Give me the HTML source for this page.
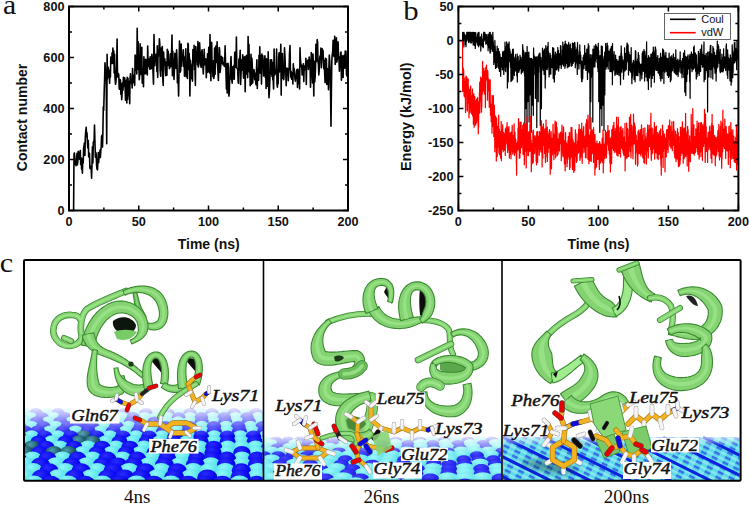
<!DOCTYPE html>
<html><head><meta charset="utf-8"><style>
html,body{margin:0;padding:0;background:#fff;width:749px;height:505px;overflow:hidden}
svg{display:block}
.ax{font-family:"Liberation Sans",sans-serif;font-weight:bold;font-size:12.7px;fill:#111}
.tt{font-family:"Liberation Sans",sans-serif;font-weight:bold;font-size:14px;fill:#111}
.pl{font-family:"Liberation Serif",serif;font-size:27px;fill:#111}
.lg{font-family:"Liberation Sans",sans-serif;font-size:11px;fill:#111}
.sub{font-family:"Liberation Serif",serif;font-size:19px;fill:#111}
.res{font-family:"Liberation Serif",serif;font-style:italic;font-size:17px;fill:#111;stroke:#111;stroke-width:0.45px}
</style></head><body>
<svg width="749" height="505" viewBox="0 0 749 505">
<rect width="749" height="505" fill="#fff"/>
<text class="pl" transform="translate(3.0,14.3) scale(1.06,1)" style="font-size:28px">a</text>
<text class="pl" transform="translate(403.3,19.9) scale(1.12,1)" style="font-size:27.5px">b</text>
<text class="pl" transform="translate(-0.2,271.8) scale(1.08,1)" style="font-size:28px">c</text>
<!-- chart a -->
<polyline points="73.6,210.5 74.0,154.4 74.4,152.9 74.9,159.3 75.3,164.3 75.7,162.7 76.1,165.8 76.5,160.5 77.0,153.2 77.4,164.8 77.8,161.9 78.2,151.3 78.6,152.5 79.0,154.2 79.5,159.2 79.9,153.6 80.3,150.5 80.7,164.5 81.1,157.9 81.6,169.2 82.0,167.6 82.4,173.3 82.8,158.4 83.2,162.9 83.6,148.6 84.1,145.2 84.5,142.7 84.9,155.5 85.3,137.4 85.7,131.7 86.2,127.3 86.6,136.3 87.0,132.9 87.4,142.2 87.8,148.0 88.3,140.5 88.7,157.0 89.1,153.8 89.5,153.4 89.9,168.3 90.3,168.6 90.8,166.2 91.2,168.4 91.6,178.3 92.0,163.6 92.4,146.9 92.9,163.0 93.3,142.6 93.7,141.3 94.1,141.5 94.5,125.0 94.9,140.6 95.4,157.2 95.8,152.2 96.2,154.5 96.6,165.3 97.0,169.1 97.5,169.9 97.9,161.9 98.3,152.5 98.7,162.6 99.1,153.8 99.6,157.7 100.0,150.0 100.4,157.5 100.8,150.9 101.2,146.4 101.6,136.4 102.1,135.2 102.5,147.0 102.9,130.7 103.3,106.9 103.7,110.4 104.2,91.5 104.6,79.3 105.0,62.8 105.4,69.1 105.8,79.4 106.2,77.4 106.7,143.7 107.1,54.4 107.5,78.8 107.9,75.8 108.3,67.3 108.8,72.4 109.2,72.5 109.6,83.3 110.0,70.4 110.4,77.1 110.8,57.1 111.3,59.2 111.7,63.4 112.1,52.8 112.5,63.4 112.9,48.0 113.4,57.9 113.8,51.1 114.2,73.1 114.6,54.3 115.0,77.8 115.5,84.3 115.9,82.3 116.3,76.1 116.7,65.6 117.1,39.1 117.5,77.0 118.0,76.2 118.4,73.5 118.8,75.4 119.2,88.7 119.6,89.2 120.1,79.5 120.5,80.7 120.9,94.4 121.3,83.5 121.7,99.7 122.1,93.5 122.6,82.6 123.0,90.3 123.4,77.2 123.8,85.0 124.2,86.5 124.7,77.9 125.1,85.8 125.5,100.3 125.9,95.1 126.3,80.4 126.8,103.0 127.2,77.4 127.6,99.4 128.0,78.4 128.4,95.6 128.8,81.1 129.3,88.6 129.7,103.7 130.1,77.4 130.5,73.9 130.9,82.5 131.4,82.6 131.8,81.9 132.2,88.0 132.6,68.6 133.0,82.7 133.4,75.1 133.9,82.4 134.3,81.0 134.7,85.4 135.1,55.0 135.5,70.3 136.0,56.4 136.4,66.1 136.8,73.9 137.2,28.2 137.6,69.2 138.1,41.5 138.5,65.7 138.9,67.1 139.3,79.8 139.7,73.3 140.1,43.8 140.6,73.0 141.0,74.5 141.4,57.9 141.8,47.2 142.2,83.1 142.7,68.4 143.1,72.9 143.5,86.8 143.9,56.7 144.3,66.1 144.7,63.5 145.2,73.9 145.6,59.3 146.0,68.9 146.4,59.9 146.8,72.9 147.3,74.9 147.7,46.1 148.1,66.2 148.5,58.5 148.9,62.7 149.4,67.2 149.8,69.2 150.2,56.8 150.6,67.9 151.0,68.8 151.4,68.1 151.9,54.2 152.3,58.7 152.7,61.6 153.1,74.8 153.5,84.3 154.0,34.6 154.4,53.2 154.8,65.8 155.2,58.8 155.6,54.5 156.0,54.4 156.5,54.8 156.9,71.6 157.3,45.7 157.7,77.4 158.1,50.7 158.6,55.7 159.0,49.7 159.4,38.9 159.8,43.8 160.2,70.7 160.7,76.3 161.1,48.1 161.5,70.1 161.9,58.1 162.3,46.5 162.7,76.9 163.2,85.5 163.6,52.1 164.0,60.7 164.4,64.0 164.8,58.7 165.3,69.0 165.7,75.7 166.1,62.0 166.5,70.3 166.9,75.2 167.3,49.4 167.8,56.4 168.2,51.3 168.6,65.5 169.0,63.9 169.4,68.7 169.9,67.3 170.3,54.0 170.7,66.8 171.1,53.5 171.5,54.6 172.0,35.1 172.4,75.8 172.8,51.2 173.2,62.9 173.6,60.8 174.0,79.4 174.5,68.3 174.9,53.2 175.3,64.7 175.7,62.5 176.1,68.5 176.6,49.7 177.0,59.9 177.4,82.8 177.8,83.0 178.2,80.6 178.6,96.1 179.1,64.7 179.5,41.0 179.9,58.9 180.3,72.1 180.7,70.0 181.2,44.1 181.6,66.3 182.0,58.8 182.4,60.1 182.8,58.3 183.3,49.8 183.7,66.4 184.1,57.8 184.5,76.3 184.9,56.7 185.3,69.7 185.8,48.9 186.2,76.8 186.6,62.1 187.0,61.7 187.4,78.5 187.9,43.2 188.3,44.5 188.7,69.5 189.1,53.2 189.5,59.1 189.9,96.0 190.4,60.3 190.8,64.3 191.2,64.7 191.6,78.7 192.0,67.7 192.5,81.1 192.9,49.6 193.3,59.1 193.7,62.1 194.1,45.4 194.5,69.4 195.0,67.7 195.4,85.4 195.8,46.5 196.2,53.5 196.6,54.0 197.1,57.8 197.5,64.9 197.9,41.6 198.3,67.0 198.7,65.2 199.2,60.5 199.6,42.9 200.0,51.0 200.4,60.2 200.8,65.6 201.2,67.4 201.7,51.9 202.1,49.7 202.5,58.8 202.9,65.7 203.3,74.0 203.8,61.0 204.2,49.3 204.6,64.8 205.0,62.6 205.4,62.1 205.8,58.9 206.3,77.8 206.7,66.0 207.1,72.5 207.5,53.9 207.9,72.0 208.4,56.8 208.8,47.2 209.2,68.2 209.6,73.0 210.0,34.6 210.5,69.5 210.9,80.8 211.3,62.5 211.7,42.4 212.1,69.2 212.5,66.8 213.0,76.7 213.4,60.9 213.8,78.4 214.2,75.2 214.6,48.0 215.1,74.2 215.5,51.3 215.9,46.1 216.3,62.4 216.7,57.3 217.1,41.7 217.6,66.2 218.0,72.2 218.4,80.5 218.8,63.6 219.2,47.5 219.7,50.4 220.1,72.5 220.5,69.0 220.9,64.0 221.3,56.4 221.8,63.3 222.2,58.1 222.6,57.5 223.0,64.8 223.4,62.5 223.8,62.7 224.3,66.4 224.7,62.9 225.1,45.9 225.5,61.7 225.9,68.7 226.4,89.1 226.8,63.8 227.2,93.1 227.6,71.1 228.0,63.3 228.4,67.3 228.9,96.1 229.3,92.5 229.7,77.7 230.1,79.4 230.5,65.4 231.0,56.5 231.4,68.9 231.8,80.0 232.2,83.1 232.6,66.8 233.1,67.7 233.5,78.9 233.9,65.4 234.3,79.2 234.7,52.9 235.1,52.1 235.6,51.9 236.0,67.4 236.4,37.1 236.8,67.2 237.2,68.8 237.7,68.8 238.1,81.3 238.5,83.3 238.9,59.0 239.3,70.1 239.7,61.2 240.2,50.3 240.6,84.4 241.0,74.7 241.4,64.1 241.8,59.9 242.3,70.2 242.7,54.7 243.1,62.8 243.5,78.1 243.9,75.5 244.4,56.9 244.8,63.2 245.2,91.7 245.6,56.7 246.0,63.6 246.4,55.3 246.9,74.2 247.3,69.8 247.7,77.6 248.1,36.5 248.5,66.9 249.0,44.5 249.4,72.1 249.8,64.1 250.2,85.8 250.6,73.1 251.0,54.4 251.5,84.3 251.9,58.4 252.3,66.9 252.7,82.9 253.1,75.8 253.6,74.4 254.0,69.6 254.4,73.2 254.8,79.8 255.2,73.2 255.7,82.4 256.1,84.8 256.5,69.5 256.9,59.7 257.3,88.5 257.7,68.8 258.2,75.6 258.6,80.3 259.0,55.3 259.4,67.9 259.8,46.9 260.3,73.3 260.7,55.9 261.1,62.4 261.5,84.1 261.9,54.0 262.3,64.1 262.8,55.9 263.2,64.7 263.6,75.9 264.0,65.2 264.4,64.3 264.9,55.7 265.3,77.5 265.7,68.7 266.1,88.5 266.5,58.8 267.0,78.5 267.4,86.3 267.8,81.9 268.2,51.7 268.6,82.9 269.0,97.7 269.5,89.3 269.9,79.6 270.3,59.8 270.7,73.9 271.1,74.2 271.6,59.7 272.0,76.5 272.4,62.2 272.8,79.7 273.2,80.5 273.6,89.0 274.1,49.1 274.5,75.4 274.9,71.4 275.3,73.9 275.7,69.3 276.2,69.1 276.6,49.1 277.0,84.3 277.4,87.1 277.8,80.0 278.2,83.6 278.7,57.4 279.1,52.7 279.5,71.9 279.9,59.5 280.3,65.1 280.8,44.2 281.2,95.1 281.6,57.9 282.0,76.8 282.4,53.6 282.9,78.5 283.3,69.1 283.7,79.8 284.1,75.3 284.5,47.9 284.9,55.0 285.4,68.7 285.8,72.8 286.2,85.8 286.6,69.7 287.0,68.1 287.5,69.9 287.9,68.8 288.3,80.6 288.7,69.6 289.1,69.5 289.5,53.5 290.0,45.6 290.4,69.9 290.8,77.3 291.2,71.6 291.6,79.2 292.1,77.6 292.5,72.6 292.9,84.0 293.3,63.7 293.7,72.0 294.2,68.5 294.6,73.1 295.0,78.9 295.4,81.1 295.8,75.2 296.2,78.3 296.7,69.7 297.1,72.6 297.5,87.4 297.9,69.0 298.3,83.7 298.8,75.6 299.2,70.0 299.6,88.9 300.0,47.9 300.4,59.1 300.8,63.3 301.3,67.0 301.7,65.4 302.1,74.9 302.5,66.4 302.9,70.7 303.4,63.7 303.8,81.6 304.2,65.8 304.6,66.5 305.0,68.1 305.5,69.8 305.9,58.3 306.3,84.5 306.7,60.8 307.1,62.5 307.5,62.3 308.0,60.1 308.4,69.5 308.8,65.1 309.2,57.1 309.6,60.8 310.1,65.5 310.5,87.2 310.9,74.7 311.3,52.5 311.7,56.5 312.1,64.1 312.6,82.9 313.0,54.0 313.4,67.7 313.8,96.0 314.2,61.2 314.7,81.9 315.1,77.7 315.5,68.2 315.9,44.2 316.3,61.8 316.8,53.9 317.2,39.6 317.6,41.9 318.0,61.7 318.4,64.2 318.8,74.9 319.3,69.2 319.7,57.7 320.1,55.9 320.5,58.5 320.9,48.1 321.4,67.7 321.8,58.1 322.2,48.9 322.6,55.0 323.0,50.5 323.4,59.1 323.9,68.9 324.3,60.5 324.7,74.5 325.1,82.7 325.5,58.4 326.0,62.5 326.4,59.0 326.8,84.5 327.2,68.3 327.6,70.4 328.1,74.6 328.5,89.7 328.9,68.0 329.3,55.0 329.7,60.6 330.1,70.8 330.6,95.8 331.0,126.3 331.4,90.7 331.8,61.5 332.2,55.2 332.7,51.7 333.1,40.4 333.5,47.6 333.9,56.5 334.3,55.7 334.7,36.2 335.2,64.4 335.6,60.2 336.0,50.5 336.4,37.7 336.8,62.1 337.3,59.1 337.7,56.3 338.1,41.9 338.5,56.4 338.9,56.6 339.4,71.3 339.8,64.6 340.2,67.3 340.6,53.3 341.0,52.0 341.4,80.2 341.9,72.7 342.3,55.7 342.7,66.5 343.1,77.5 343.5,61.6 344.0,55.3 344.4,55.6 344.8,68.3 345.2,51.1 345.6,63.8 346.0,51.3 346.5,74.8 346.9,75.8 347.3,63.2 347.7,72.6" fill="none" stroke="#000" stroke-width="1.6" stroke-linejoin="round"/>
<rect x="69" y="6.5" width="279" height="204" fill="none" stroke="#000" stroke-width="2"/>
<path d="M69.00 210.5v-5M69.00 6.5v5M103.88 210.5v-3M103.88 6.5v3M138.75 210.5v-5M138.75 6.5v5M173.62 210.5v-3M173.62 6.5v3M208.50 210.5v-5M208.50 6.5v5M243.38 210.5v-3M243.38 6.5v3M278.25 210.5v-5M278.25 6.5v5M313.12 210.5v-3M313.12 6.5v3M348.00 210.5v-5M348.00 6.5v5M69 210.50h5M348 210.50h-5M69 185.00h3M348 185.00h-3M69 159.50h5M348 159.50h-5M69 134.00h3M348 134.00h-3M69 108.50h5M348 108.50h-5M69 83.00h3M348 83.00h-3M69 57.50h5M348 57.50h-5M69 32.00h3M348 32.00h-3M69 6.50h5M348 6.50h-5" stroke="#000" stroke-width="1.5" fill="none"/>
<g class="ax"><text x="64.5" y="215.0" text-anchor="end">0</text><text x="64.5" y="164.0" text-anchor="end">200</text><text x="64.5" y="113.0" text-anchor="end">400</text><text x="64.5" y="62.0" text-anchor="end">600</text><text x="64.5" y="11.0" text-anchor="end">800</text><text x="69.0" y="225.6" text-anchor="middle">0</text><text x="138.8" y="225.6" text-anchor="middle">50</text><text x="208.5" y="225.6" text-anchor="middle">100</text><text x="278.2" y="225.6" text-anchor="middle">150</text><text x="348.0" y="225.6" text-anchor="middle">200</text></g>
<text class="tt" x="208.7" y="249" text-anchor="middle">Time (ns)</text>
<text class="tt" transform="translate(26.5,117.5) rotate(-90)" text-anchor="middle">Contact number</text>
<!-- chart b -->
<polyline points="458.4,40.5 462.6,40.5 462.6,38.3 462.7,32.3 462.9,32.3 463.0,40.0 463.2,38.1 463.3,39.1 463.4,34.0 463.6,36.1 463.7,33.2 463.9,47.0 464.0,32.3 464.1,38.9 464.3,34.6 464.4,38.7 464.6,39.9 464.7,35.7 464.8,34.3 465.0,38.9 465.1,38.4 465.3,35.4 465.4,40.9 465.5,44.4 465.7,35.8 465.8,40.7 466.0,46.7 466.1,41.2 466.2,38.8 466.4,40.7 466.5,41.5 466.7,35.1 466.8,32.3 466.9,36.7 467.1,38.8 467.2,33.4 467.4,32.3 467.5,36.8 467.6,34.2 467.8,32.3 467.9,36.5 468.1,40.5 468.2,36.3 468.3,36.6 468.5,32.3 468.6,42.3 468.8,38.5 468.9,39.0 469.0,42.6 469.2,33.5 469.3,32.3 469.5,37.4 469.6,32.3 469.7,32.3 469.9,32.3 470.0,33.2 470.2,32.3 470.3,41.4 470.4,32.9 470.6,33.3 470.7,42.9 470.9,33.4 471.0,36.0 471.1,32.3 471.3,37.9 471.4,36.9 471.6,37.5 471.7,42.8 471.8,35.8 472.0,38.3 472.1,35.4 472.3,40.6 472.4,32.3 472.5,33.9 472.7,37.5 472.8,34.8 473.0,32.3 473.1,32.3 473.2,45.0 473.4,33.9 473.5,35.6 473.7,38.7 473.8,41.7 473.9,32.5 474.1,44.5 474.2,36.1 474.4,32.7 474.5,45.5 474.6,40.1 474.8,44.5 474.9,38.0 475.1,33.7 475.2,32.3 475.3,48.4 475.5,43.2 475.6,36.9 475.8,32.9 475.9,35.8 476.0,42.1 476.2,38.1 476.3,39.3 476.5,39.0 476.6,41.6 476.7,37.8 476.9,37.2 477.0,39.7 477.2,40.4 477.3,44.3 477.4,41.3 477.6,34.2 477.7,39.9 477.9,45.6 478.0,33.1 478.1,37.4 478.3,32.3 478.4,40.4 478.6,43.9 478.7,46.8 478.8,34.1 479.0,32.3 479.1,43.6 479.3,42.8 479.4,37.4 479.5,44.9 479.7,41.9 479.8,42.8 480.0,40.5 480.1,37.7 480.2,41.5 480.4,36.9 480.5,42.4 480.7,39.8 480.8,51.1 480.9,47.0 481.1,37.3 481.2,43.1 481.4,37.8 481.5,38.9 481.6,34.1 481.8,38.0 481.9,36.8 482.1,41.8 482.2,45.7 482.3,45.5 482.5,43.9 482.6,46.6 482.8,44.7 482.9,42.2 483.0,39.7 483.2,42.1 483.3,47.7 483.5,38.8 483.6,36.9 483.7,32.3 483.9,35.0 484.0,40.9 484.2,41.0 484.3,32.3 484.4,33.1 484.6,32.3 484.7,32.3 484.9,39.3 485.0,34.4 485.1,34.5 485.3,34.6 485.4,34.1 485.6,36.2 485.7,36.8 485.8,44.2 486.0,38.9 486.1,41.8 486.3,39.8 486.4,43.5 486.5,36.1 486.7,34.6 486.8,38.1 487.0,39.6 487.1,39.3 487.2,43.2 487.4,41.1 487.5,45.0 487.7,38.3 487.8,40.7 487.9,37.1 488.1,50.8 488.2,34.1 488.4,46.4 488.5,47.1 488.6,42.4 488.8,45.0 488.9,39.3 489.1,43.8 489.2,47.5 489.3,46.2 489.5,32.3 489.6,40.5 489.8,49.2 489.9,41.0 490.0,52.9 490.2,32.3 490.3,53.1 490.5,38.8 490.6,38.1 490.7,51.9 490.9,39.5 491.0,34.4 491.2,38.8 491.3,40.8 491.4,35.3 491.6,42.9 491.7,41.6 491.9,42.6 492.0,39.0 492.1,49.4 492.3,38.8 492.4,48.1 492.6,51.3 492.7,40.1 492.8,32.3 493.0,38.5 493.1,50.6 493.3,41.7 493.4,50.6 493.5,48.6 493.7,47.2 493.8,64.5 494.0,46.5 494.1,55.5 494.2,54.8 494.4,59.6 494.5,62.5 494.7,57.7 494.8,46.0 494.9,40.5 495.1,53.3 495.2,46.0 495.4,56.0 495.5,68.4 495.6,54.9 495.8,52.4 495.9,59.4 496.1,53.4 496.2,52.0 496.3,63.1 496.5,67.5 496.6,58.1 496.8,59.1 496.9,60.7 497.0,50.3 497.2,46.2 497.3,62.5 497.5,54.7 497.6,54.3 497.7,58.0 497.9,57.0 498.0,66.9 498.2,58.3 498.3,48.6 498.4,57.0 498.6,68.2 498.7,58.9 498.9,53.3 499.0,60.3 499.1,66.2 499.3,51.5 499.4,71.3 499.6,58.5 499.7,63.5 499.8,70.7 500.0,54.2 500.1,60.5 500.3,71.8 500.4,58.8 500.5,65.8 500.7,76.3 500.8,66.6 501.0,59.6 501.1,57.3 501.2,63.1 501.4,64.2 501.5,61.4 501.7,66.9 501.8,57.7 501.9,64.5 502.1,62.6 502.2,59.3 502.4,69.8 502.5,68.0 502.6,51.8 502.8,61.5 502.9,65.3 503.1,60.6 503.2,67.1 503.3,61.7 503.5,68.6 503.6,62.4 503.8,74.5 503.9,51.2 504.0,63.7 504.2,70.5 504.3,60.8 504.5,62.2 504.6,56.7 504.7,66.4 504.9,55.1 505.0,42.2 505.2,66.9 505.3,55.4 505.4,59.7 505.6,57.2 505.7,71.7 505.9,65.9 506.0,55.3 506.1,59.5 506.3,46.5 506.4,63.0 506.6,55.9 506.7,41.9 506.8,64.5 507.0,66.6 507.1,61.5 507.3,61.3 507.4,88.1 507.5,60.4 507.7,67.6 507.8,61.2 508.0,44.0 508.1,54.8 508.2,81.9 508.4,62.5 508.5,68.1 508.7,57.8 508.8,61.6 508.9,44.8 509.1,42.0 509.2,52.5 509.4,56.6 509.5,59.2 509.6,57.1 509.8,49.2 509.9,55.3 510.1,62.0 510.2,51.6 510.3,60.0 510.5,61.4 510.6,67.2 510.8,66.7 510.9,67.7 511.0,81.6 511.2,54.3 511.3,58.0 511.5,63.5 511.6,54.1 511.7,58.4 511.9,60.4 512.0,80.5 512.2,64.6 512.3,58.5 512.4,51.9 512.6,49.4 512.7,52.8 512.9,72.7 513.0,79.0 513.1,59.6 513.3,49.2 513.4,56.6 513.6,63.5 513.7,60.2 513.8,71.6 514.0,57.1 514.1,64.9 514.3,75.5 514.4,59.7 514.5,64.6 514.7,61.1 514.8,63.3 515.0,59.0 515.1,61.7 515.2,70.0 515.4,71.0 515.5,54.5 515.7,67.0 515.8,58.1 515.9,63.1 516.1,70.4 516.2,70.4 516.4,63.4 516.5,62.2 516.6,61.6 516.8,75.8 516.9,70.8 517.1,67.7 517.2,53.9 517.3,82.0 517.5,61.8 517.6,69.6 517.8,63.5 517.9,70.6 518.0,64.9 518.2,56.5 518.3,64.7 518.5,63.9 518.6,63.4 518.7,72.5 518.9,63.0 519.0,68.2 519.2,71.1 519.3,65.7 519.4,66.8 519.6,60.4 519.7,65.7 519.9,68.8 520.0,55.1 520.1,58.8 520.3,56.8 520.4,61.0 520.6,67.0 520.7,68.4 520.8,67.7 521.0,57.3 521.1,62.1 521.3,73.8 521.4,64.0 521.5,71.8 521.7,60.0 521.8,69.4 522.0,70.2 522.1,60.5 522.2,61.3 522.4,72.2 522.5,55.7 522.7,44.6 522.8,70.5 522.9,47.7 523.1,64.9 523.2,63.7 523.4,60.9 523.5,70.5 523.6,50.6 523.8,57.8 523.9,66.4 524.1,64.3 524.2,73.1 524.3,66.8 524.5,57.7 524.6,76.0 524.8,66.5 524.9,128.9 525.0,55.8 525.2,52.4 525.3,64.0 525.5,67.0 525.6,59.2 525.7,65.5 525.9,108.5 526.0,55.1 526.2,52.8 526.3,62.4 526.4,65.9 526.6,61.2 526.7,78.0 526.9,64.9 527.0,132.3 527.1,46.3 527.3,58.5 527.4,61.6 527.6,63.4 527.7,80.4 527.8,101.7 528.0,52.6 528.1,68.9 528.3,59.0 528.4,57.3 528.5,73.3 528.7,55.4 528.8,52.1 529.0,60.9 529.1,122.1 529.2,57.6 529.4,76.2 529.5,65.9 529.7,58.4 529.8,75.1 529.9,59.2 530.1,94.9 530.2,82.7 530.4,67.8 530.5,73.9 530.6,65.0 530.8,74.3 530.9,58.4 531.1,71.5 531.2,132.3 531.3,70.8 531.5,68.4 531.6,58.4 531.8,65.9 531.9,70.8 532.0,76.7 532.2,59.3 532.3,105.1 532.5,69.3 532.6,64.0 532.7,71.7 532.9,71.0 533.0,69.0 533.2,60.9 533.3,115.3 533.4,69.1 533.6,48.0 533.7,57.5 533.9,63.3 534.0,54.9 534.1,65.4 534.3,64.2 534.4,59.2 534.6,63.9 534.7,58.5 534.8,74.7 535.0,56.7 535.1,74.0 535.3,69.4 535.4,98.3 535.5,63.7 535.7,57.8 535.8,58.0 536.0,59.7 536.1,76.9 536.2,71.5 536.4,69.5 536.5,71.8 536.7,56.8 536.8,127.5 536.9,65.4 537.1,61.3 537.2,71.8 537.4,71.2 537.5,71.0 537.6,60.0 537.8,60.2 537.9,59.7 538.1,56.2 538.2,101.7 538.3,67.7 538.5,61.9 538.6,72.3 538.8,66.0 538.9,55.0 539.0,54.2 539.2,53.9 539.3,62.5 539.5,65.1 539.6,56.7 539.7,65.7 539.9,60.3 540.0,53.0 540.2,64.9 540.3,125.5 540.4,63.4 540.6,58.4 540.7,59.5 540.9,60.5 541.0,57.5 541.1,72.9 541.3,67.8 541.4,108.5 541.6,68.3 541.7,70.1 541.8,67.2 542.0,66.2 542.1,60.8 542.3,66.3 542.4,58.1 542.5,48.2 542.7,61.8 542.8,53.7 543.0,60.2 543.1,70.3 543.2,64.2 543.4,69.3 543.5,56.6 543.7,68.5 543.8,50.7 543.9,55.4 544.1,74.4 544.2,54.1 544.4,49.0 544.5,65.9 544.6,54.0 544.8,74.5 544.9,59.5 545.1,72.6 545.2,88.1 545.3,73.8 545.5,79.6 545.6,60.0 545.8,45.7 545.9,66.4 546.0,56.0 546.2,60.2 546.3,63.6 546.5,56.2 546.6,49.2 546.7,69.3 546.9,56.9 547.0,58.2 547.2,69.7 547.3,48.6 547.4,46.7 547.6,67.7 547.7,48.3 547.9,58.1 548.0,60.2 548.1,42.4 548.3,59.7 548.4,60.3 548.6,52.2 548.7,53.8 548.8,57.4 549.0,74.2 549.1,76.9 549.3,57.4 549.4,72.6 549.5,64.0 549.7,71.8 549.8,66.1 550.0,74.1 550.1,53.3 550.2,71.5 550.4,66.4 550.5,66.8 550.7,55.3 550.8,74.1 550.9,63.9 551.1,65.1 551.2,60.8 551.4,60.3 551.5,66.8 551.6,61.6 551.8,65.3 551.9,58.6 552.1,64.2 552.2,67.7 552.3,63.7 552.5,60.7 552.6,47.7 552.8,68.0 552.9,61.4 553.0,53.1 553.2,78.6 553.3,76.4 553.5,72.3 553.6,64.6 553.7,48.2 553.9,63.4 554.0,57.7 554.2,67.2 554.3,82.0 554.4,81.6 554.6,56.1 554.7,61.9 554.9,72.1 555.0,55.2 555.1,74.6 555.3,54.3 555.4,52.1 555.6,68.0 555.7,69.4 555.8,54.0 556.0,69.1 556.1,55.3 556.3,69.9 556.4,54.1 556.5,57.2 556.7,61.0 556.8,64.0 557.0,55.3 557.1,69.6 557.2,58.4 557.4,58.6 557.5,51.5 557.7,67.6 557.8,47.5 557.9,61.8 558.1,67.0 558.2,50.8 558.4,50.3 558.5,63.4 558.6,71.1 558.8,64.1 558.9,68.2 559.1,67.8 559.2,53.7 559.3,62.0 559.5,62.5 559.6,60.7 559.8,63.7 559.9,57.0 560.0,55.9 560.2,64.6 560.3,61.0 560.5,45.6 560.6,59.4 560.7,63.6 560.9,46.0 561.0,60.5 561.2,68.4 561.3,56.2 561.4,66.8 561.6,64.0 561.7,58.6 561.9,60.5 562.0,63.5 562.1,62.3 562.3,63.4 562.4,49.9 562.6,64.0 562.7,60.6 562.8,42.1 563.0,59.8 563.1,46.3 563.3,47.6 563.4,57.2 563.5,65.9 563.7,52.9 563.8,49.4 564.0,58.0 564.1,53.4 564.2,45.8 564.4,44.7 564.5,61.1 564.7,44.1 564.8,53.1 564.9,68.3 565.1,56.3 565.2,41.2 565.4,46.5 565.5,65.9 565.6,53.1 565.8,54.2 565.9,53.7 566.1,57.1 566.2,63.3 566.3,44.0 566.5,57.2 566.6,52.7 566.8,55.6 566.9,56.2 567.0,46.3 567.2,48.3 567.3,67.7 567.5,59.0 567.6,54.8 567.7,44.8 567.9,51.7 568.0,51.0 568.2,55.9 568.3,55.1 568.4,51.8 568.6,66.9 568.7,42.4 568.9,60.0 569.0,57.6 569.1,45.7 569.3,52.4 569.4,53.6 569.6,58.3 569.7,65.9 569.8,53.0 570.0,46.0 570.1,61.1 570.3,44.1 570.4,62.3 570.5,59.8 570.7,50.6 570.8,53.4 571.0,48.6 571.1,58.8 571.2,60.8 571.4,66.2 571.5,60.4 571.7,60.3 571.8,63.0 571.9,50.7 572.1,57.2 572.2,65.5 572.4,43.1 572.5,57.3 572.6,59.5 572.8,43.1 572.9,44.1 573.1,61.0 573.2,63.4 573.3,59.9 573.5,45.2 573.6,54.1 573.8,58.3 573.9,53.0 574.0,43.4 574.2,61.3 574.3,54.3 574.5,61.2 574.6,42.6 574.7,42.4 574.9,43.6 575.0,52.3 575.2,46.7 575.3,67.8 575.4,51.6 575.6,64.2 575.7,63.1 575.9,59.1 576.0,56.4 576.1,50.6 576.3,49.9 576.4,53.3 576.6,62.7 576.7,50.4 576.8,57.5 577.0,47.7 577.1,60.5 577.3,74.4 577.4,58.1 577.5,42.5 577.7,52.7 577.8,58.9 578.0,50.7 578.1,53.9 578.2,55.7 578.4,63.7 578.5,60.8 578.7,60.0 578.8,65.3 578.9,69.0 579.1,60.9 579.2,55.6 579.4,57.8 579.5,60.8 579.6,60.1 579.8,44.9 579.9,63.4 580.1,56.7 580.2,51.5 580.3,54.0 580.5,62.5 580.6,58.2 580.8,55.1 580.9,65.7 581.0,66.1 581.2,68.0 581.3,77.5 581.5,61.1 581.6,71.2 581.7,81.6 581.9,70.9 582.0,81.7 582.2,76.4 582.3,69.8 582.4,74.8 582.6,61.5 582.7,78.8 582.9,66.9 583.0,64.3 583.1,57.3 583.3,60.3 583.4,63.9 583.6,65.6 583.7,64.1 583.8,55.1 584.0,68.5 584.1,61.2 584.3,63.5 584.4,59.7 584.5,63.3 584.7,45.5 584.8,64.3 585.0,57.7 585.1,57.9 585.2,55.5 585.4,56.0 585.5,56.1 585.7,53.2 585.8,70.3 585.9,60.9 586.1,70.3 586.2,58.8 586.4,68.7 586.5,66.9 586.6,60.3 586.8,49.1 586.9,55.0 587.1,58.6 587.2,50.4 587.3,69.7 587.5,79.5 587.6,66.2 587.8,64.2 587.9,53.7 588.0,47.3 588.2,71.9 588.3,43.8 588.5,50.9 588.6,56.8 588.7,60.6 588.9,45.7 589.0,62.2 589.2,66.4 589.3,61.3 589.4,72.9 589.6,59.7 589.7,64.4 589.9,62.0 590.0,128.9 590.1,71.0 590.3,54.7 590.4,71.3 590.6,58.4 590.7,75.5 590.8,101.7 591.0,68.3 591.1,62.9 591.3,67.9 591.4,77.2 591.5,69.7 591.7,60.2 591.8,54.9 592.0,71.0 592.1,74.7 592.2,65.1 592.4,59.6 592.5,61.3 592.7,62.2 592.8,122.1 592.9,49.1 593.1,51.0 593.2,62.6 593.4,57.1 593.5,57.6 593.6,67.0 593.8,50.1 593.9,55.5 594.1,59.6 594.2,46.0 594.3,50.6 594.5,51.4 594.6,49.4 594.8,51.9 594.9,67.0 595.0,61.6 595.2,49.9 595.3,61.6 595.5,54.6 595.6,52.1 595.7,44.5 595.9,45.0 596.0,47.5 596.2,55.4 596.3,48.9 596.4,52.3 596.6,58.6 596.7,46.5 596.9,53.0 597.0,62.2 597.1,47.6 597.3,58.5 597.4,52.0 597.6,67.7 597.7,58.3 597.8,63.5 598.0,64.4 598.1,71.5 598.3,43.3 598.4,60.1 598.5,57.4 598.7,50.6 598.8,101.7 599.0,55.5 599.1,69.5 599.2,57.4 599.4,62.8 599.5,56.2 599.7,57.9 599.8,132.3 599.9,73.5 600.1,67.4 600.2,55.6 600.4,58.0 600.5,57.3 600.6,74.4 600.8,79.6 600.9,108.5 601.1,62.6 601.2,63.5 601.3,45.9 601.5,59.3 601.6,65.3 601.8,64.5 601.9,125.5 602.0,60.8 602.2,61.2 602.3,46.4 602.5,64.4 602.6,61.1 602.7,70.2 602.9,105.1 603.0,60.0 603.2,59.1 603.3,65.5 603.4,61.2 603.6,63.0 603.7,76.7 603.9,86.5 604.0,130.3 604.1,56.0 604.3,62.3 604.4,74.6 604.6,70.8 604.7,52.2 604.8,94.9 605.0,63.6 605.1,54.2 605.3,60.1 605.4,55.7 605.5,61.7 605.7,43.4 605.8,66.9 606.0,69.0 606.1,56.7 606.2,46.9 606.4,65.5 606.5,50.0 606.7,62.5 606.8,66.7 606.9,48.7 607.1,47.3 607.2,43.2 607.4,60.8 607.5,65.1 607.6,66.2 607.8,45.6 607.9,53.9 608.1,55.6 608.2,69.0 608.3,57.5 608.5,58.5 608.6,56.0 608.8,55.9 608.9,56.4 609.0,51.2 609.2,55.6 609.3,54.0 609.5,60.9 609.6,53.2 609.7,57.4 609.9,71.6 610.0,51.2 610.2,57.0 610.3,48.9 610.4,56.6 610.6,56.0 610.7,55.0 610.9,58.1 611.0,61.8 611.1,71.6 611.3,46.4 611.4,71.7 611.6,63.7 611.7,56.9 611.8,59.0 612.0,59.0 612.1,58.0 612.3,54.2 612.4,84.7 612.5,43.7 612.7,71.9 612.8,63.1 613.0,66.6 613.1,69.2 613.2,62.7 613.4,54.7 613.5,70.0 613.7,69.4 613.8,59.8 613.9,61.7 614.1,51.7 614.2,57.7 614.4,63.8 614.5,68.9 614.6,65.5 614.8,68.0 614.9,75.5 615.1,66.0 615.2,67.5 615.3,68.1 615.5,69.5 615.6,55.1 615.8,62.5 615.9,60.5 616.0,71.4 616.2,74.3 616.3,69.8 616.5,66.4 616.6,71.1 616.7,69.0 616.9,59.6 617.0,64.0 617.2,71.8 617.3,68.1 617.4,69.9 617.6,65.0 617.7,74.4 617.9,67.6 618.0,61.3 618.1,65.6 618.3,72.5 618.4,71.2 618.6,65.9 618.7,63.4 618.8,60.7 619.0,67.2 619.1,75.7 619.3,56.2 619.4,62.8 619.5,61.2 619.7,62.0 619.8,72.3 620.0,67.5 620.1,63.0 620.2,56.8 620.4,61.8 620.5,84.7 620.7,64.1 620.8,60.1 620.9,53.3 621.1,57.8 621.2,46.0 621.4,52.8 621.5,53.2 621.6,55.1 621.8,72.1 621.9,56.0 622.1,57.2 622.2,66.8 622.3,59.9 622.5,60.5 622.6,66.7 622.8,65.7 622.9,67.2 623.0,64.5 623.2,69.5 623.3,61.2 623.5,79.2 623.6,65.8 623.7,76.0 623.9,68.0 624.0,59.5 624.2,62.3 624.3,62.1 624.4,59.3 624.6,47.8 624.7,65.9 624.9,53.2 625.0,71.0 625.1,63.2 625.3,58.6 625.4,65.3 625.6,58.1 625.7,53.5 625.8,65.7 626.0,57.3 626.1,58.9 626.3,69.7 626.4,56.6 626.5,60.9 626.7,46.1 626.8,61.9 627.0,43.5 627.1,60.8 627.2,43.0 627.4,53.0 627.5,53.5 627.7,51.5 627.8,50.5 627.9,46.5 628.1,44.8 628.2,59.5 628.4,65.4 628.5,75.0 628.6,59.5 628.8,52.2 628.9,55.0 629.1,57.8 629.2,59.2 629.3,62.0 629.5,60.1 629.6,54.9 629.8,70.7 629.9,54.9 630.0,70.6 630.2,62.2 630.3,66.0 630.5,65.5 630.6,71.0 630.7,71.9 630.9,65.4 631.0,72.4 631.2,47.6 631.3,68.8 631.4,70.4 631.6,69.7 631.7,74.4 631.9,83.7 632.0,68.6 632.1,64.2 632.3,77.8 632.4,66.7 632.6,75.5 632.7,67.0 632.8,63.7 633.0,62.5 633.1,62.7 633.3,70.6 633.4,60.3 633.5,69.8 633.7,65.9 633.8,65.1 634.0,72.4 634.1,79.5 634.2,64.6 634.4,76.4 634.5,73.8 634.7,75.5 634.8,61.2 634.9,67.4 635.1,81.8 635.2,60.2 635.4,50.6 635.5,53.2 635.6,70.8 635.8,51.2 635.9,63.8 636.1,61.2 636.2,67.8 636.3,75.5 636.5,62.7 636.6,62.8 636.8,75.1 636.9,67.8 637.0,63.8 637.2,66.9 637.3,61.4 637.5,59.1 637.6,61.8 637.7,65.6 637.9,75.8 638.0,62.0 638.2,56.6 638.3,52.7 638.4,67.9 638.6,65.9 638.7,55.6 638.9,55.3 639.0,63.1 639.1,61.6 639.3,72.5 639.4,62.7 639.6,71.9 639.7,67.3 639.8,66.8 640.0,69.5 640.1,80.7 640.3,73.5 640.4,64.6 640.5,67.8 640.7,70.6 640.8,66.9 641.0,65.8 641.1,64.0 641.2,73.8 641.4,68.4 641.5,71.4 641.7,74.7 641.8,78.8 641.9,69.2 642.1,74.8 642.2,53.4 642.4,68.8 642.5,69.0 642.6,68.7 642.8,51.7 642.9,71.2 643.1,65.5 643.2,69.0 643.3,65.2 643.5,62.8 643.6,54.5 643.8,71.3 643.9,62.0 644.0,49.5 644.2,64.4 644.3,62.2 644.5,67.9 644.6,81.0 644.7,61.6 644.9,51.5 645.0,63.2 645.2,72.9 645.3,58.5 645.4,61.4 645.6,56.2 645.7,57.4 645.9,65.9 646.0,62.0 646.1,77.0 646.3,55.8 646.4,62.3 646.6,41.9 646.7,57.5 646.8,67.2 647.0,67.1 647.1,74.0 647.3,80.9 647.4,66.5 647.5,64.7 647.7,72.2 647.8,58.4 648.0,62.4 648.1,59.7 648.2,67.8 648.4,89.4 648.5,55.5 648.7,57.0 648.8,61.7 648.9,66.2 649.1,65.1 649.2,64.4 649.4,67.1 649.5,77.9 649.6,57.7 649.8,73.9 649.9,65.5 650.1,65.4 650.2,61.0 650.3,74.8 650.5,65.2 650.6,59.1 650.8,58.1 650.9,54.2 651.0,69.9 651.2,86.9 651.3,61.1 651.5,54.1 651.6,55.9 651.7,57.6 651.9,66.9 652.0,64.0 652.2,78.4 652.3,68.5 652.4,68.3 652.6,52.3 652.7,68.8 652.9,52.9 653.0,64.1 653.1,75.5 653.3,47.2 653.4,70.6 653.6,59.6 653.7,50.7 653.8,67.4 654.0,71.8 654.1,54.2 654.3,60.7 654.4,82.2 654.5,67.6 654.7,62.4 654.8,52.8 655.0,62.0 655.1,54.4 655.2,46.8 655.4,48.3 655.5,47.5 655.7,49.3 655.8,70.0 655.9,49.7 656.1,56.7 656.2,59.3 656.4,65.9 656.5,70.4 656.6,69.5 656.8,63.2 656.9,70.3 657.1,67.8 657.2,66.2 657.3,57.4 657.5,64.0 657.6,64.5 657.8,55.6 657.9,68.6 658.0,61.9 658.2,73.1 658.3,62.8 658.5,64.3 658.6,64.9 658.7,68.8 658.9,73.0 659.0,67.7 659.2,68.9 659.3,58.5 659.4,60.0 659.6,75.4 659.7,63.3 659.9,70.9 660.0,64.3 660.1,70.1 660.3,78.5 660.4,59.7 660.6,53.2 660.7,75.8 660.8,81.1 661.0,72.0 661.1,77.7 661.3,71.0 661.4,64.0 661.5,57.3 661.7,69.5 661.8,57.5 662.0,59.1 662.1,70.7 662.2,78.6 662.4,60.4 662.5,61.9 662.7,48.8 662.8,55.4 662.9,58.3 663.1,52.6 663.2,71.0 663.4,61.0 663.5,65.3 663.6,50.2 663.8,58.3 663.9,83.5 664.1,52.9 664.2,68.9 664.3,57.7 664.5,66.9 664.6,60.6 664.8,57.9 664.9,62.9 665.0,72.2 665.2,56.2 665.3,62.5 665.5,65.9 665.6,62.0 665.7,69.8 665.9,52.3 666.0,63.8 666.2,63.4 666.3,62.3 666.4,71.3 666.6,64.6 666.7,65.6 666.9,65.3 667.0,58.2 667.1,63.8 667.3,75.3 667.4,64.2 667.6,60.1 667.7,58.8 667.8,63.9 668.0,74.9 668.1,58.8 668.3,71.8 668.4,61.6 668.5,77.4 668.7,59.8 668.8,71.0 669.0,57.4 669.1,53.1 669.2,57.9 669.4,75.8 669.5,73.9 669.7,73.5 669.8,62.7 669.9,65.7 670.1,67.9 670.2,67.2 670.4,81.7 670.5,63.9 670.6,56.9 670.8,69.0 670.9,65.6 671.1,80.1 671.2,74.6 671.3,69.7 671.5,72.1 671.6,62.5 671.8,55.7 671.9,67.2 672.0,67.3 672.2,67.7 672.3,64.7 672.5,70.6 672.6,62.7 672.7,63.1 672.9,61.7 673.0,58.5 673.2,66.1 673.3,65.0 673.4,53.9 673.6,67.1 673.7,61.4 673.9,67.2 674.0,71.6 674.1,70.5 674.3,72.6 674.4,67.1 674.6,71.8 674.7,69.6 674.8,57.5 675.0,66.9 675.1,58.8 675.3,65.3 675.4,61.9 675.5,73.8 675.7,67.6 675.8,49.9 676.0,63.1 676.1,62.5 676.2,67.2 676.4,61.0 676.5,74.8 676.7,71.8 676.8,63.6 676.9,60.6 677.1,69.1 677.2,66.3 677.4,67.5 677.5,67.0 677.6,74.2 677.8,59.2 677.9,65.3 678.1,76.6 678.2,70.9 678.3,68.4 678.5,70.5 678.6,61.7 678.8,67.4 678.9,66.3 679.0,71.9 679.2,69.6 679.3,60.1 679.5,61.1 679.6,65.7 679.7,60.6 679.9,60.9 680.0,61.8 680.2,51.9 680.3,67.2 680.4,61.2 680.6,61.4 680.7,65.8 680.9,72.9 681.0,60.7 681.1,63.3 681.3,63.8 681.4,63.3 681.6,63.4 681.7,69.6 681.8,62.6 682.0,77.8 682.1,64.1 682.3,74.3 682.4,66.8 682.5,58.5 682.7,65.6 682.8,66.6 683.0,60.7 683.1,66.7 683.2,67.4 683.4,67.0 683.5,53.0 683.7,59.1 683.8,77.3 683.9,72.1 684.1,58.5 684.2,73.4 684.4,61.0 684.5,72.6 684.6,50.5 684.8,92.1 684.9,56.0 685.1,58.6 685.2,67.7 685.3,68.0 685.5,56.3 685.6,58.7 685.8,95.6 685.9,71.3 686.0,76.2 686.2,75.3 686.3,74.0 686.5,57.3 686.6,69.7 686.7,81.6 686.9,71.5 687.0,62.0 687.2,61.7 687.3,73.8 687.4,56.5 687.6,74.1 687.7,68.2 687.9,63.8 688.0,54.8 688.1,69.5 688.3,66.1 688.4,59.7 688.6,63.5 688.7,61.6 688.8,62.0 689.0,67.7 689.1,63.8 689.3,61.2 689.4,68.5 689.5,55.8 689.7,81.8 689.8,72.5 690.0,54.3 690.1,98.3 690.2,68.6 690.4,61.1 690.5,56.8 690.7,67.7 690.8,57.9 690.9,63.5 691.1,62.6 691.2,61.2 691.4,52.0 691.5,68.1 691.6,62.7 691.8,55.1 691.9,68.7 692.1,71.6 692.2,54.8 692.3,58.5 692.5,58.1 692.6,56.8 692.8,64.9 692.9,54.1 693.0,65.9 693.2,62.3 693.3,69.5 693.5,62.8 693.6,47.5 693.7,57.8 693.9,54.4 694.0,62.7 694.2,45.8 694.3,57.2 694.4,67.9 694.6,52.8 694.7,62.2 694.9,55.7 695.0,57.7 695.1,59.0 695.3,60.1 695.4,53.0 695.6,71.2 695.7,54.2 695.8,62.9 696.0,61.6 696.1,68.0 696.3,79.1 696.4,74.2 696.5,55.1 696.7,70.7 696.8,67.6 697.0,76.6 697.1,70.1 697.2,69.2 697.4,68.3 697.5,67.9 697.7,73.6 697.8,72.6 697.9,67.8 698.1,63.4 698.2,66.1 698.4,51.3 698.5,61.8 698.6,62.4 698.8,67.8 698.9,56.8 699.1,71.2 699.2,75.5 699.3,71.8 699.5,59.4 699.6,71.1 699.8,53.3 699.9,62.0 700.0,71.4 700.2,62.4 700.3,49.2 700.5,68.8 700.6,71.5 700.7,58.3 700.9,53.9 701.0,54.9 701.2,64.3 701.3,59.4 701.4,57.5 701.6,51.9 701.7,44.9 701.9,61.7 702.0,52.3 702.1,64.3 702.3,57.3 702.4,67.1 702.6,66.6 702.7,57.7 702.8,67.1 703.0,54.6 703.1,64.0 703.3,59.8 703.4,59.9 703.5,62.0 703.7,59.5 703.8,52.1 704.0,42.0 704.1,81.7 704.2,60.1 704.4,63.5 704.5,69.0 704.7,62.0 704.8,71.3 704.9,65.2 705.1,55.3 705.2,79.3 705.4,62.8 705.5,61.2 705.6,70.4 705.8,60.4 705.9,60.4 706.1,65.6 706.2,53.3 706.3,70.5 706.5,57.4 706.6,63.9 706.8,69.6 706.9,62.5 707.0,64.8 707.2,56.9 707.3,72.9 707.5,63.2 707.6,111.9 707.7,52.2 707.9,71.0 708.0,56.3 708.2,76.1 708.3,60.4 708.4,63.8 708.6,62.3 708.7,69.0 708.9,76.9 709.0,72.9 709.1,51.8 709.3,61.0 709.4,67.6 709.6,54.7 709.7,65.7 709.8,65.8 710.0,69.4 710.1,52.6 710.3,45.7 710.4,66.5 710.5,57.7 710.7,53.9 710.8,45.4 711.0,77.7 711.1,59.5 711.2,55.1 711.4,69.7 711.5,56.3 711.7,57.7 711.8,53.9 711.9,62.7 712.1,55.1 712.2,62.4 712.4,54.5 712.5,57.1 712.6,60.3 712.8,79.0 712.9,46.5 713.1,50.8 713.2,54.2 713.3,65.3 713.5,62.4 713.6,48.6 713.8,55.8 713.9,66.4 714.0,60.9 714.2,61.0 714.3,63.7 714.5,68.5 714.6,52.3 714.7,57.5 714.9,63.4 715.0,73.2 715.2,66.4 715.3,63.0 715.4,57.6 715.6,65.8 715.7,55.5 715.9,60.0 716.0,65.9 716.1,81.1 716.3,69.6 716.4,71.6 716.6,61.7 716.7,58.0 716.8,50.1 717.0,60.2 717.1,67.9 717.3,41.2 717.4,56.2 717.5,60.7 717.7,60.2 717.8,67.0 718.0,52.2 718.1,53.2 718.2,44.7 718.4,48.5 718.5,49.8 718.7,46.6 718.8,56.4 718.9,56.4 719.1,55.2 719.2,63.3 719.4,56.1 719.5,59.3 719.6,52.0 719.8,57.1 719.9,71.0 720.1,58.3 720.2,49.3 720.3,72.7 720.5,66.3 720.6,60.9 720.8,70.4 720.9,65.0 721.0,60.5 721.2,70.4 721.3,59.9 721.5,59.9 721.6,71.7 721.7,61.7 721.9,54.1 722.0,63.5 722.2,59.0 722.3,59.0 722.4,66.0 722.6,57.6 722.7,61.9 722.9,71.9 723.0,61.3 723.1,59.8 723.3,60.6 723.4,70.7 723.6,48.8 723.7,58.6 723.8,66.9 724.0,58.8 724.1,57.3 724.3,65.5 724.4,59.4 724.5,66.5 724.7,56.9 724.8,66.0 725.0,68.3 725.1,64.0 725.2,63.8 725.4,60.0 725.5,59.0 725.7,70.5 725.8,66.6 725.9,58.5 726.1,45.9 726.2,62.0 726.4,43.8 726.5,53.6 726.6,62.0 726.8,56.4 726.9,51.4 727.1,70.9 727.2,74.9 727.3,62.6 727.5,64.6 727.6,49.9 727.8,78.5 727.9,53.9 728.0,64.3 728.2,57.0 728.3,65.7 728.5,62.7 728.6,58.1 728.7,66.1 728.9,59.7 729.0,67.5 729.2,70.4 729.3,70.0 729.4,61.1 729.6,68.6 729.7,58.7 729.9,77.2 730.0,80.8 730.1,68.3 730.3,54.9 730.4,60.4 730.6,57.4 730.7,57.8 730.8,71.5 731.0,64.6 731.1,85.2 731.3,69.7 731.4,62.1 731.5,77.8 731.7,82.0 731.8,75.1 732.0,62.9 732.1,55.4 732.2,44.8 732.4,53.5 732.5,73.1 732.7,77.7 732.8,59.3 732.9,52.9 733.1,72.4 733.2,64.6 733.4,63.0 733.5,60.4 733.6,61.8 733.8,55.5 733.9,51.0 734.1,56.7 734.2,61.3 734.3,43.0 734.5,62.9 734.6,62.7 734.8,51.4 734.9,42.3 735.0,55.7 735.2,47.9 735.3,58.4 735.5,50.3 735.6,60.7 735.7,52.2 735.9,55.4 736.0,55.9 736.2,48.9 736.3,50.9 736.4,62.4 736.6,51.1 736.7,69.7 736.9,50.2 737.0,41.3 737.1,54.2 737.3,54.1 737.4,57.0 737.6,50.1 737.7,58.8 737.8,51.4 738.0,57.7 738.1,59.1 738.3,54.0 738.4,56.8" fill="none" stroke="#000" stroke-width="1.25" stroke-linejoin="round"/>
<polyline points="458.4,40.5 462.6,40.5 462.6,84.1 462.7,91.6 462.9,73.1 463.0,78.7 463.2,69.7 463.3,68.2 463.4,71.0 463.6,69.7 463.7,70.8 463.9,85.0 464.0,93.5 464.1,96.0 464.3,78.0 464.4,92.5 464.6,96.7 464.7,94.6 464.8,86.7 465.0,82.5 465.1,90.0 465.3,98.8 465.4,81.5 465.5,112.6 465.7,92.1 465.8,76.8 466.0,86.8 466.1,76.1 466.2,86.9 466.4,81.9 466.5,88.2 466.7,93.3 466.8,84.2 466.9,77.3 467.1,110.3 467.2,98.0 467.4,111.1 467.5,99.7 467.6,102.9 467.8,95.1 467.9,93.0 468.1,80.3 468.2,79.0 468.3,103.0 468.5,100.7 468.6,87.2 468.8,102.2 468.9,100.5 469.0,117.8 469.2,89.3 469.3,94.7 469.5,108.0 469.6,113.0 469.7,111.5 469.9,95.0 470.0,104.6 470.2,112.3 470.3,103.5 470.4,91.0 470.6,86.5 470.7,86.2 470.9,101.2 471.0,99.6 471.1,99.9 471.3,95.7 471.4,96.0 471.6,114.0 471.7,112.9 471.8,110.0 472.0,97.4 472.1,111.2 472.3,113.6 472.4,94.3 472.5,89.1 472.7,116.1 472.8,108.5 473.0,94.5 473.1,112.2 473.2,98.0 473.4,124.2 473.5,110.3 473.7,101.5 473.8,93.8 473.9,100.2 474.1,127.2 474.2,125.5 474.4,119.6 474.5,100.7 474.6,101.1 474.8,96.6 474.9,99.6 475.1,113.2 475.2,114.1 475.3,119.4 475.5,101.1 475.6,125.2 475.8,112.2 475.9,111.5 476.0,100.9 476.2,121.9 476.3,107.9 476.5,122.9 476.6,99.2 476.7,115.1 476.9,115.4 477.0,120.7 477.2,116.5 477.3,117.4 477.4,116.4 477.6,97.5 477.7,119.9 477.9,107.6 478.0,101.6 478.1,123.0 478.3,133.8 478.4,105.2 478.6,127.2 478.7,116.2 478.8,108.0 479.0,102.6 479.1,108.4 479.3,111.6 479.4,92.7 479.5,101.6 479.7,82.2 479.8,113.0 480.0,103.0 480.1,101.1 480.2,92.3 480.4,96.4 480.5,99.5 480.7,77.1 480.8,98.6 480.9,90.3 481.1,92.6 481.2,101.0 481.4,85.7 481.5,112.2 481.6,78.6 481.8,107.5 481.9,94.4 482.1,88.3 482.2,94.3 482.3,94.3 482.5,75.0 482.6,61.3 482.8,73.0 482.9,81.5 483.0,89.1 483.2,90.8 483.3,69.7 483.5,74.7 483.6,69.9 483.7,72.7 483.9,68.4 484.0,90.5 484.2,91.4 484.3,94.0 484.4,81.5 484.6,83.0 484.7,79.1 484.9,93.8 485.0,78.8 485.1,71.2 485.3,78.1 485.4,107.5 485.6,78.2 485.7,82.5 485.8,67.5 486.0,77.6 486.1,68.9 486.3,80.0 486.4,72.0 486.5,65.2 486.7,78.6 486.8,73.7 487.0,75.6 487.1,69.9 487.2,78.0 487.4,72.9 487.5,100.2 487.7,83.3 487.8,71.0 487.9,73.2 488.1,91.0 488.2,90.8 488.4,78.9 488.5,81.3 488.6,80.9 488.8,86.7 488.9,88.2 489.1,79.6 489.2,101.9 489.3,107.3 489.5,81.5 489.6,100.0 489.8,84.7 489.9,101.8 490.0,106.8 490.2,79.9 490.3,99.9 490.5,115.2 490.6,104.0 490.7,104.8 490.9,106.9 491.0,104.3 491.2,121.6 491.3,112.5 491.4,104.5 491.6,104.2 491.7,110.1 491.9,120.2 492.0,133.2 492.1,95.6 492.3,126.3 492.4,119.5 492.6,115.9 492.7,111.8 492.8,118.5 493.0,126.5 493.1,117.8 493.3,96.1 493.4,95.7 493.5,122.0 493.7,114.1 493.8,136.6 494.0,119.3 494.1,116.4 494.2,125.5 494.4,105.4 494.5,115.4 494.7,119.0 494.8,151.8 494.9,133.4 495.1,122.8 495.2,134.6 495.4,146.9 495.5,136.7 495.6,116.1 495.8,123.9 495.9,122.4 496.1,130.0 496.2,117.5 496.3,161.0 496.5,147.9 496.6,118.6 496.8,126.6 496.9,136.2 497.0,141.8 497.2,156.5 497.3,143.6 497.5,140.6 497.6,147.6 497.7,126.4 497.9,129.0 498.0,142.0 498.2,133.1 498.3,140.2 498.4,137.2 498.6,144.7 498.7,115.2 498.9,152.8 499.0,140.5 499.1,129.1 499.3,128.9 499.4,154.5 499.6,150.3 499.7,142.1 499.8,149.7 500.0,149.5 500.1,145.4 500.3,142.4 500.4,131.6 500.5,158.1 500.7,133.1 500.8,146.9 501.0,139.5 501.1,147.4 501.2,121.3 501.4,160.7 501.5,131.0 501.7,146.1 501.8,144.6 501.9,129.7 502.1,145.5 502.2,134.6 502.4,129.6 502.5,149.4 502.6,124.8 502.8,132.9 502.9,148.1 503.1,144.5 503.2,151.7 503.3,141.0 503.5,134.1 503.6,132.7 503.8,140.3 503.9,146.6 504.0,148.2 504.2,150.1 504.3,143.5 504.5,134.3 504.6,146.4 504.7,145.7 504.9,149.2 505.0,133.0 505.2,141.7 505.3,155.5 505.4,128.8 505.6,130.9 505.7,139.6 505.9,143.8 506.0,139.9 506.1,137.5 506.3,130.7 506.4,127.0 506.6,129.6 506.7,138.0 506.8,137.6 507.0,134.5 507.1,122.6 507.3,147.3 507.4,140.0 507.5,147.1 507.7,152.5 507.8,136.8 508.0,128.1 508.1,149.9 508.2,130.6 508.4,133.7 508.5,136.6 508.7,128.5 508.8,148.8 508.9,126.6 509.1,146.3 509.2,136.4 509.4,158.1 509.5,133.6 509.6,142.0 509.8,148.3 509.9,154.3 510.1,142.4 510.2,132.8 510.3,139.3 510.5,147.5 510.6,151.5 510.8,154.1 510.9,146.5 511.0,158.7 511.2,146.5 511.3,132.1 511.5,143.6 511.6,143.5 511.7,146.2 511.9,132.7 512.0,133.5 512.2,125.4 512.3,146.7 512.4,151.5 512.6,147.6 512.7,154.1 512.9,142.1 513.0,146.6 513.1,151.3 513.3,145.0 513.4,135.6 513.6,139.9 513.7,151.8 513.8,145.6 514.0,142.0 514.1,123.8 514.3,146.6 514.4,155.3 514.5,139.6 514.7,152.6 514.8,149.0 515.0,132.1 515.1,137.2 515.2,151.4 515.4,145.9 515.5,149.5 515.7,152.0 515.8,139.3 515.9,153.3 516.1,143.2 516.2,144.5 516.4,164.1 516.5,162.4 516.6,175.1 516.8,143.9 516.9,143.1 517.1,151.1 517.2,150.7 517.3,147.8 517.5,148.4 517.6,141.7 517.8,141.3 517.9,149.7 518.0,128.2 518.2,132.3 518.3,146.5 518.5,121.4 518.6,118.7 518.7,130.5 518.9,131.9 519.0,148.8 519.2,146.6 519.3,158.3 519.4,148.1 519.6,134.3 519.7,147.6 519.9,157.9 520.0,127.5 520.1,122.2 520.3,123.8 520.4,152.9 520.6,128.7 520.7,143.6 520.8,138.3 521.0,131.0 521.1,122.2 521.3,142.6 521.4,139.2 521.5,147.7 521.7,134.4 521.8,144.1 522.0,140.7 522.1,129.5 522.2,137.0 522.4,136.7 522.5,135.3 522.7,130.6 522.8,125.5 522.9,149.9 523.1,154.6 523.2,133.5 523.4,131.8 523.5,124.5 523.6,131.8 523.8,122.8 523.9,134.9 524.1,147.8 524.2,130.3 524.3,164.8 524.5,147.0 524.6,135.9 524.8,141.3 524.9,130.4 525.0,145.4 525.2,123.8 525.3,151.2 525.5,134.1 525.6,145.5 525.7,126.4 525.9,144.9 526.0,132.6 526.2,167.9 526.3,145.4 526.4,124.7 526.6,138.6 526.7,139.2 526.9,131.1 527.0,117.1 527.1,150.7 527.3,141.8 527.4,145.9 527.6,134.2 527.7,148.2 527.8,155.7 528.0,155.7 528.1,134.7 528.3,139.4 528.4,132.2 528.5,155.6 528.7,149.8 528.8,146.3 529.0,131.9 529.1,135.6 529.2,142.6 529.4,151.3 529.5,140.9 529.7,146.0 529.8,132.9 529.9,123.9 530.1,126.9 530.2,151.1 530.4,116.6 530.5,133.5 530.6,134.3 530.8,140.4 530.9,140.0 531.1,141.2 531.2,140.4 531.3,171.8 531.5,150.9 531.6,145.3 531.8,145.4 531.9,145.2 532.0,143.6 532.2,163.6 532.3,155.3 532.5,151.9 532.6,147.0 532.7,150.6 532.9,130.9 533.0,152.2 533.2,150.0 533.3,162.4 533.4,130.0 533.6,146.6 533.7,148.6 533.9,153.1 534.0,145.6 534.1,150.0 534.3,135.8 534.4,153.7 534.6,150.6 534.7,152.3 534.8,139.4 535.0,141.8 535.1,135.8 535.3,141.4 535.4,142.2 535.5,145.8 535.7,137.9 535.8,140.8 536.0,143.3 536.1,161.0 536.2,149.9 536.4,152.4 536.5,164.8 536.7,133.6 536.8,132.0 536.9,135.5 537.1,139.5 537.2,131.6 537.4,160.5 537.5,131.4 537.6,162.4 537.8,140.9 537.9,141.9 538.1,138.2 538.2,136.4 538.3,136.3 538.5,148.5 538.6,147.4 538.8,147.6 538.9,139.8 539.0,142.9 539.2,155.3 539.3,131.6 539.5,151.9 539.6,144.4 539.7,146.4 539.9,146.0 540.0,132.4 540.2,143.6 540.3,149.6 540.4,141.4 540.6,144.8 540.7,149.2 540.9,127.2 541.0,125.1 541.1,152.1 541.3,123.4 541.4,120.9 541.6,152.3 541.7,135.6 541.8,126.4 542.0,131.1 542.1,167.0 542.3,131.3 542.4,140.5 542.5,131.6 542.7,127.4 542.8,157.9 543.0,134.9 543.1,134.8 543.2,128.4 543.4,123.9 543.5,128.0 543.7,142.2 543.8,128.7 543.9,145.3 544.1,131.0 544.2,138.9 544.4,139.9 544.5,136.5 544.6,153.4 544.8,142.7 544.9,151.4 545.1,133.4 545.2,129.0 545.3,155.3 545.5,162.6 545.6,138.9 545.8,148.1 545.9,151.9 546.0,120.1 546.2,145.2 546.3,151.4 546.5,145.0 546.6,139.7 546.7,128.6 546.9,140.5 547.0,156.9 547.2,150.3 547.3,127.2 547.4,161.4 547.6,145.8 547.7,134.0 547.9,142.8 548.0,147.2 548.1,152.5 548.3,142.6 548.4,140.7 548.6,143.2 548.7,136.2 548.8,142.9 549.0,131.6 549.1,142.5 549.3,134.7 549.4,147.9 549.5,129.7 549.7,134.6 549.8,139.6 550.0,154.3 550.1,143.6 550.2,174.3 550.4,150.4 550.5,146.0 550.7,155.6 550.8,147.0 550.9,141.3 551.1,131.5 551.2,146.4 551.4,161.5 551.5,168.8 551.6,149.4 551.8,138.9 551.9,138.4 552.1,147.2 552.2,155.0 552.3,155.0 552.5,149.0 552.6,145.8 552.8,139.6 552.9,143.1 553.0,124.3 553.2,142.5 553.3,140.3 553.5,134.2 553.6,134.8 553.7,150.4 553.9,159.7 554.0,155.8 554.2,138.9 554.3,137.3 554.4,140.9 554.6,138.3 554.7,133.8 554.9,153.7 555.0,123.1 555.1,121.0 555.3,137.2 555.4,146.8 555.6,141.9 555.7,157.8 555.8,143.5 556.0,151.3 556.1,144.4 556.3,145.6 556.4,122.2 556.5,150.5 556.7,138.8 556.8,146.2 557.0,127.3 557.1,131.7 557.2,155.9 557.4,152.2 557.5,139.6 557.7,149.3 557.8,138.8 557.9,141.7 558.1,154.1 558.2,147.7 558.4,139.4 558.5,144.3 558.6,144.2 558.8,141.0 558.9,146.2 559.1,133.2 559.2,138.6 559.3,141.8 559.5,151.1 559.6,142.0 559.8,135.4 559.9,136.5 560.0,135.9 560.2,135.0 560.3,136.8 560.5,143.6 560.6,135.0 560.7,132.2 560.9,133.9 561.0,140.0 561.2,140.1 561.3,160.8 561.4,148.9 561.6,145.8 561.7,133.1 561.9,131.2 562.0,125.2 562.1,151.9 562.3,137.2 562.4,133.4 562.6,137.4 562.7,152.4 562.8,155.2 563.0,154.2 563.1,156.8 563.3,136.5 563.4,144.0 563.5,126.9 563.7,132.5 563.8,138.1 564.0,154.8 564.1,142.3 564.2,144.4 564.4,163.8 564.5,162.6 564.7,159.0 564.8,140.9 564.9,156.9 565.1,166.1 565.2,170.9 565.4,146.1 565.5,163.2 565.6,132.6 565.8,158.4 565.9,141.5 566.1,143.4 566.2,158.4 566.3,151.3 566.5,150.6 566.6,153.4 566.8,143.9 566.9,150.0 567.0,166.7 567.2,151.1 567.3,163.4 567.5,153.9 567.6,148.3 567.7,151.2 567.9,140.8 568.0,151.2 568.2,156.6 568.3,136.6 568.4,145.0 568.6,153.1 568.7,151.0 568.9,154.6 569.0,149.3 569.1,159.3 569.3,132.5 569.4,135.2 569.6,169.4 569.7,156.9 569.8,148.5 570.0,153.7 570.1,167.4 570.3,141.0 570.4,158.8 570.5,140.6 570.7,142.8 570.8,132.2 571.0,154.0 571.1,127.4 571.2,156.8 571.4,130.4 571.5,132.6 571.7,139.2 571.8,152.8 571.9,127.5 572.1,136.7 572.2,161.0 572.4,169.6 572.5,151.2 572.6,153.7 572.8,139.3 572.9,145.6 573.1,144.8 573.2,153.2 573.3,141.4 573.5,155.5 573.6,164.1 573.8,172.4 573.9,143.3 574.0,154.6 574.2,165.2 574.3,159.4 574.5,154.4 574.6,144.2 574.7,170.6 574.9,153.1 575.0,142.1 575.2,145.7 575.3,141.9 575.4,129.8 575.6,156.1 575.7,154.0 575.9,138.6 576.0,133.5 576.1,146.6 576.3,154.8 576.4,162.3 576.6,144.6 576.7,146.5 576.8,160.8 577.0,155.4 577.1,160.8 577.3,147.0 577.4,153.4 577.5,141.5 577.7,140.6 577.8,148.0 578.0,138.4 578.1,139.0 578.2,134.0 578.4,153.0 578.5,142.8 578.7,129.1 578.8,140.6 578.9,151.4 579.1,144.3 579.2,124.6 579.4,149.0 579.5,151.8 579.6,137.8 579.8,150.4 579.9,160.3 580.1,159.5 580.2,143.9 580.3,149.9 580.5,129.4 580.6,150.1 580.8,157.2 580.9,151.7 581.0,155.9 581.2,132.6 581.3,151.1 581.5,129.5 581.6,137.6 581.7,123.1 581.9,144.4 582.0,134.8 582.2,163.3 582.3,147.3 582.4,149.2 582.6,131.3 582.7,143.7 582.9,135.8 583.0,149.2 583.1,152.8 583.3,140.8 583.4,128.5 583.6,141.5 583.7,126.3 583.8,142.4 584.0,143.3 584.1,144.3 584.3,142.7 584.4,147.4 584.5,143.4 584.7,149.2 584.8,152.1 585.0,139.3 585.1,136.1 585.2,147.6 585.4,149.9 585.5,157.5 585.7,136.7 585.8,148.1 585.9,123.7 586.1,157.8 586.2,135.7 586.4,127.1 586.5,144.4 586.6,119.6 586.8,128.2 586.9,129.6 587.1,146.4 587.2,129.2 587.3,130.3 587.5,138.5 587.6,121.9 587.8,135.2 587.9,159.2 588.0,115.2 588.2,121.6 588.3,143.8 588.5,130.6 588.6,153.3 588.7,137.0 588.9,163.7 589.0,157.2 589.2,144.4 589.3,146.5 589.4,160.1 589.6,135.1 589.7,138.0 589.9,150.1 590.0,160.8 590.1,135.9 590.3,145.8 590.4,134.2 590.6,131.8 590.7,148.1 590.8,147.2 591.0,117.8 591.1,145.1 591.3,161.4 591.4,135.8 591.5,137.9 591.7,147.0 591.8,135.3 592.0,144.0 592.1,144.9 592.2,129.8 592.4,150.5 592.5,153.2 592.7,138.5 592.8,151.2 592.9,131.4 593.1,145.4 593.2,154.6 593.4,142.9 593.5,162.4 593.6,127.7 593.8,142.4 593.9,134.4 594.1,138.0 594.2,140.1 594.3,153.2 594.5,136.8 594.6,147.7 594.8,153.2 594.9,175.1 595.0,134.6 595.2,151.7 595.3,154.6 595.5,168.7 595.6,143.2 595.7,154.6 595.9,144.5 596.0,153.7 596.2,160.7 596.3,145.6 596.4,167.2 596.6,166.3 596.7,151.7 596.9,145.1 597.0,141.0 597.1,152.7 597.3,153.6 597.4,151.5 597.6,157.0 597.7,159.3 597.8,149.2 598.0,159.2 598.1,156.7 598.3,143.6 598.4,152.3 598.5,159.1 598.7,148.9 598.8,156.7 599.0,148.2 599.1,163.4 599.2,162.9 599.4,169.5 599.5,144.1 599.7,141.6 599.8,143.5 599.9,151.3 600.1,151.2 600.2,156.7 600.4,146.4 600.5,154.8 600.6,162.9 600.8,144.1 600.9,144.8 601.1,147.7 601.2,151.0 601.3,152.8 601.5,148.8 601.6,147.4 601.8,160.4 601.9,154.1 602.0,159.3 602.2,138.1 602.3,162.1 602.5,161.3 602.6,157.4 602.7,147.4 602.9,156.6 603.0,130.0 603.2,140.9 603.3,172.8 603.4,147.6 603.6,146.9 603.7,163.2 603.9,152.5 604.0,149.3 604.1,156.3 604.3,149.2 604.4,144.2 604.6,153.9 604.7,149.1 604.8,158.5 605.0,142.6 605.1,155.8 605.3,138.0 605.4,130.3 605.5,132.2 605.7,153.4 605.8,143.1 606.0,151.0 606.1,144.8 606.2,156.7 606.4,157.8 606.5,148.4 606.7,153.9 606.8,132.7 606.9,135.6 607.1,139.3 607.2,143.1 607.4,143.6 607.5,131.3 607.6,142.1 607.8,143.2 607.9,125.6 608.1,142.5 608.2,144.8 608.3,145.8 608.5,132.1 608.6,150.1 608.8,149.9 608.9,135.6 609.0,133.9 609.2,130.6 609.3,154.2 609.5,143.7 609.6,152.4 609.7,142.5 609.9,163.0 610.0,149.6 610.2,138.4 610.3,145.8 610.4,171.9 610.6,139.7 610.7,145.1 610.9,151.0 611.0,147.2 611.1,149.7 611.3,136.9 611.4,147.8 611.6,163.7 611.7,155.0 611.8,129.6 612.0,133.2 612.1,134.1 612.3,148.5 612.4,134.3 612.5,128.8 612.7,136.9 612.8,130.1 613.0,126.0 613.1,125.4 613.2,132.1 613.4,133.6 613.5,150.7 613.7,140.2 613.8,129.8 613.9,122.3 614.1,137.7 614.2,128.7 614.4,139.1 614.5,147.3 614.6,134.3 614.8,152.4 614.9,147.1 615.1,146.4 615.2,134.9 615.3,140.5 615.5,131.1 615.6,148.1 615.8,128.4 615.9,142.6 616.0,134.0 616.2,152.1 616.3,129.6 616.5,135.4 616.6,117.1 616.7,153.1 616.9,154.9 617.0,130.7 617.2,131.3 617.3,155.7 617.4,134.5 617.6,129.9 617.7,125.6 617.9,138.0 618.0,153.6 618.1,155.9 618.3,117.4 618.4,134.2 618.6,128.3 618.7,143.3 618.8,143.3 619.0,144.0 619.1,151.3 619.3,146.4 619.4,153.5 619.5,147.1 619.7,132.3 619.8,142.7 620.0,149.6 620.1,127.2 620.2,130.0 620.4,141.3 620.5,157.0 620.7,128.1 620.8,127.7 620.9,145.6 621.1,126.6 621.2,148.3 621.4,144.5 621.5,147.5 621.6,142.2 621.8,146.3 621.9,130.8 622.1,130.6 622.2,139.4 622.3,143.5 622.5,140.5 622.6,149.9 622.8,141.8 622.9,128.5 623.0,132.4 623.2,152.7 623.3,146.9 623.5,153.9 623.6,150.0 623.7,149.2 623.9,155.3 624.0,141.3 624.2,137.2 624.3,145.3 624.4,153.2 624.6,145.9 624.7,154.6 624.9,148.7 625.0,123.4 625.1,170.9 625.3,142.1 625.4,144.7 625.6,143.6 625.7,147.5 625.8,159.0 626.0,146.3 626.1,149.3 626.3,146.7 626.4,146.3 626.5,150.7 626.7,123.0 626.8,155.6 627.0,147.3 627.1,158.0 627.2,146.5 627.4,128.3 627.5,143.8 627.7,152.1 627.8,156.5 627.9,138.4 628.1,149.5 628.2,137.3 628.4,148.3 628.5,145.9 628.6,142.3 628.8,156.4 628.9,129.4 629.1,151.2 629.2,138.6 629.3,135.7 629.5,117.2 629.6,135.6 629.8,132.9 629.9,146.0 630.0,142.8 630.2,141.1 630.3,130.7 630.5,151.9 630.6,137.8 630.7,114.4 630.9,150.1 631.0,157.8 631.2,145.0 631.3,140.8 631.4,125.0 631.6,134.8 631.7,126.7 631.9,143.9 632.0,138.0 632.1,134.3 632.3,145.6 632.4,133.3 632.6,139.2 632.7,135.6 632.8,151.9 633.0,158.8 633.1,125.6 633.3,138.3 633.4,139.4 633.5,114.2 633.7,128.0 633.8,133.4 634.0,143.8 634.1,132.5 634.2,133.6 634.4,138.9 634.5,123.1 634.7,128.5 634.8,130.0 634.9,144.1 635.1,141.8 635.2,126.1 635.4,136.6 635.5,164.3 635.6,138.5 635.8,141.4 635.9,145.8 636.1,143.6 636.2,135.1 636.3,140.1 636.5,150.6 636.6,151.3 636.8,140.7 636.9,153.2 637.0,142.0 637.2,143.9 637.3,156.6 637.5,166.1 637.6,150.8 637.7,141.8 637.9,164.1 638.0,131.5 638.2,143.5 638.3,146.4 638.4,142.4 638.6,149.9 638.7,130.1 638.9,151.5 639.0,153.6 639.1,150.6 639.3,134.5 639.4,150.6 639.6,153.3 639.7,140.0 639.8,133.0 640.0,148.2 640.1,137.2 640.3,150.0 640.4,129.7 640.5,154.6 640.7,148.6 640.8,150.8 641.0,156.1 641.1,147.0 641.2,138.5 641.4,152.1 641.5,124.9 641.7,141.1 641.8,140.7 641.9,152.7 642.1,144.8 642.2,135.2 642.4,153.2 642.5,151.5 642.6,153.8 642.8,157.8 642.9,154.7 643.1,151.9 643.2,128.3 643.3,156.6 643.5,149.0 643.6,145.3 643.8,153.5 643.9,162.6 644.0,149.1 644.2,142.6 644.3,152.2 644.5,140.3 644.6,163.2 644.7,143.3 644.9,127.8 645.0,137.1 645.2,137.1 645.3,149.5 645.4,150.0 645.6,136.5 645.7,149.7 645.9,139.3 646.0,154.5 646.1,140.9 646.3,141.9 646.4,164.1 646.6,144.2 646.7,139.2 646.8,140.3 647.0,142.5 647.1,133.1 647.3,144.6 647.4,151.2 647.5,134.3 647.7,125.0 647.8,148.2 648.0,131.5 648.1,146.7 648.2,157.9 648.4,151.2 648.5,150.1 648.7,129.7 648.8,138.1 648.9,144.9 649.1,137.0 649.2,125.2 649.4,140.7 649.5,146.3 649.6,135.3 649.8,146.4 649.9,134.2 650.1,129.0 650.2,137.0 650.3,140.6 650.5,135.0 650.6,149.4 650.8,121.4 650.9,113.4 651.0,134.2 651.2,154.9 651.3,160.3 651.5,151.3 651.6,155.5 651.7,137.5 651.9,139.0 652.0,143.8 652.2,128.0 652.3,138.5 652.4,149.0 652.6,136.1 652.7,153.2 652.9,144.3 653.0,136.1 653.1,136.5 653.3,143.7 653.4,145.5 653.6,136.7 653.7,133.7 653.8,136.8 654.0,129.1 654.1,149.1 654.3,133.7 654.4,122.5 654.5,138.2 654.7,159.1 654.8,129.1 655.0,140.0 655.1,132.5 655.2,134.9 655.4,133.2 655.5,127.2 655.7,138.2 655.8,132.0 655.9,152.8 656.1,151.8 656.2,143.0 656.4,126.0 656.5,148.6 656.6,144.1 656.8,147.4 656.9,145.8 657.1,153.1 657.2,158.2 657.3,132.5 657.5,151.7 657.6,135.8 657.8,134.7 657.9,148.9 658.0,135.3 658.2,159.5 658.3,139.6 658.5,148.4 658.6,137.2 658.7,138.4 658.9,138.5 659.0,132.6 659.2,146.4 659.3,154.2 659.4,151.8 659.6,131.0 659.7,150.3 659.9,143.8 660.0,136.3 660.1,139.7 660.3,148.0 660.4,158.5 660.6,129.0 660.7,143.4 660.8,153.5 661.0,165.5 661.1,139.5 661.3,175.1 661.4,140.1 661.5,141.0 661.7,136.2 661.8,140.9 662.0,151.0 662.1,157.3 662.2,144.6 662.4,146.3 662.5,125.1 662.7,142.7 662.8,134.6 662.9,137.3 663.1,167.4 663.2,131.0 663.4,142.1 663.5,151.4 663.6,135.2 663.8,146.8 663.9,143.1 664.1,144.7 664.2,148.5 664.3,147.5 664.5,134.0 664.6,142.5 664.8,140.7 664.9,138.5 665.0,171.8 665.2,141.2 665.3,138.8 665.5,142.0 665.6,157.1 665.7,150.6 665.9,138.0 666.0,142.3 666.2,142.7 666.3,156.8 666.4,141.8 666.6,130.6 666.7,143.1 666.9,129.7 667.0,133.7 667.1,134.9 667.3,148.5 667.4,149.3 667.6,149.4 667.7,131.3 667.8,129.4 668.0,151.3 668.1,152.6 668.3,137.8 668.4,125.7 668.5,135.7 668.7,132.0 668.8,133.5 669.0,132.7 669.1,138.8 669.2,132.0 669.4,130.2 669.5,137.1 669.7,120.0 669.8,146.0 669.9,140.6 670.1,144.7 670.2,126.8 670.4,126.4 670.5,142.9 670.6,134.5 670.8,139.0 670.9,148.3 671.1,144.6 671.2,134.3 671.3,132.2 671.5,144.3 671.6,136.3 671.8,128.3 671.9,121.8 672.0,132.1 672.2,144.2 672.3,150.7 672.5,136.3 672.6,141.4 672.7,144.6 672.9,145.4 673.0,143.2 673.2,136.5 673.3,130.8 673.4,145.0 673.6,121.3 673.7,126.5 673.9,143.9 674.0,138.8 674.1,129.4 674.3,153.6 674.4,151.5 674.6,150.6 674.7,153.8 674.8,157.8 675.0,146.4 675.1,143.6 675.3,141.1 675.4,145.4 675.5,131.1 675.7,148.7 675.8,156.4 676.0,161.6 676.1,134.2 676.2,146.0 676.4,146.3 676.5,145.3 676.7,151.6 676.8,144.4 676.9,143.5 677.1,159.1 677.2,143.8 677.4,143.0 677.5,128.6 677.6,135.2 677.8,145.8 677.9,153.0 678.1,138.4 678.2,132.5 678.3,160.4 678.5,166.6 678.6,140.2 678.8,142.3 678.9,137.7 679.0,136.5 679.2,166.1 679.3,142.9 679.5,165.4 679.6,158.6 679.7,159.3 679.9,144.2 680.0,164.2 680.2,145.4 680.3,160.6 680.4,127.4 680.6,150.1 680.7,143.6 680.9,155.4 681.0,150.7 681.1,131.6 681.3,140.7 681.4,153.2 681.6,147.3 681.7,143.5 681.8,126.8 682.0,145.5 682.1,138.8 682.3,134.2 682.4,121.8 682.5,137.6 682.7,153.6 682.8,153.9 683.0,128.9 683.1,140.7 683.2,163.1 683.4,148.3 683.5,147.9 683.7,145.2 683.8,135.9 683.9,134.6 684.1,127.9 684.2,158.5 684.4,139.2 684.5,143.4 684.6,151.6 684.8,133.2 684.9,154.4 685.1,155.9 685.2,128.3 685.3,139.9 685.5,135.2 685.6,113.3 685.8,156.6 685.9,132.3 686.0,145.4 686.2,142.7 686.3,140.5 686.5,142.7 686.6,152.6 686.7,147.4 686.9,144.8 687.0,135.0 687.2,166.0 687.3,131.3 687.4,154.4 687.6,126.4 687.7,144.0 687.9,132.2 688.0,150.5 688.1,129.7 688.3,142.3 688.4,143.7 688.6,143.6 688.7,171.2 688.8,162.6 689.0,164.4 689.1,147.6 689.3,150.4 689.4,139.9 689.5,144.3 689.7,135.8 689.8,153.0 690.0,142.1 690.1,150.0 690.2,155.8 690.4,161.7 690.5,145.8 690.7,153.3 690.8,149.4 690.9,151.1 691.1,152.3 691.2,114.5 691.4,139.1 691.5,153.0 691.6,142.3 691.8,139.1 691.9,153.2 692.1,129.2 692.2,149.0 692.3,135.2 692.5,145.3 692.6,147.8 692.8,108.6 692.9,145.8 693.0,153.5 693.2,144.9 693.3,150.4 693.5,129.8 693.6,135.8 693.7,152.5 693.9,124.9 694.0,144.3 694.2,155.2 694.3,147.2 694.4,136.3 694.6,151.9 694.7,153.1 694.9,143.4 695.0,148.8 695.1,136.7 695.3,139.0 695.4,152.5 695.6,151.2 695.7,143.6 695.8,128.8 696.0,146.3 696.1,134.6 696.3,146.6 696.4,134.8 696.5,144.0 696.7,133.9 696.8,147.4 697.0,147.0 697.1,121.0 697.2,128.8 697.4,151.5 697.5,129.8 697.7,142.3 697.8,127.4 697.9,154.3 698.1,141.6 698.2,144.7 698.4,147.8 698.5,152.4 698.6,122.9 698.8,141.5 698.9,145.1 699.1,159.1 699.2,133.0 699.3,132.6 699.5,144.0 699.6,156.3 699.8,138.4 699.9,143.6 700.0,156.7 700.2,122.8 700.3,134.6 700.5,151.9 700.6,148.9 700.7,132.9 700.9,130.5 701.0,135.8 701.2,136.7 701.3,145.5 701.4,122.5 701.6,145.1 701.7,140.8 701.9,156.4 702.0,144.6 702.1,133.1 702.3,124.6 702.4,160.3 702.6,140.6 702.7,126.6 702.8,126.3 703.0,143.5 703.1,132.9 703.3,137.5 703.4,139.2 703.5,146.3 703.7,129.3 703.8,127.6 704.0,123.0 704.1,136.0 704.2,137.2 704.4,128.1 704.5,109.4 704.7,143.4 704.8,141.6 704.9,123.2 705.1,149.6 705.2,162.4 705.4,128.1 705.5,114.0 705.6,122.8 705.8,127.3 705.9,126.8 706.1,144.6 706.2,126.9 706.3,146.4 706.5,151.5 706.6,140.3 706.8,151.2 706.9,148.5 707.0,144.7 707.2,143.6 707.3,138.1 707.5,150.0 707.6,162.4 707.7,141.4 707.9,139.3 708.0,136.3 708.2,132.2 708.3,137.7 708.4,135.8 708.6,134.2 708.7,140.6 708.9,138.2 709.0,149.6 709.1,138.4 709.3,145.9 709.4,147.0 709.6,127.1 709.7,143.9 709.8,130.0 710.0,125.8 710.1,140.2 710.3,144.9 710.4,137.4 710.5,145.5 710.7,150.3 710.8,131.6 711.0,158.3 711.1,148.0 711.2,148.2 711.4,131.5 711.5,144.8 711.7,123.3 711.8,145.6 711.9,163.0 712.1,114.4 712.2,143.1 712.4,143.9 712.5,142.9 712.6,147.4 712.8,140.7 712.9,151.1 713.1,125.5 713.2,154.1 713.3,126.6 713.5,137.0 713.6,149.4 713.8,136.8 713.9,150.1 714.0,155.3 714.2,154.4 714.3,136.8 714.5,136.8 714.6,154.4 714.7,135.7 714.9,153.1 715.0,142.6 715.2,139.5 715.3,165.8 715.4,138.9 715.6,147.2 715.7,157.5 715.9,137.5 716.0,141.5 716.1,140.7 716.3,146.5 716.4,149.7 716.6,155.0 716.7,144.9 716.8,153.8 717.0,148.3 717.1,140.3 717.3,136.8 717.4,141.2 717.5,141.7 717.7,146.1 717.8,133.4 718.0,130.4 718.1,146.0 718.2,145.9 718.4,151.5 718.5,144.6 718.7,147.7 718.8,124.3 718.9,131.9 719.1,156.3 719.2,135.1 719.4,145.4 719.5,159.9 719.6,141.1 719.8,148.7 719.9,138.1 720.1,135.9 720.2,147.7 720.3,126.4 720.5,139.3 720.6,148.2 720.8,156.9 720.9,121.1 721.0,151.5 721.2,143.8 721.3,143.1 721.5,138.0 721.6,157.9 721.7,168.3 721.9,143.0 722.0,158.9 722.2,145.9 722.3,123.1 722.4,148.0 722.6,134.7 722.7,151.6 722.9,110.2 723.0,143.6 723.1,136.4 723.3,141.1 723.4,145.8 723.6,129.2 723.7,139.7 723.8,146.7 724.0,142.9 724.1,141.2 724.3,138.2 724.4,139.6 724.5,148.4 724.7,144.2 724.8,119.2 725.0,140.7 725.1,126.4 725.2,144.0 725.4,136.5 725.5,145.4 725.7,158.5 725.8,144.3 725.9,129.1 726.1,126.5 726.2,128.5 726.4,144.0 726.5,142.5 726.6,150.2 726.8,138.1 726.9,133.8 727.1,139.8 727.2,150.9 727.3,137.8 727.5,139.0 727.6,134.1 727.8,139.8 727.9,135.3 728.0,144.6 728.2,146.0 728.3,164.4 728.5,137.0 728.6,137.7 728.7,150.4 728.9,127.0 729.0,129.6 729.2,126.2 729.3,144.4 729.4,147.7 729.6,142.4 729.7,136.6 729.9,133.1 730.0,157.6 730.1,149.4 730.3,167.7 730.4,149.1 730.6,136.8 730.7,137.8 730.8,122.7 731.0,139.7 731.1,150.1 731.3,152.7 731.4,143.3 731.5,129.9 731.7,159.0 731.8,156.4 732.0,145.9 732.1,148.6 732.2,136.0 732.4,148.3 732.5,143.2 732.7,143.3 732.8,140.1 732.9,129.8 733.1,154.7 733.2,158.4 733.4,155.1 733.5,143.1 733.6,139.8 733.8,136.1 733.9,138.3 734.1,142.4 734.2,161.7 734.3,151.3 734.5,141.2 734.6,158.3 734.8,151.9 734.9,151.6 735.0,143.1 735.2,155.1 735.3,162.7 735.5,150.1 735.6,148.5 735.7,137.6 735.9,151.5 736.0,146.8 736.2,148.6 736.3,148.4 736.4,124.8 736.6,170.1 736.7,139.2 736.9,154.1 737.0,145.9 737.1,161.5 737.3,146.0 737.4,154.5 737.6,141.4 737.7,134.9 737.8,161.1 738.0,164.0 738.1,135.9 738.3,127.7 738.4,146.3" fill="none" stroke="#f00" stroke-width="1.25" stroke-linejoin="round"/>
<rect x="458.4" y="6.5" width="280" height="204" fill="none" stroke="#000" stroke-width="2"/>
<path d="M458.40 210.5v-5M458.40 6.5v5M493.40 210.5v-3M493.40 6.5v3M528.40 210.5v-5M528.40 6.5v5M563.40 210.5v-3M563.40 6.5v3M598.40 210.5v-5M598.40 6.5v5M633.40 210.5v-3M633.40 6.5v3M668.40 210.5v-5M668.40 6.5v5M703.40 210.5v-3M703.40 6.5v3M738.40 210.5v-5M738.40 6.5v5M458.4 6.50h5M738.4 6.50h-5M458.4 23.50h3M738.4 23.50h-3M458.4 40.50h5M738.4 40.50h-5M458.4 57.50h3M738.4 57.50h-3M458.4 74.50h5M738.4 74.50h-5M458.4 91.50h3M738.4 91.50h-3M458.4 108.50h5M738.4 108.50h-5M458.4 125.50h3M738.4 125.50h-3M458.4 142.50h5M738.4 142.50h-5M458.4 159.50h3M738.4 159.50h-3M458.4 176.50h5M738.4 176.50h-5M458.4 193.50h3M738.4 193.50h-3M458.4 210.50h5M738.4 210.50h-5" stroke="#000" stroke-width="1.5" fill="none"/>
<g class="ax"><text x="453.5" y="11.0" text-anchor="end">50</text><text x="453.5" y="45.0" text-anchor="end">0</text><text x="453.5" y="79.0" text-anchor="end">-50</text><text x="453.5" y="113.0" text-anchor="end">-100</text><text x="453.5" y="147.0" text-anchor="end">-150</text><text x="453.5" y="181.0" text-anchor="end">-200</text><text x="453.5" y="215.0" text-anchor="end">-250</text><text x="458.4" y="225.6" text-anchor="middle">0</text><text x="528.4" y="225.6" text-anchor="middle">50</text><text x="598.4" y="225.6" text-anchor="middle">100</text><text x="668.4" y="225.6" text-anchor="middle">150</text><text x="738.4" y="225.6" text-anchor="middle">200</text></g>
<text class="tt" x="598.4" y="249" text-anchor="middle">Time (ns)</text>
<text class="tt" transform="translate(411,116.7) rotate(-90)" text-anchor="middle" style="font-size:14.5px">Energy (kJ/mol)</text>
<rect x="664.5" y="13.5" width="66" height="26" fill="#fff" stroke="#555" stroke-width="0.9"/>
<path d="M670 19.3h25.7" stroke="#000" stroke-width="1.6"/>
<path d="M670 32.7h25.7" stroke="#f00" stroke-width="1.6"/>
<text class="lg" x="701.2" y="22.8">Coul</text>
<text class="lg" x="701.2" y="36.1">vdW</text>
<!-- panel c -->
<defs>
<clipPath id="cp1"><rect x="25" y="261" width="237.6" height="219"/></clipPath>
<clipPath id="cp2"><rect x="264.3" y="261" width="236.9" height="219"/></clipPath>
<clipPath id="cp3"><rect x="502.8" y="261" width="236.8" height="219"/></clipPath>
<radialGradient id="gb" cx="0.4" cy="0.3" r="0.8"><stop offset="0" stop-color="#2a2aff"/><stop offset="0.6" stop-color="#0808ee"/><stop offset="0.9" stop-color="#0000b8"/><stop offset="1" stop-color="#000060"/></radialGradient>
<radialGradient id="gc" cx="0.4" cy="0.25" r="0.8"><stop offset="0" stop-color="#8ef8fa"/><stop offset="0.6" stop-color="#56e0ea"/><stop offset="0.9" stop-color="#34a8c0"/><stop offset="1" stop-color="#1a6880"/></radialGradient>
<radialGradient id="gd" cx="0.4" cy="0.3" r="0.8"><stop offset="0" stop-color="#4aa0b0"/><stop offset="0.6" stop-color="#1a5060"/><stop offset="1" stop-color="#001018"/></radialGradient>
<linearGradient id="fog1" x1="0" y1="0" x2="0" y2="1"><stop offset="0" stop-color="#fff" stop-opacity="1"/><stop offset="0.3" stop-color="#fff" stop-opacity="0.7"/><stop offset="1" stop-color="#fff" stop-opacity="0"/></linearGradient>
<filter id="bl1" x="-50%" y="-50%" width="200%" height="200%"><feGaussianBlur stdDeviation="3"/></filter>
<filter id="bl05" x="-20%" y="-20%" width="140%" height="140%"><feGaussianBlur stdDeviation="0.45"/></filter>
</defs>
<g clip-path="url(#cp1)">
<rect x="25" y="412" width="238" height="70" fill="#1830e0"/>
<ellipse cx="25.0" cy="413.0" rx="6.8" ry="5.3" fill="url(#gc)"/><ellipse cx="47.0" cy="413.0" rx="6.8" ry="5.3" fill="url(#gc)"/><ellipse cx="69.0" cy="413.0" rx="6.8" ry="5.3" fill="url(#gc)"/><ellipse cx="91.0" cy="413.0" rx="6.8" ry="5.3" fill="url(#gc)"/><ellipse cx="135.0" cy="413.0" rx="6.8" ry="5.3" fill="url(#gc)"/><ellipse cx="157.0" cy="413.0" rx="6.8" ry="5.3" fill="url(#gc)"/><ellipse cx="179.0" cy="413.0" rx="6.8" ry="5.3" fill="url(#gc)"/><ellipse cx="201.0" cy="413.0" rx="6.8" ry="5.3" fill="url(#gc)"/><ellipse cx="223.0" cy="413.0" rx="6.8" ry="5.3" fill="url(#gc)"/><ellipse cx="245.0" cy="413.0" rx="6.8" ry="5.3" fill="url(#gc)"/><ellipse cx="267.0" cy="413.0" rx="6.8" ry="5.3" fill="url(#gc)"/><ellipse cx="14.0" cy="413.0" rx="6.6" ry="5.1" fill="url(#gb)"/><ellipse cx="36.0" cy="413.0" rx="6.6" ry="5.1" fill="url(#gb)"/><ellipse cx="58.0" cy="413.0" rx="6.6" ry="5.1" fill="url(#gb)"/><ellipse cx="80.0" cy="413.0" rx="6.6" ry="5.1" fill="url(#gb)"/><ellipse cx="102.0" cy="413.0" rx="6.6" ry="5.1" fill="url(#gb)"/><ellipse cx="113.0" cy="413.0" rx="6.6" ry="5.1" fill="url(#gb)"/><ellipse cx="124.0" cy="413.0" rx="6.6" ry="5.1" fill="url(#gb)"/><ellipse cx="146.0" cy="413.0" rx="6.6" ry="5.1" fill="url(#gb)"/><ellipse cx="168.0" cy="413.0" rx="6.6" ry="5.1" fill="url(#gb)"/><ellipse cx="190.0" cy="413.0" rx="6.6" ry="5.1" fill="url(#gb)"/><ellipse cx="212.0" cy="413.0" rx="6.6" ry="5.1" fill="url(#gb)"/><ellipse cx="234.0" cy="413.0" rx="6.6" ry="5.1" fill="url(#gb)"/><ellipse cx="256.0" cy="413.0" rx="6.6" ry="5.1" fill="url(#gb)"/><ellipse cx="30.7" cy="417.4" rx="7.1" ry="5.5" fill="url(#gc)"/><ellipse cx="53.5" cy="417.4" rx="7.1" ry="5.5" fill="url(#gc)"/><ellipse cx="76.2" cy="417.4" rx="7.1" ry="5.5" fill="url(#gc)"/><ellipse cx="99.0" cy="417.4" rx="7.1" ry="5.5" fill="url(#gc)"/><ellipse cx="121.8" cy="417.4" rx="7.1" ry="5.5" fill="url(#gc)"/><ellipse cx="144.5" cy="417.4" rx="7.1" ry="5.5" fill="url(#gc)"/><ellipse cx="155.9" cy="417.4" rx="7.1" ry="5.5" fill="url(#gc)"/><ellipse cx="167.3" cy="417.4" rx="7.1" ry="5.5" fill="url(#gc)"/><ellipse cx="190.0" cy="417.4" rx="7.1" ry="5.5" fill="url(#gc)"/><ellipse cx="212.8" cy="417.4" rx="7.1" ry="5.5" fill="url(#gc)"/><ellipse cx="235.6" cy="417.4" rx="7.1" ry="5.5" fill="url(#gc)"/><ellipse cx="258.3" cy="417.4" rx="7.1" ry="5.5" fill="url(#gc)"/><ellipse cx="19.3" cy="417.4" rx="6.8" ry="5.3" fill="url(#gb)"/><ellipse cx="42.1" cy="417.4" rx="6.8" ry="5.3" fill="url(#gb)"/><ellipse cx="64.8" cy="417.4" rx="6.8" ry="5.3" fill="url(#gb)"/><ellipse cx="87.6" cy="417.4" rx="6.8" ry="5.3" fill="url(#gb)"/><ellipse cx="110.4" cy="417.4" rx="6.8" ry="5.3" fill="url(#gb)"/><ellipse cx="133.1" cy="417.4" rx="6.8" ry="5.3" fill="url(#gb)"/><ellipse cx="178.7" cy="417.4" rx="6.8" ry="5.3" fill="url(#gb)"/><ellipse cx="201.4" cy="417.4" rx="6.8" ry="5.3" fill="url(#gb)"/><ellipse cx="224.2" cy="417.4" rx="6.8" ry="5.3" fill="url(#gb)"/><ellipse cx="247.0" cy="417.4" rx="6.8" ry="5.3" fill="url(#gb)"/><ellipse cx="269.7" cy="417.4" rx="6.8" ry="5.3" fill="url(#gb)"/><ellipse cx="25.0" cy="422.0" rx="7.3" ry="5.7" fill="url(#gc)"/><ellipse cx="48.6" cy="422.0" rx="7.3" ry="5.7" fill="url(#gc)"/><ellipse cx="72.1" cy="422.0" rx="7.3" ry="5.7" fill="url(#gc)"/><ellipse cx="95.7" cy="422.0" rx="7.3" ry="5.7" fill="url(#gc)"/><ellipse cx="119.2" cy="422.0" rx="7.3" ry="5.7" fill="url(#gc)"/><ellipse cx="142.8" cy="422.0" rx="7.3" ry="5.7" fill="url(#gc)"/><ellipse cx="166.3" cy="422.0" rx="7.3" ry="5.7" fill="url(#gc)"/><ellipse cx="178.1" cy="422.0" rx="7.3" ry="5.7" fill="url(#gc)"/><ellipse cx="189.9" cy="422.0" rx="7.3" ry="5.7" fill="url(#gc)"/><ellipse cx="213.5" cy="422.0" rx="7.3" ry="5.7" fill="url(#gc)"/><ellipse cx="237.0" cy="422.0" rx="7.3" ry="5.7" fill="url(#gc)"/><ellipse cx="260.6" cy="422.0" rx="7.3" ry="5.7" fill="url(#gc)"/><ellipse cx="13.2" cy="422.0" rx="7.1" ry="5.5" fill="url(#gb)"/><ellipse cx="36.8" cy="422.0" rx="7.1" ry="5.5" fill="url(#gb)"/><ellipse cx="60.3" cy="422.0" rx="7.1" ry="5.5" fill="url(#gb)"/><ellipse cx="83.9" cy="422.0" rx="7.1" ry="5.5" fill="url(#gb)"/><ellipse cx="107.4" cy="422.0" rx="7.1" ry="5.5" fill="url(#gb)"/><ellipse cx="131.0" cy="422.0" rx="7.1" ry="5.5" fill="url(#gb)"/><ellipse cx="154.6" cy="422.0" rx="7.1" ry="5.5" fill="url(#gb)"/><ellipse cx="201.7" cy="422.0" rx="7.1" ry="5.5" fill="url(#gb)"/><ellipse cx="225.2" cy="422.0" rx="7.1" ry="5.5" fill="url(#gb)"/><ellipse cx="248.8" cy="422.0" rx="7.1" ry="5.5" fill="url(#gb)"/><ellipse cx="272.3" cy="422.0" rx="7.1" ry="5.5" fill="url(#gb)"/><ellipse cx="31.1" cy="426.7" rx="7.6" ry="5.9" fill="url(#gc)"/><ellipse cx="55.5" cy="426.7" rx="7.6" ry="5.9" fill="url(#gc)"/><ellipse cx="104.2" cy="426.7" rx="7.6" ry="5.9" fill="url(#gc)"/><ellipse cx="128.6" cy="426.7" rx="7.6" ry="5.9" fill="url(#gc)"/><ellipse cx="153.0" cy="426.7" rx="7.6" ry="5.9" fill="url(#gc)"/><ellipse cx="177.4" cy="426.7" rx="7.6" ry="5.9" fill="url(#gc)"/><ellipse cx="201.7" cy="426.7" rx="7.6" ry="5.9" fill="url(#gc)"/><ellipse cx="226.1" cy="426.7" rx="7.6" ry="5.9" fill="url(#gc)"/><ellipse cx="250.5" cy="426.7" rx="7.6" ry="5.9" fill="url(#gc)"/><ellipse cx="274.9" cy="426.7" rx="7.6" ry="5.9" fill="url(#gc)"/><ellipse cx="18.9" cy="426.7" rx="7.3" ry="5.7" fill="url(#gb)"/><ellipse cx="43.3" cy="426.7" rx="7.3" ry="5.7" fill="url(#gb)"/><ellipse cx="67.7" cy="426.7" rx="7.3" ry="5.7" fill="url(#gb)"/><ellipse cx="79.8" cy="426.7" rx="7.3" ry="5.7" fill="url(#gb)"/><ellipse cx="92.0" cy="426.7" rx="7.3" ry="5.7" fill="url(#gb)"/><ellipse cx="116.4" cy="426.7" rx="7.3" ry="5.7" fill="url(#gb)"/><ellipse cx="140.8" cy="426.7" rx="7.3" ry="5.7" fill="url(#gb)"/><ellipse cx="165.2" cy="426.7" rx="7.3" ry="5.7" fill="url(#gb)"/><ellipse cx="189.5" cy="426.7" rx="7.3" ry="5.7" fill="url(#gb)"/><ellipse cx="213.9" cy="426.7" rx="7.3" ry="5.7" fill="url(#gb)"/><ellipse cx="238.3" cy="426.7" rx="7.3" ry="5.7" fill="url(#gb)"/><ellipse cx="262.7" cy="426.7" rx="7.3" ry="5.7" fill="url(#gb)"/><ellipse cx="50.2" cy="431.5" rx="7.8" ry="6.1" fill="url(#gc)"/><ellipse cx="75.4" cy="431.5" rx="7.8" ry="6.1" fill="url(#gc)"/><ellipse cx="100.7" cy="431.5" rx="7.8" ry="6.1" fill="url(#gc)"/><ellipse cx="125.9" cy="431.5" rx="7.8" ry="6.1" fill="url(#gc)"/><ellipse cx="151.1" cy="431.5" rx="7.8" ry="6.1" fill="url(#gc)"/><ellipse cx="176.3" cy="431.5" rx="7.8" ry="6.1" fill="url(#gc)"/><ellipse cx="201.6" cy="431.5" rx="7.8" ry="6.1" fill="url(#gc)"/><ellipse cx="226.8" cy="431.5" rx="7.8" ry="6.1" fill="url(#gc)"/><ellipse cx="252.0" cy="431.5" rx="7.8" ry="6.1" fill="url(#gc)"/><ellipse cx="12.4" cy="431.5" rx="7.6" ry="5.9" fill="url(#gb)"/><ellipse cx="25.0" cy="431.5" rx="7.6" ry="5.9" fill="url(#gb)"/><ellipse cx="37.6" cy="431.5" rx="7.6" ry="5.9" fill="url(#gb)"/><ellipse cx="62.8" cy="431.5" rx="7.6" ry="5.9" fill="url(#gb)"/><ellipse cx="88.1" cy="431.5" rx="7.6" ry="5.9" fill="url(#gb)"/><ellipse cx="113.3" cy="431.5" rx="7.6" ry="5.9" fill="url(#gb)"/><ellipse cx="138.5" cy="431.5" rx="7.6" ry="5.9" fill="url(#gb)"/><ellipse cx="163.7" cy="431.5" rx="7.6" ry="5.9" fill="url(#gb)"/><ellipse cx="189.0" cy="431.5" rx="7.6" ry="5.9" fill="url(#gb)"/><ellipse cx="214.2" cy="431.5" rx="7.6" ry="5.9" fill="url(#gb)"/><ellipse cx="239.4" cy="431.5" rx="7.6" ry="5.9" fill="url(#gb)"/><ellipse cx="264.6" cy="431.5" rx="7.6" ry="5.9" fill="url(#gb)"/><ellipse cx="31.5" cy="436.6" rx="8.1" ry="6.3" fill="url(#gc)"/><ellipse cx="57.6" cy="436.6" rx="8.1" ry="6.3" fill="url(#gc)"/><ellipse cx="83.7" cy="436.6" rx="8.1" ry="6.3" fill="url(#gd)"/><ellipse cx="109.8" cy="436.6" rx="8.1" ry="6.3" fill="url(#gc)"/><ellipse cx="135.9" cy="436.6" rx="8.1" ry="6.3" fill="url(#gc)"/><ellipse cx="162.0" cy="436.6" rx="8.1" ry="6.3" fill="url(#gc)"/><ellipse cx="188.1" cy="436.6" rx="8.1" ry="6.3" fill="url(#gc)"/><ellipse cx="214.2" cy="436.6" rx="8.1" ry="6.3" fill="url(#gc)"/><ellipse cx="240.3" cy="436.6" rx="8.1" ry="6.3" fill="url(#gc)"/><ellipse cx="266.4" cy="436.6" rx="8.1" ry="6.3" fill="url(#gc)"/><ellipse cx="18.5" cy="436.6" rx="7.8" ry="6.1" fill="url(#gb)"/><ellipse cx="44.6" cy="436.6" rx="7.8" ry="6.1" fill="url(#gb)"/><ellipse cx="70.7" cy="436.6" rx="7.8" ry="6.1" fill="url(#gb)"/><ellipse cx="96.8" cy="436.6" rx="7.8" ry="6.1" fill="url(#gb)"/><ellipse cx="122.9" cy="436.6" rx="7.8" ry="6.1" fill="url(#gb)"/><ellipse cx="149.0" cy="436.6" rx="7.8" ry="6.1" fill="url(#gb)"/><ellipse cx="175.1" cy="436.6" rx="7.8" ry="6.1" fill="url(#gb)"/><ellipse cx="201.2" cy="436.6" rx="7.8" ry="6.1" fill="url(#gb)"/><ellipse cx="227.3" cy="436.6" rx="7.8" ry="6.1" fill="url(#gb)"/><ellipse cx="253.4" cy="436.6" rx="7.8" ry="6.1" fill="url(#gb)"/><ellipse cx="25.0" cy="441.8" rx="8.4" ry="6.5" fill="url(#gc)"/><ellipse cx="52.0" cy="441.8" rx="8.4" ry="6.5" fill="url(#gc)"/><ellipse cx="79.0" cy="441.8" rx="8.4" ry="6.5" fill="url(#gd)"/><ellipse cx="106.0" cy="441.8" rx="8.4" ry="6.5" fill="url(#gc)"/><ellipse cx="133.0" cy="441.8" rx="8.4" ry="6.5" fill="url(#gc)"/><ellipse cx="160.0" cy="441.8" rx="8.4" ry="6.5" fill="url(#gc)"/><ellipse cx="187.1" cy="441.8" rx="8.4" ry="6.5" fill="url(#gc)"/><ellipse cx="214.1" cy="441.8" rx="8.4" ry="6.5" fill="url(#gc)"/><ellipse cx="241.1" cy="441.8" rx="8.4" ry="6.5" fill="url(#gc)"/><ellipse cx="268.1" cy="441.8" rx="8.4" ry="6.5" fill="url(#gc)"/><ellipse cx="11.5" cy="441.8" rx="8.1" ry="6.3" fill="url(#gb)"/><ellipse cx="38.5" cy="441.8" rx="8.1" ry="6.3" fill="url(#gb)"/><ellipse cx="65.5" cy="441.8" rx="8.1" ry="6.3" fill="url(#gb)"/><ellipse cx="92.5" cy="441.8" rx="8.1" ry="6.3" fill="url(#gd)"/><ellipse cx="119.5" cy="441.8" rx="8.1" ry="6.3" fill="url(#gb)"/><ellipse cx="146.5" cy="441.8" rx="8.1" ry="6.3" fill="url(#gb)"/><ellipse cx="173.6" cy="441.8" rx="8.1" ry="6.3" fill="url(#gb)"/><ellipse cx="200.6" cy="441.8" rx="8.1" ry="6.3" fill="url(#gb)"/><ellipse cx="227.6" cy="441.8" rx="8.1" ry="6.3" fill="url(#gb)"/><ellipse cx="254.6" cy="441.8" rx="8.1" ry="6.3" fill="url(#gb)"/><ellipse cx="32.0" cy="447.2" rx="8.7" ry="6.7" fill="url(#gd)"/><ellipse cx="59.9" cy="447.2" rx="8.7" ry="6.7" fill="url(#gc)"/><ellipse cx="87.9" cy="447.2" rx="8.7" ry="6.7" fill="url(#gc)"/><ellipse cx="115.8" cy="447.2" rx="8.7" ry="6.7" fill="url(#gc)"/><ellipse cx="143.8" cy="447.2" rx="8.7" ry="6.7" fill="url(#gc)"/><ellipse cx="171.7" cy="447.2" rx="8.7" ry="6.7" fill="url(#gc)"/><ellipse cx="199.7" cy="447.2" rx="8.7" ry="6.7" fill="url(#gc)"/><ellipse cx="227.6" cy="447.2" rx="8.7" ry="6.7" fill="url(#gc)"/><ellipse cx="241.6" cy="447.2" rx="8.7" ry="6.7" fill="url(#gc)"/><ellipse cx="255.6" cy="447.2" rx="8.7" ry="6.7" fill="url(#gc)"/><ellipse cx="18.0" cy="447.2" rx="8.4" ry="6.5" fill="url(#gb)"/><ellipse cx="46.0" cy="447.2" rx="8.4" ry="6.5" fill="url(#gb)"/><ellipse cx="73.9" cy="447.2" rx="8.4" ry="6.5" fill="url(#gb)"/><ellipse cx="101.9" cy="447.2" rx="8.4" ry="6.5" fill="url(#gb)"/><ellipse cx="129.8" cy="447.2" rx="8.4" ry="6.5" fill="url(#gb)"/><ellipse cx="157.8" cy="447.2" rx="8.4" ry="6.5" fill="url(#gb)"/><ellipse cx="185.7" cy="447.2" rx="8.4" ry="6.5" fill="url(#gb)"/><ellipse cx="213.7" cy="447.2" rx="8.4" ry="6.5" fill="url(#gb)"/><ellipse cx="269.6" cy="447.2" rx="8.4" ry="6.5" fill="url(#gb)"/><ellipse cx="25.0" cy="452.8" rx="9.0" ry="6.9" fill="url(#gd)"/><ellipse cx="82.8" cy="452.8" rx="9.0" ry="6.9" fill="url(#gc)"/><ellipse cx="111.8" cy="452.8" rx="9.0" ry="6.9" fill="url(#gc)"/><ellipse cx="140.7" cy="452.8" rx="9.0" ry="6.9" fill="url(#gc)"/><ellipse cx="198.5" cy="452.8" rx="9.0" ry="6.9" fill="url(#gc)"/><ellipse cx="227.4" cy="452.8" rx="9.0" ry="6.9" fill="url(#gc)"/><ellipse cx="256.4" cy="452.8" rx="9.0" ry="6.9" fill="url(#gc)"/><ellipse cx="10.5" cy="452.8" rx="8.7" ry="6.7" fill="url(#gb)"/><ellipse cx="39.5" cy="452.8" rx="8.7" ry="6.7" fill="url(#gb)"/><ellipse cx="53.9" cy="452.8" rx="8.7" ry="6.7" fill="url(#gd)"/><ellipse cx="68.4" cy="452.8" rx="8.7" ry="6.7" fill="url(#gd)"/><ellipse cx="97.3" cy="452.8" rx="8.7" ry="6.7" fill="url(#gb)"/><ellipse cx="126.2" cy="452.8" rx="8.7" ry="6.7" fill="url(#gb)"/><ellipse cx="155.1" cy="452.8" rx="8.7" ry="6.7" fill="url(#gb)"/><ellipse cx="169.6" cy="452.8" rx="8.7" ry="6.7" fill="url(#gb)"/><ellipse cx="184.1" cy="452.8" rx="8.7" ry="6.7" fill="url(#gb)"/><ellipse cx="213.0" cy="452.8" rx="8.7" ry="6.7" fill="url(#gb)"/><ellipse cx="241.9" cy="452.8" rx="8.7" ry="6.7" fill="url(#gb)"/><ellipse cx="270.8" cy="452.8" rx="8.7" ry="6.7" fill="url(#gb)"/><ellipse cx="32.5" cy="458.6" rx="9.3" ry="7.2" fill="url(#gc)"/><ellipse cx="62.4" cy="458.6" rx="9.3" ry="7.2" fill="url(#gc)"/><ellipse cx="92.3" cy="458.6" rx="9.3" ry="7.2" fill="url(#gc)"/><ellipse cx="122.3" cy="458.6" rx="9.3" ry="7.2" fill="url(#gc)"/><ellipse cx="152.2" cy="458.6" rx="9.3" ry="7.2" fill="url(#gc)"/><ellipse cx="182.1" cy="458.6" rx="9.3" ry="7.2" fill="url(#gc)"/><ellipse cx="242.0" cy="458.6" rx="9.3" ry="7.2" fill="url(#gc)"/><ellipse cx="271.9" cy="458.6" rx="9.3" ry="7.2" fill="url(#gc)"/><ellipse cx="17.5" cy="458.6" rx="9.0" ry="7.0" fill="url(#gb)"/><ellipse cx="47.4" cy="458.6" rx="9.0" ry="7.0" fill="url(#gb)"/><ellipse cx="77.4" cy="458.6" rx="9.0" ry="7.0" fill="url(#gb)"/><ellipse cx="107.3" cy="458.6" rx="9.0" ry="7.0" fill="url(#gb)"/><ellipse cx="137.2" cy="458.6" rx="9.0" ry="7.0" fill="url(#gb)"/><ellipse cx="167.2" cy="458.6" rx="9.0" ry="7.0" fill="url(#gb)"/><ellipse cx="197.1" cy="458.6" rx="9.0" ry="7.0" fill="url(#gb)"/><ellipse cx="212.0" cy="458.6" rx="9.0" ry="7.0" fill="url(#gb)"/><ellipse cx="227.0" cy="458.6" rx="9.0" ry="7.0" fill="url(#gb)"/><ellipse cx="256.9" cy="458.6" rx="9.0" ry="7.0" fill="url(#gb)"/><ellipse cx="25.0" cy="464.6" rx="9.6" ry="7.4" fill="url(#gc)"/><ellipse cx="56.0" cy="464.6" rx="9.6" ry="7.4" fill="url(#gc)"/><ellipse cx="86.9" cy="464.6" rx="9.6" ry="7.4" fill="url(#gc)"/><ellipse cx="148.9" cy="464.6" rx="9.6" ry="7.4" fill="url(#gc)"/><ellipse cx="179.8" cy="464.6" rx="9.6" ry="7.4" fill="url(#gc)"/><ellipse cx="210.8" cy="464.6" rx="9.6" ry="7.4" fill="url(#gc)"/><ellipse cx="241.8" cy="464.6" rx="9.6" ry="7.4" fill="url(#gc)"/><ellipse cx="272.7" cy="464.6" rx="9.6" ry="7.4" fill="url(#gc)"/><ellipse cx="9.5" cy="464.6" rx="9.3" ry="7.2" fill="url(#gb)"/><ellipse cx="40.5" cy="464.6" rx="9.3" ry="7.2" fill="url(#gb)"/><ellipse cx="71.5" cy="464.6" rx="9.3" ry="7.2" fill="url(#gb)"/><ellipse cx="102.4" cy="464.6" rx="9.3" ry="7.2" fill="url(#gb)"/><ellipse cx="117.9" cy="464.6" rx="9.3" ry="7.2" fill="url(#gb)"/><ellipse cx="133.4" cy="464.6" rx="9.3" ry="7.2" fill="url(#gb)"/><ellipse cx="164.4" cy="464.6" rx="9.3" ry="7.2" fill="url(#gb)"/><ellipse cx="195.3" cy="464.6" rx="9.3" ry="7.2" fill="url(#gb)"/><ellipse cx="226.3" cy="464.6" rx="9.3" ry="7.2" fill="url(#gb)"/><ellipse cx="257.3" cy="464.6" rx="9.3" ry="7.2" fill="url(#gb)"/><ellipse cx="17.0" cy="470.8" rx="9.9" ry="7.7" fill="url(#gc)"/><ellipse cx="33.0" cy="470.8" rx="9.9" ry="7.7" fill="url(#gc)"/><ellipse cx="65.1" cy="470.8" rx="9.9" ry="7.7" fill="url(#gc)"/><ellipse cx="97.1" cy="470.8" rx="9.9" ry="7.7" fill="url(#gc)"/><ellipse cx="129.1" cy="470.8" rx="9.9" ry="7.7" fill="url(#gc)"/><ellipse cx="161.2" cy="470.8" rx="9.9" ry="7.7" fill="url(#gc)"/><ellipse cx="193.2" cy="470.8" rx="9.9" ry="7.7" fill="url(#gc)"/><ellipse cx="209.3" cy="470.8" rx="9.9" ry="7.7" fill="url(#gc)"/><ellipse cx="225.3" cy="470.8" rx="9.9" ry="7.7" fill="url(#gc)"/><ellipse cx="257.3" cy="470.8" rx="9.9" ry="7.7" fill="url(#gc)"/><ellipse cx="49.0" cy="470.8" rx="9.6" ry="7.5" fill="url(#gb)"/><ellipse cx="81.1" cy="470.8" rx="9.6" ry="7.5" fill="url(#gb)"/><ellipse cx="113.1" cy="470.8" rx="9.6" ry="7.5" fill="url(#gb)"/><ellipse cx="145.2" cy="470.8" rx="9.6" ry="7.5" fill="url(#gb)"/><ellipse cx="177.2" cy="470.8" rx="9.6" ry="7.5" fill="url(#gb)"/><ellipse cx="241.3" cy="470.8" rx="9.6" ry="7.5" fill="url(#gb)"/><ellipse cx="273.4" cy="470.8" rx="9.6" ry="7.5" fill="url(#gb)"/><ellipse cx="8.4" cy="477.2" rx="10.3" ry="8.0" fill="url(#gc)"/><ellipse cx="25.0" cy="477.2" rx="10.3" ry="8.0" fill="url(#gc)"/><ellipse cx="58.2" cy="477.2" rx="10.3" ry="8.0" fill="url(#gc)"/><ellipse cx="91.3" cy="477.2" rx="10.3" ry="8.0" fill="url(#gc)"/><ellipse cx="157.6" cy="477.2" rx="10.3" ry="8.0" fill="url(#gc)"/><ellipse cx="190.8" cy="477.2" rx="10.3" ry="8.0" fill="url(#gc)"/><ellipse cx="224.0" cy="477.2" rx="10.3" ry="8.0" fill="url(#gc)"/><ellipse cx="257.1" cy="477.2" rx="10.3" ry="8.0" fill="url(#gc)"/><ellipse cx="41.6" cy="477.2" rx="10.0" ry="7.7" fill="url(#gb)"/><ellipse cx="74.7" cy="477.2" rx="10.0" ry="7.7" fill="url(#gb)"/><ellipse cx="107.9" cy="477.2" rx="10.0" ry="7.7" fill="url(#gb)"/><ellipse cx="124.5" cy="477.2" rx="10.0" ry="7.7" fill="url(#gb)"/><ellipse cx="141.1" cy="477.2" rx="10.0" ry="7.7" fill="url(#gb)"/><ellipse cx="174.2" cy="477.2" rx="10.0" ry="7.7" fill="url(#gb)"/><ellipse cx="207.4" cy="477.2" rx="10.0" ry="7.7" fill="url(#gb)"/><ellipse cx="240.5" cy="477.2" rx="10.0" ry="7.7" fill="url(#gb)"/><ellipse cx="273.7" cy="477.2" rx="10.0" ry="7.7" fill="url(#gb)"/><ellipse cx="33.6" cy="483.8" rx="10.6" ry="8.2" fill="url(#gc)"/><ellipse cx="67.9" cy="483.8" rx="10.6" ry="8.2" fill="url(#gc)"/><ellipse cx="102.2" cy="483.8" rx="10.6" ry="8.2" fill="url(#gc)"/><ellipse cx="136.5" cy="483.8" rx="10.6" ry="8.2" fill="url(#gc)"/><ellipse cx="170.8" cy="483.8" rx="10.6" ry="8.2" fill="url(#gc)"/><ellipse cx="239.5" cy="483.8" rx="10.6" ry="8.2" fill="url(#gc)"/><ellipse cx="273.8" cy="483.8" rx="10.6" ry="8.2" fill="url(#gc)"/><ellipse cx="16.4" cy="483.8" rx="10.3" ry="8.0" fill="url(#gb)"/><ellipse cx="50.7" cy="483.8" rx="10.3" ry="8.0" fill="url(#gb)"/><ellipse cx="85.0" cy="483.8" rx="10.3" ry="8.0" fill="url(#gb)"/><ellipse cx="119.4" cy="483.8" rx="10.3" ry="8.0" fill="url(#gb)"/><ellipse cx="153.7" cy="483.8" rx="10.3" ry="8.0" fill="url(#gb)"/><ellipse cx="188.0" cy="483.8" rx="10.3" ry="8.0" fill="url(#gb)"/><ellipse cx="205.1" cy="483.8" rx="10.3" ry="8.0" fill="url(#gb)"/><ellipse cx="222.3" cy="483.8" rx="10.3" ry="8.0" fill="url(#gb)"/><ellipse cx="256.6" cy="483.8" rx="10.3" ry="8.0" fill="url(#gb)"/><ellipse cx="25.0" cy="490.7" rx="11.0" ry="8.5" fill="url(#gc)"/><ellipse cx="42.8" cy="490.7" rx="11.0" ry="8.5" fill="url(#gc)"/><ellipse cx="60.5" cy="490.7" rx="11.0" ry="8.5" fill="url(#gc)"/><ellipse cx="96.0" cy="490.7" rx="11.0" ry="8.5" fill="url(#gc)"/><ellipse cx="131.5" cy="490.7" rx="11.0" ry="8.5" fill="url(#gc)"/><ellipse cx="167.0" cy="490.7" rx="11.0" ry="8.5" fill="url(#gc)"/><ellipse cx="202.5" cy="490.7" rx="11.0" ry="8.5" fill="url(#gc)"/><ellipse cx="238.0" cy="490.7" rx="11.0" ry="8.5" fill="url(#gc)"/><ellipse cx="273.5" cy="490.7" rx="11.0" ry="8.5" fill="url(#gc)"/><ellipse cx="7.2" cy="490.7" rx="10.7" ry="8.3" fill="url(#gb)"/><ellipse cx="78.3" cy="490.7" rx="10.7" ry="8.3" fill="url(#gb)"/><ellipse cx="113.8" cy="490.7" rx="10.7" ry="8.3" fill="url(#gb)"/><ellipse cx="149.3" cy="490.7" rx="10.7" ry="8.3" fill="url(#gb)"/><ellipse cx="184.8" cy="490.7" rx="10.7" ry="8.3" fill="url(#gb)"/><ellipse cx="220.3" cy="490.7" rx="10.7" ry="8.3" fill="url(#gb)"/><ellipse cx="255.8" cy="490.7" rx="10.7" ry="8.3" fill="url(#gb)"/>
<rect x="25" y="404" width="238" height="32" fill="url(#fog1)"/>
</g>
<g clip-path="url(#cp2)">
<rect x="264" y="444" width="238" height="40" fill="#4ac8e0"/>
<ellipse cx="264.0" cy="440.0" rx="7.4" ry="4.3" fill="url(#gc)"/><ellipse cx="312.0" cy="440.0" rx="7.4" ry="4.3" fill="url(#gc)"/><ellipse cx="360.0" cy="440.0" rx="7.4" ry="4.3" fill="url(#gc)"/><ellipse cx="384.0" cy="440.0" rx="7.4" ry="4.3" fill="url(#gc)"/><ellipse cx="408.0" cy="440.0" rx="7.4" ry="4.3" fill="url(#gc)"/><ellipse cx="432.0" cy="440.0" rx="7.4" ry="4.3" fill="url(#gc)"/><ellipse cx="456.0" cy="440.0" rx="7.4" ry="4.3" fill="url(#gc)"/><ellipse cx="480.0" cy="440.0" rx="7.4" ry="4.3" fill="url(#gc)"/><ellipse cx="504.0" cy="440.0" rx="7.4" ry="4.3" fill="url(#gc)"/><ellipse cx="252.0" cy="440.0" rx="6.0" ry="3.5" fill="url(#gb)"/><ellipse cx="276.0" cy="440.0" rx="6.0" ry="3.5" fill="url(#gb)"/><ellipse cx="288.0" cy="440.0" rx="6.0" ry="3.5" fill="url(#gb)"/><ellipse cx="300.0" cy="440.0" rx="6.0" ry="3.5" fill="url(#gb)"/><ellipse cx="324.0" cy="440.0" rx="6.0" ry="3.5" fill="url(#gb)"/><ellipse cx="336.0" cy="440.0" rx="6.0" ry="3.5" fill="url(#gb)"/><ellipse cx="348.0" cy="440.0" rx="6.0" ry="3.5" fill="url(#gb)"/><ellipse cx="372.0" cy="440.0" rx="6.0" ry="3.5" fill="url(#gb)"/><ellipse cx="396.0" cy="440.0" rx="6.0" ry="3.5" fill="url(#gb)"/><ellipse cx="420.0" cy="440.0" rx="6.0" ry="3.5" fill="url(#gb)"/><ellipse cx="444.0" cy="440.0" rx="6.0" ry="3.5" fill="url(#gb)"/><ellipse cx="468.0" cy="440.0" rx="6.0" ry="3.5" fill="url(#gb)"/><ellipse cx="492.0" cy="440.0" rx="6.0" ry="3.5" fill="url(#gb)"/><ellipse cx="270.3" cy="443.6" rx="7.8" ry="4.5" fill="url(#gc)"/><ellipse cx="295.3" cy="443.6" rx="7.8" ry="4.5" fill="url(#gc)"/><ellipse cx="320.3" cy="443.6" rx="7.8" ry="4.5" fill="url(#gc)"/><ellipse cx="345.3" cy="443.6" rx="7.8" ry="4.5" fill="url(#gc)"/><ellipse cx="370.4" cy="443.6" rx="7.8" ry="4.5" fill="url(#gc)"/><ellipse cx="395.4" cy="443.6" rx="7.8" ry="4.5" fill="url(#gc)"/><ellipse cx="420.4" cy="443.6" rx="7.8" ry="4.5" fill="url(#gc)"/><ellipse cx="445.5" cy="443.6" rx="7.8" ry="4.5" fill="url(#gc)"/><ellipse cx="470.5" cy="443.6" rx="7.8" ry="4.5" fill="url(#gc)"/><ellipse cx="495.5" cy="443.6" rx="7.8" ry="4.5" fill="url(#gc)"/><ellipse cx="257.7" cy="443.6" rx="6.2" ry="3.6" fill="url(#gb)"/><ellipse cx="282.8" cy="443.6" rx="6.2" ry="3.6" fill="url(#gb)"/><ellipse cx="307.8" cy="443.6" rx="6.2" ry="3.6" fill="url(#gb)"/><ellipse cx="332.8" cy="443.6" rx="6.2" ry="3.6" fill="url(#gb)"/><ellipse cx="357.9" cy="443.6" rx="6.2" ry="3.6" fill="url(#gb)"/><ellipse cx="382.9" cy="443.6" rx="6.2" ry="3.6" fill="url(#gb)"/><ellipse cx="407.9" cy="443.6" rx="6.2" ry="3.6" fill="url(#gb)"/><ellipse cx="432.9" cy="443.6" rx="6.2" ry="3.6" fill="url(#gb)"/><ellipse cx="458.0" cy="443.6" rx="6.2" ry="3.6" fill="url(#gb)"/><ellipse cx="483.0" cy="443.6" rx="6.2" ry="3.6" fill="url(#gb)"/><ellipse cx="508.0" cy="443.6" rx="6.2" ry="3.6" fill="url(#gb)"/><ellipse cx="264.0" cy="447.4" rx="8.1" ry="4.7" fill="url(#gc)"/><ellipse cx="290.1" cy="447.4" rx="8.1" ry="4.7" fill="url(#gc)"/><ellipse cx="316.2" cy="447.4" rx="8.1" ry="4.7" fill="url(#gc)"/><ellipse cx="329.3" cy="447.4" rx="8.1" ry="4.7" fill="url(#gc)"/><ellipse cx="342.3" cy="447.4" rx="8.1" ry="4.7" fill="url(#gc)"/><ellipse cx="368.4" cy="447.4" rx="8.1" ry="4.7" fill="url(#gc)"/><ellipse cx="394.5" cy="447.4" rx="8.1" ry="4.7" fill="url(#gc)"/><ellipse cx="420.6" cy="447.4" rx="8.1" ry="4.7" fill="url(#gc)"/><ellipse cx="446.7" cy="447.4" rx="8.1" ry="4.7" fill="url(#gc)"/><ellipse cx="472.8" cy="447.4" rx="8.1" ry="4.7" fill="url(#gc)"/><ellipse cx="498.9" cy="447.4" rx="8.1" ry="4.7" fill="url(#gc)"/><ellipse cx="250.9" cy="447.4" rx="6.5" ry="3.8" fill="url(#gb)"/><ellipse cx="277.1" cy="447.4" rx="6.5" ry="3.8" fill="url(#gb)"/><ellipse cx="303.2" cy="447.4" rx="6.5" ry="3.8" fill="url(#gb)"/><ellipse cx="355.4" cy="447.4" rx="6.5" ry="3.8" fill="url(#gb)"/><ellipse cx="381.5" cy="447.4" rx="6.5" ry="3.8" fill="url(#gb)"/><ellipse cx="407.6" cy="447.4" rx="6.5" ry="3.8" fill="url(#gb)"/><ellipse cx="433.7" cy="447.4" rx="6.5" ry="3.8" fill="url(#gb)"/><ellipse cx="459.8" cy="447.4" rx="6.5" ry="3.8" fill="url(#gb)"/><ellipse cx="485.9" cy="447.4" rx="6.5" ry="3.8" fill="url(#gb)"/><ellipse cx="512.0" cy="447.4" rx="6.5" ry="3.8" fill="url(#gb)"/><ellipse cx="257.2" cy="451.3" rx="8.4" ry="4.9" fill="url(#gc)"/><ellipse cx="270.8" cy="451.3" rx="8.4" ry="4.9" fill="url(#gc)"/><ellipse cx="284.4" cy="451.3" rx="8.4" ry="4.9" fill="url(#gc)"/><ellipse cx="298.0" cy="451.3" rx="8.4" ry="4.9" fill="url(#gc)"/><ellipse cx="325.2" cy="451.3" rx="8.4" ry="4.9" fill="url(#gc)"/><ellipse cx="352.5" cy="451.3" rx="8.4" ry="4.9" fill="url(#gc)"/><ellipse cx="379.7" cy="451.3" rx="8.4" ry="4.9" fill="url(#gc)"/><ellipse cx="406.9" cy="451.3" rx="8.4" ry="4.9" fill="url(#gc)"/><ellipse cx="434.1" cy="451.3" rx="8.4" ry="4.9" fill="url(#gc)"/><ellipse cx="461.3" cy="451.3" rx="8.4" ry="4.9" fill="url(#gc)"/><ellipse cx="475.0" cy="451.3" rx="8.4" ry="4.9" fill="url(#gc)"/><ellipse cx="488.6" cy="451.3" rx="8.4" ry="4.9" fill="url(#gc)"/><ellipse cx="311.6" cy="451.3" rx="6.8" ry="3.9" fill="url(#gb)"/><ellipse cx="338.9" cy="451.3" rx="6.8" ry="3.9" fill="url(#gb)"/><ellipse cx="366.1" cy="451.3" rx="6.8" ry="3.9" fill="url(#gb)"/><ellipse cx="393.3" cy="451.3" rx="6.8" ry="3.9" fill="url(#gb)"/><ellipse cx="420.5" cy="451.3" rx="6.8" ry="3.9" fill="url(#gb)"/><ellipse cx="447.7" cy="451.3" rx="6.8" ry="3.9" fill="url(#gb)"/><ellipse cx="502.2" cy="451.3" rx="6.8" ry="3.9" fill="url(#gb)"/><ellipse cx="320.8" cy="455.4" rx="8.8" ry="5.1" fill="url(#gc)"/><ellipse cx="335.0" cy="455.4" rx="8.8" ry="5.1" fill="url(#gc)"/><ellipse cx="349.2" cy="455.4" rx="8.8" ry="5.1" fill="url(#gc)"/><ellipse cx="377.5" cy="455.4" rx="8.8" ry="5.1" fill="url(#gc)"/><ellipse cx="391.7" cy="455.4" rx="8.8" ry="5.1" fill="url(#gc)"/><ellipse cx="405.9" cy="455.4" rx="8.8" ry="5.1" fill="url(#gc)"/><ellipse cx="434.3" cy="455.4" rx="8.8" ry="5.1" fill="url(#gc)"/><ellipse cx="448.5" cy="455.4" rx="8.8" ry="5.1" fill="url(#gc)"/><ellipse cx="462.7" cy="455.4" rx="8.8" ry="5.1" fill="url(#gc)"/><ellipse cx="491.1" cy="455.4" rx="8.8" ry="5.1" fill="url(#gc)"/><ellipse cx="249.8" cy="455.4" rx="7.0" ry="4.1" fill="url(#gb)"/><ellipse cx="264.0" cy="455.4" rx="7.0" ry="4.1" fill="url(#gb)"/><ellipse cx="278.2" cy="455.4" rx="7.0" ry="4.1" fill="url(#gb)"/><ellipse cx="292.4" cy="455.4" rx="7.0" ry="4.1" fill="url(#gb)"/><ellipse cx="306.6" cy="455.4" rx="7.0" ry="4.1" fill="url(#gb)"/><ellipse cx="363.4" cy="455.4" rx="7.0" ry="4.1" fill="url(#gb)"/><ellipse cx="420.1" cy="455.4" rx="7.0" ry="4.1" fill="url(#gb)"/><ellipse cx="476.9" cy="455.4" rx="7.0" ry="4.1" fill="url(#gb)"/><ellipse cx="505.3" cy="455.4" rx="7.0" ry="4.1" fill="url(#gb)"/><ellipse cx="271.4" cy="459.6" rx="9.2" ry="5.3" fill="url(#gc)"/><ellipse cx="301.0" cy="459.6" rx="9.2" ry="5.3" fill="url(#gc)"/><ellipse cx="315.8" cy="459.6" rx="9.2" ry="5.3" fill="url(#gc)"/><ellipse cx="330.6" cy="459.6" rx="9.2" ry="5.3" fill="url(#gc)"/><ellipse cx="360.2" cy="459.6" rx="9.2" ry="5.3" fill="url(#gc)"/><ellipse cx="375.0" cy="459.6" rx="9.2" ry="5.3" fill="url(#gc)"/><ellipse cx="389.8" cy="459.6" rx="9.2" ry="5.3" fill="url(#gc)"/><ellipse cx="419.4" cy="459.6" rx="9.2" ry="5.3" fill="url(#gc)"/><ellipse cx="449.0" cy="459.6" rx="9.2" ry="5.3" fill="url(#gc)"/><ellipse cx="508.2" cy="459.6" rx="9.2" ry="5.3" fill="url(#gc)"/><ellipse cx="256.6" cy="459.6" rx="7.3" ry="4.3" fill="url(#gb)"/><ellipse cx="286.2" cy="459.6" rx="7.3" ry="4.3" fill="url(#gb)"/><ellipse cx="345.4" cy="459.6" rx="7.3" ry="4.3" fill="url(#gb)"/><ellipse cx="404.6" cy="459.6" rx="7.3" ry="4.3" fill="url(#gb)"/><ellipse cx="434.2" cy="459.6" rx="7.3" ry="4.3" fill="url(#gb)"/><ellipse cx="463.8" cy="459.6" rx="7.3" ry="4.3" fill="url(#gb)"/><ellipse cx="478.6" cy="459.6" rx="7.3" ry="4.3" fill="url(#gb)"/><ellipse cx="493.4" cy="459.6" rx="7.3" ry="4.3" fill="url(#gb)"/><ellipse cx="248.6" cy="464.1" rx="9.6" ry="5.6" fill="url(#gc)"/><ellipse cx="264.0" cy="464.1" rx="9.6" ry="5.6" fill="url(#gc)"/><ellipse cx="294.9" cy="464.1" rx="9.6" ry="5.6" fill="url(#gc)"/><ellipse cx="325.7" cy="464.1" rx="9.6" ry="5.6" fill="url(#gc)"/><ellipse cx="356.6" cy="464.1" rx="9.6" ry="5.6" fill="url(#gc)"/><ellipse cx="387.5" cy="464.1" rx="9.6" ry="5.6" fill="url(#gc)"/><ellipse cx="418.4" cy="464.1" rx="9.6" ry="5.6" fill="url(#gc)"/><ellipse cx="480.1" cy="464.1" rx="9.6" ry="5.6" fill="url(#gc)"/><ellipse cx="511.0" cy="464.1" rx="9.6" ry="5.6" fill="url(#gc)"/><ellipse cx="279.4" cy="464.1" rx="7.7" ry="4.4" fill="url(#gb)"/><ellipse cx="310.3" cy="464.1" rx="7.7" ry="4.4" fill="url(#gb)"/><ellipse cx="341.2" cy="464.1" rx="7.7" ry="4.4" fill="url(#gb)"/><ellipse cx="372.1" cy="464.1" rx="7.7" ry="4.4" fill="url(#gb)"/><ellipse cx="402.9" cy="464.1" rx="7.7" ry="4.4" fill="url(#gb)"/><ellipse cx="433.8" cy="464.1" rx="7.7" ry="4.4" fill="url(#gb)"/><ellipse cx="449.2" cy="464.1" rx="7.7" ry="4.4" fill="url(#gb)"/><ellipse cx="464.7" cy="464.1" rx="7.7" ry="4.4" fill="url(#gb)"/><ellipse cx="495.5" cy="464.1" rx="7.7" ry="4.4" fill="url(#gb)"/><ellipse cx="272.0" cy="468.7" rx="10.0" ry="5.8" fill="url(#gc)"/><ellipse cx="336.4" cy="468.7" rx="10.0" ry="5.8" fill="url(#gc)"/><ellipse cx="368.6" cy="468.7" rx="10.0" ry="5.8" fill="url(#gc)"/><ellipse cx="400.8" cy="468.7" rx="10.0" ry="5.8" fill="url(#gc)"/><ellipse cx="433.0" cy="468.7" rx="10.0" ry="5.8" fill="url(#gc)"/><ellipse cx="465.2" cy="468.7" rx="10.0" ry="5.8" fill="url(#gc)"/><ellipse cx="497.4" cy="468.7" rx="10.0" ry="5.8" fill="url(#gc)"/><ellipse cx="256.0" cy="468.7" rx="8.0" ry="4.6" fill="url(#gb)"/><ellipse cx="288.1" cy="468.7" rx="8.0" ry="4.6" fill="url(#gb)"/><ellipse cx="304.2" cy="468.7" rx="8.0" ry="4.6" fill="url(#gb)"/><ellipse cx="320.3" cy="468.7" rx="8.0" ry="4.6" fill="url(#gb)"/><ellipse cx="352.5" cy="468.7" rx="8.0" ry="4.6" fill="url(#gb)"/><ellipse cx="384.7" cy="468.7" rx="8.0" ry="4.6" fill="url(#gb)"/><ellipse cx="416.9" cy="468.7" rx="8.0" ry="4.6" fill="url(#gb)"/><ellipse cx="449.1" cy="468.7" rx="8.0" ry="4.6" fill="url(#gb)"/><ellipse cx="481.3" cy="468.7" rx="8.0" ry="4.6" fill="url(#gb)"/><ellipse cx="513.5" cy="468.7" rx="8.0" ry="4.6" fill="url(#gb)"/><ellipse cx="247.2" cy="473.5" rx="10.4" ry="6.0" fill="url(#gc)"/><ellipse cx="264.0" cy="473.5" rx="10.4" ry="6.0" fill="url(#gc)"/><ellipse cx="297.6" cy="473.5" rx="10.4" ry="6.0" fill="url(#gc)"/><ellipse cx="331.1" cy="473.5" rx="10.4" ry="6.0" fill="url(#gc)"/><ellipse cx="364.7" cy="473.5" rx="10.4" ry="6.0" fill="url(#gc)"/><ellipse cx="398.3" cy="473.5" rx="10.4" ry="6.0" fill="url(#gc)"/><ellipse cx="431.9" cy="473.5" rx="10.4" ry="6.0" fill="url(#gc)"/><ellipse cx="465.4" cy="473.5" rx="10.4" ry="6.0" fill="url(#gc)"/><ellipse cx="499.0" cy="473.5" rx="10.4" ry="6.0" fill="url(#gc)"/><ellipse cx="280.8" cy="473.5" rx="8.3" ry="4.8" fill="url(#gb)"/><ellipse cx="314.4" cy="473.5" rx="8.3" ry="4.8" fill="url(#gb)"/><ellipse cx="347.9" cy="473.5" rx="8.3" ry="4.8" fill="url(#gb)"/><ellipse cx="381.5" cy="473.5" rx="8.3" ry="4.8" fill="url(#gb)"/><ellipse cx="415.1" cy="473.5" rx="8.3" ry="4.8" fill="url(#gb)"/><ellipse cx="448.7" cy="473.5" rx="8.3" ry="4.8" fill="url(#gb)"/><ellipse cx="482.2" cy="473.5" rx="8.3" ry="4.8" fill="url(#gb)"/><ellipse cx="515.8" cy="473.5" rx="8.3" ry="4.8" fill="url(#gb)"/><ellipse cx="272.8" cy="478.5" rx="10.9" ry="6.3" fill="url(#gc)"/><ellipse cx="307.8" cy="478.5" rx="10.9" ry="6.3" fill="url(#gc)"/><ellipse cx="342.8" cy="478.5" rx="10.9" ry="6.3" fill="url(#gc)"/><ellipse cx="377.8" cy="478.5" rx="10.9" ry="6.3" fill="url(#gc)"/><ellipse cx="412.8" cy="478.5" rx="10.9" ry="6.3" fill="url(#gc)"/><ellipse cx="447.8" cy="478.5" rx="10.9" ry="6.3" fill="url(#gc)"/><ellipse cx="465.3" cy="478.5" rx="10.9" ry="6.3" fill="url(#gc)"/><ellipse cx="482.8" cy="478.5" rx="10.9" ry="6.3" fill="url(#gc)"/><ellipse cx="255.2" cy="478.5" rx="8.7" ry="5.0" fill="url(#gb)"/><ellipse cx="290.3" cy="478.5" rx="8.7" ry="5.0" fill="url(#gb)"/><ellipse cx="325.3" cy="478.5" rx="8.7" ry="5.0" fill="url(#gb)"/><ellipse cx="360.3" cy="478.5" rx="8.7" ry="5.0" fill="url(#gb)"/><ellipse cx="395.3" cy="478.5" rx="8.7" ry="5.0" fill="url(#gb)"/><ellipse cx="430.3" cy="478.5" rx="8.7" ry="5.0" fill="url(#gb)"/><ellipse cx="500.3" cy="478.5" rx="8.7" ry="5.0" fill="url(#gb)"/><ellipse cx="517.8" cy="478.5" rx="8.7" ry="5.0" fill="url(#gb)"/><ellipse cx="264.0" cy="483.8" rx="11.3" ry="6.6" fill="url(#gc)"/><ellipse cx="300.5" cy="483.8" rx="11.3" ry="6.6" fill="url(#gc)"/><ellipse cx="337.0" cy="483.8" rx="11.3" ry="6.6" fill="url(#gc)"/><ellipse cx="355.3" cy="483.8" rx="11.3" ry="6.6" fill="url(#gc)"/><ellipse cx="373.5" cy="483.8" rx="11.3" ry="6.6" fill="url(#gc)"/><ellipse cx="391.8" cy="483.8" rx="11.3" ry="6.6" fill="url(#gc)"/><ellipse cx="410.1" cy="483.8" rx="11.3" ry="6.6" fill="url(#gc)"/><ellipse cx="446.6" cy="483.8" rx="11.3" ry="6.6" fill="url(#gc)"/><ellipse cx="483.1" cy="483.8" rx="11.3" ry="6.6" fill="url(#gc)"/><ellipse cx="519.6" cy="483.8" rx="11.3" ry="6.6" fill="url(#gc)"/><ellipse cx="245.7" cy="483.8" rx="9.1" ry="5.3" fill="url(#gb)"/><ellipse cx="282.3" cy="483.8" rx="9.1" ry="5.3" fill="url(#gb)"/><ellipse cx="318.8" cy="483.8" rx="9.1" ry="5.3" fill="url(#gb)"/><ellipse cx="428.3" cy="483.8" rx="9.1" ry="5.3" fill="url(#gb)"/><ellipse cx="464.8" cy="483.8" rx="9.1" ry="5.3" fill="url(#gb)"/><ellipse cx="501.3" cy="483.8" rx="9.1" ry="5.3" fill="url(#gb)"/><ellipse cx="273.5" cy="489.3" rx="11.8" ry="6.9" fill="url(#gc)"/><ellipse cx="311.6" cy="489.3" rx="11.8" ry="6.9" fill="url(#gc)"/><ellipse cx="349.7" cy="489.3" rx="11.8" ry="6.9" fill="url(#gc)"/><ellipse cx="387.8" cy="489.3" rx="11.8" ry="6.9" fill="url(#gc)"/><ellipse cx="425.8" cy="489.3" rx="11.8" ry="6.9" fill="url(#gc)"/><ellipse cx="502.0" cy="489.3" rx="11.8" ry="6.9" fill="url(#gc)"/><ellipse cx="254.5" cy="489.3" rx="9.4" ry="5.5" fill="url(#gb)"/><ellipse cx="292.6" cy="489.3" rx="9.4" ry="5.5" fill="url(#gb)"/><ellipse cx="330.6" cy="489.3" rx="9.4" ry="5.5" fill="url(#gb)"/><ellipse cx="368.7" cy="489.3" rx="9.4" ry="5.5" fill="url(#gb)"/><ellipse cx="406.8" cy="489.3" rx="9.4" ry="5.5" fill="url(#gb)"/><ellipse cx="444.9" cy="489.3" rx="9.4" ry="5.5" fill="url(#gb)"/><ellipse cx="463.9" cy="489.3" rx="9.4" ry="5.5" fill="url(#gb)"/><ellipse cx="483.0" cy="489.3" rx="9.4" ry="5.5" fill="url(#gb)"/><ellipse cx="521.0" cy="489.3" rx="9.4" ry="5.5" fill="url(#gb)"/>
<rect x="264" y="440" width="238" height="42" fill="#fff" opacity="0.12"/>
<rect x="264" y="434" width="238" height="20" fill="url(#fog1)"/>
</g>
<pattern id="chk" width="12" height="5.4" patternUnits="userSpaceOnUse" patternTransform="rotate(26)"><rect width="12" height="5.4" fill="#5cd8e8"/><rect x="0" y="0" width="6" height="2.4" fill="#3050e8" opacity="0.8"/><rect x="6" y="2.7" width="6" height="2.5" fill="#8ae8f0"/></pattern>
<g clip-path="url(#cp3)">
<rect x="503" y="437" width="238" height="45" fill="url(#chk)"/>
<path d="M183 437 L283 487M223 437 L323 487M263 437 L363 487M303 437 L403 487M343 437 L443 487M383 437 L483 487M423 437 L523 487M463 437 L563 487M503 437 L603 487M543 437 L643 487M583 437 L683 487M623 437 L723 487M663 437 L763 487M703 437 L803 487M743 437 L843 487M783 437 L883 487M823 437 L923 487M863 437 L963 487" stroke="#0c22dc" stroke-width="3"/>
<path d="M520 462 C540 458 560 464 580 470 L560 474 C545 470 530 468 520 462 Z" fill="#0a2a30" opacity="0.5" filter="url(#bl1)"/>
<rect x="503" y="432" width="238" height="14" fill="url(#fog1)"/>
</g>
<g clip-path="url(#cp1)" filter="url(#bl05)">
<path d="M126 291 C112 297 98 302 87 309 C80 316 80 330 81.8 335.5 C82 342 76 346 68 346 C58 345 52 336 53.5 328 C55 318 64 314 72 315 C76 315 79 317 80 319" fill="none" stroke="#3a8a30" stroke-width="6.6" stroke-linecap="round" stroke-linejoin="round"/><path d="M126 291 C112 297 98 302 87 309 C80 316 80 330 81.8 335.5 C82 342 76 346 68 346 C58 345 52 336 53.5 328 C55 318 64 314 72 315 C76 315 79 317 80 319" fill="none" stroke="#84d272" stroke-width="5" stroke-linecap="round" stroke-linejoin="round"/><path d="M126 291 C112 297 98 302 87 309 C80 316 80 330 81.8 335.5 C82 342 76 346 68 346 C58 345 52 336 53.5 328 C55 318 64 314 72 315 C76 315 79 317 80 319" fill="none" stroke="#a4ec92" stroke-width="1.8" stroke-linecap="round" stroke-linejoin="round" opacity="0.7"/>
<path d="M64 338 L71 341" fill="none" stroke="#3a8a30" stroke-width="6.1" stroke-linecap="round" stroke-linejoin="round"/><path d="M64 338 L71 341" fill="none" stroke="#84d272" stroke-width="4.5" stroke-linecap="round" stroke-linejoin="round"/><path d="M64 338 L71 341" fill="none" stroke="#a4ec92" stroke-width="1.6" stroke-linecap="round" stroke-linejoin="round" opacity="0.7"/>
<path d="M125.1 295.3 L126.6 294.6 L128.1 294.0 L129.7 293.5 L131.2 293.1 L132.8 292.8 L134.4 292.6 L136.0 292.4 L137.6 292.4 L139.2 292.5 L140.7 292.6 L142.2 292.8 L143.7 293.1 L145.1 293.5 L146.4 294.0 L147.7 294.5 L148.9 295.1 L150.0 295.7 L151.1 296.4 L152.1 297.1 L153.0 297.9 L153.8 298.7 L154.6 299.6 L155.3 300.6 L155.9 301.5 L156.5 302.5 L157.0 303.5 L157.5 304.6 L157.9 305.7 L158.3 306.7 L158.6 307.8 L158.8 308.9 L159.1 310.0 L159.2 311.0 L159.3 312.1 L159.4 313.1 L159.4 314.1 L159.4 315.1 L159.3 316.0 L159.1 316.9 L159.0 317.7 L158.7 318.4 L158.5 319.1 L158.2 319.8 L157.9 320.3 L157.5 320.8 L157.3 321.1 L157.1 321.2 L156.6 321.5 L156.2 321.8 L155.7 322.1 L155.3 322.3 L154.8 322.5 L154.3 322.7 L153.8 322.9 L153.3 323.0 L152.7 323.2 L152.2 323.2 L151.6 323.3 L151.1 323.3 L150.5 323.3 L149.9 323.2 L149.3 323.1 L148.8 323.0 L148.2 322.8 L147.7 322.5 L147.1 322.3 L146.7 322.0 L146.2 321.6 L145.7 321.2 L142.3 324.8 L142.9 325.4 L143.6 326.0 L144.3 326.5 L145.0 327.1 L145.8 327.5 L146.5 328.0 L147.4 328.4 L148.2 328.8 L149.1 329.1 L150.0 329.4 L150.9 329.6 L151.8 329.8 L152.8 329.9 L153.7 330.0 L154.7 330.0 L155.7 329.9 L156.7 329.8 L157.7 329.5 L158.7 329.2 L159.7 328.8 L160.7 328.3 L161.6 327.8 L162.7 326.9 L163.7 325.8 L164.5 324.8 L165.2 323.7 L165.8 322.5 L166.4 321.2 L166.8 320.0 L167.2 318.7 L167.4 317.3 L167.7 315.9 L167.8 314.5 L167.9 313.1 L167.9 311.7 L167.8 310.2 L167.6 308.7 L167.4 307.2 L167.1 305.7 L166.7 304.2 L166.3 302.7 L165.7 301.2 L165.1 299.8 L164.4 298.3 L163.6 296.9 L162.7 295.4 L161.5 293.9 L160.1 292.4 L158.7 291.2 L157.1 290.1 L155.5 289.1 L153.8 288.3 L152.0 287.6 L150.2 287.0 L148.4 286.6 L146.6 286.3 L144.7 286.1 L142.8 286.0 L141.0 286.0 L139.1 286.1 L137.2 286.3 L135.4 286.6 L133.5 287.0 L131.7 287.4 L129.9 287.9 L128.1 288.5 L126.3 289.2 L124.6 290.0 L122.9 290.7 Z" fill="#84d272" stroke="#3a8a30" stroke-width="1.1" stroke-linejoin="round"/><path d="M124.3 293.7 L125.9 292.9 L127.5 292.3 L129.1 291.8 L130.8 291.3 L132.4 290.9 L134.1 290.6 L135.8 290.4 L137.5 290.3 L139.2 290.2 L140.8 290.3 L142.4 290.4 L144.0 290.7 L145.6 291.0 L147.1 291.4 L148.6 291.9 L150.0 292.4 L151.4 293.1 L152.6 293.8 L153.8 294.6 L155.0 295.6 L156.0 296.5 L157.0 297.6 L157.9 298.8 L158.6 299.9 L159.2 301.0 L159.8 302.2 L160.4 303.4 L160.8 304.6 L161.2 305.9 L161.6 307.1 L161.8 308.3 L162.1 309.5 L162.2 310.7 L162.3 311.9 L162.4 313.1 L162.3 314.3 L162.3 315.4 L162.1 316.5 L161.9 317.5 L161.7 318.5 L161.4 319.4 L161.0 320.3 L160.6 321.1 L160.2 321.9 L159.7 322.5 L159.2 323.1 L158.7 323.5 L158.0 323.9 L157.4 324.3 L156.8 324.6 L156.1 324.8 L155.5 325.1 L154.8 325.2 L154.1 325.4 L153.4 325.5 L152.7 325.5 L152.1 325.5 L151.4 325.5 L150.7 325.4 L150.0 325.3 L149.3 325.2 L148.6 325.0 L148.0 324.7 L147.4 324.4 L146.7 324.1 L146.1 323.8 L145.6 323.4 L145.0 322.9 L144.5 322.5 L143.5 323.5 L144.0 324.1 L144.6 324.6 L145.3 325.0 L145.9 325.5 L146.6 325.9 L147.3 326.2 L148.0 326.6 L148.8 326.8 L149.6 327.1 L150.3 327.3 L151.1 327.4 L151.9 327.5 L152.8 327.6 L153.6 327.6 L154.4 327.5 L155.2 327.4 L156.1 327.2 L156.9 327.0 L157.7 326.7 L158.5 326.4 L159.3 326.0 L160.0 325.5 L160.8 324.9 L161.6 324.1 L162.2 323.2 L162.8 322.3 L163.3 321.3 L163.7 320.3 L164.1 319.2 L164.4 318.0 L164.6 316.9 L164.8 315.6 L164.9 314.4 L164.9 313.1 L164.9 311.8 L164.8 310.5 L164.6 309.2 L164.4 307.8 L164.1 306.5 L163.8 305.1 L163.3 303.8 L162.8 302.4 L162.3 301.1 L161.6 299.8 L160.9 298.5 L160.1 297.2 L159.1 295.9 L157.9 294.6 L156.7 293.5 L155.4 292.5 L154.0 291.6 L152.5 290.9 L150.9 290.2 L149.4 289.6 L147.7 289.2 L146.1 288.8 L144.4 288.6 L142.6 288.4 L140.9 288.3 L139.1 288.3 L137.4 288.4 L135.6 288.6 L133.8 288.9 L132.1 289.3 L130.3 289.7 L128.6 290.3 L126.9 290.9 L125.3 291.6 L123.7 292.3 Z" fill="#a4ec92" opacity="0.55"/>
<path d="M133.0 293.4 L133.3 294.7 L133.5 295.9 L133.7 297.2 L133.9 298.4 L134.1 299.6 L134.2 300.7 L134.4 301.9 L134.6 303.1 L134.7 304.2 L134.9 305.3 L135.1 306.4 L135.3 307.6 L135.6 308.7 L135.8 309.8 L136.1 310.9 L136.5 312.0 L136.8 313.1 L137.2 314.2 L137.7 315.4 L138.2 316.5 L138.7 317.6 L139.4 318.7 L140.0 319.8 L146.0 316.2 L145.4 315.2 L144.8 314.3 L144.3 313.3 L143.8 312.4 L143.3 311.5 L142.8 310.6 L142.4 309.7 L141.9 308.8 L141.5 307.9 L141.1 306.9 L140.7 306.0 L140.3 305.0 L140.0 304.0 L139.6 303.0 L139.3 302.0 L139.0 300.9 L138.7 299.8 L138.4 298.7 L138.1 297.6 L137.8 296.4 L137.5 295.2 L137.2 293.9 L137.0 292.6 Z" fill="#6cbc5c" stroke="#3a8a30" stroke-width="1.1" stroke-linejoin="round"/><path d="M134.4 293.1 L134.7 294.4 L134.9 295.7 L135.1 296.9 L135.4 298.1 L135.6 299.3 L135.8 300.4 L136.0 301.6 L136.2 302.7 L136.5 303.8 L136.7 304.9 L136.9 305.9 L137.2 307.0 L137.5 308.1 L137.8 309.1 L138.2 310.2 L138.5 311.2 L138.9 312.2 L139.3 313.3 L139.8 314.3 L140.3 315.4 L140.9 316.4 L141.5 317.5 L142.1 318.5 L143.9 317.5 L143.3 316.4 L142.7 315.4 L142.2 314.4 L141.6 313.5 L141.2 312.5 L140.7 311.5 L140.3 310.5 L139.9 309.5 L139.5 308.5 L139.2 307.5 L138.8 306.5 L138.5 305.5 L138.2 304.5 L137.9 303.4 L137.6 302.4 L137.4 301.3 L137.1 300.1 L136.9 299.0 L136.6 297.8 L136.4 296.6 L136.1 295.4 L135.8 294.2 L135.6 292.9 Z" fill="#a4ec92" opacity="0.55"/>
<path d="M113 321 C120 315 132 316 136 325 C136 331 130 335 122 334 C116 331 112 327 113 321 Z" fill="#0c160c"/>
<path d="M114 332 C120 329 131 329 137 332 C132 340 124 341 117 339 Z" fill="#78cc68"/>
<path d="M94.4 346.9 L94.7 345.0 L95.1 343.1 L95.5 341.2 L96.0 339.4 L96.5 337.5 L97.2 335.6 L97.9 333.8 L98.7 331.9 L99.5 330.2 L100.4 328.4 L101.4 326.7 L102.5 325.1 L103.6 323.6 L104.8 322.1 L106.0 320.7 L107.3 319.4 L108.6 318.2 L110.0 317.1 L111.4 316.1 L112.9 315.2 L114.4 314.5 L116.0 313.8 L117.5 313.3 L118.4 313.2 L119.6 313.0 L120.8 313.0 L121.9 312.9 L123.1 313.0 L124.3 313.2 L125.5 313.4 L126.6 313.6 L127.7 314.0 L128.8 314.4 L129.9 314.9 L130.9 315.4 L131.9 316.0 L132.8 316.7 L133.6 317.4 L134.5 318.3 L135.2 319.1 L135.9 320.1 L136.5 321.1 L137.0 322.1 L137.5 323.3 L137.8 324.5 L138.1 325.8 L138.1 326.3 L138.2 327.0 L138.2 327.7 L138.3 328.3 L138.3 329.0 L138.3 329.6 L138.2 330.3 L138.2 330.9 L138.1 331.6 L137.9 332.3 L137.7 333.0 L137.4 333.6 L137.1 334.3 L136.7 335.0 L136.2 335.7 L135.7 336.4 L135.1 337.0 L134.5 337.6 L133.8 338.2 L133.0 338.8 L132.1 339.3 L131.2 339.7 L130.3 340.1 L131.7 343.9 L132.8 343.5 L133.9 343.0 L135.0 342.6 L136.0 342.1 L137.0 341.6 L138.1 341.1 L139.1 340.5 L140.0 339.9 L141.0 339.3 L141.9 338.6 L142.8 337.9 L143.6 337.0 L144.4 336.2 L145.1 335.2 L145.8 334.2 L146.4 333.2 L146.9 332.0 L147.4 330.9 L147.7 329.6 L147.9 328.4 L148.1 327.1 L148.1 325.7 L147.9 324.2 L147.6 322.2 L147.0 320.2 L146.4 318.3 L145.6 316.5 L144.6 314.8 L143.6 313.1 L142.5 311.5 L141.2 310.1 L139.9 308.7 L138.4 307.4 L136.9 306.3 L135.3 305.2 L133.7 304.3 L131.9 303.5 L130.2 302.8 L128.3 302.2 L126.5 301.7 L124.6 301.3 L122.6 301.1 L120.7 301.0 L118.7 301.1 L116.7 301.3 L114.5 301.7 L111.9 302.5 L109.5 303.5 L107.2 304.6 L105.0 305.9 L102.9 307.3 L100.9 308.8 L99.0 310.4 L97.1 312.2 L95.4 314.0 L93.8 315.9 L92.3 317.9 L90.9 320.0 L89.5 322.1 L88.3 324.3 L87.2 326.5 L86.1 328.8 L85.2 331.1 L84.3 333.4 L83.6 335.7 L82.9 338.1 L82.3 340.5 L81.9 342.8 L81.6 345.1 Z" fill="#84d272" stroke="#3a8a30" stroke-width="1.1" stroke-linejoin="round"/><path d="M89.9 346.3 L90.2 344.2 L90.6 342.2 L91.1 340.1 L91.6 338.1 L92.3 336.1 L93.0 334.0 L93.8 332.0 L94.6 330.0 L95.6 328.1 L96.6 326.2 L97.7 324.4 L98.9 322.6 L100.2 320.9 L101.5 319.3 L102.9 317.7 L104.4 316.3 L105.9 314.9 L107.5 313.7 L109.2 312.5 L110.9 311.5 L112.7 310.6 L114.6 309.9 L116.4 309.2 L117.8 309.0 L119.3 308.8 L120.7 308.8 L122.2 308.8 L123.6 308.9 L125.1 309.1 L126.5 309.4 L127.8 309.8 L129.2 310.3 L130.5 310.9 L131.8 311.5 L133.0 312.2 L134.2 313.0 L135.3 313.9 L136.3 314.9 L137.3 315.9 L138.1 317.0 L138.9 318.2 L139.7 319.5 L140.3 320.8 L140.8 322.2 L141.2 323.7 L141.5 325.2 L141.6 326.1 L141.6 327.0 L141.6 327.9 L141.6 328.8 L141.5 329.6 L141.3 330.5 L141.1 331.3 L140.8 332.1 L140.5 332.9 L140.2 333.6 L139.8 334.4 L139.3 335.1 L138.8 335.8 L138.2 336.5 L137.6 337.2 L136.9 337.8 L136.2 338.4 L135.4 339.0 L134.5 339.6 L133.7 340.1 L132.8 340.6 L131.8 341.0 L130.8 341.4 L131.2 342.6 L132.3 342.1 L133.3 341.7 L134.3 341.2 L135.2 340.7 L136.1 340.2 L137.0 339.7 L137.9 339.1 L138.7 338.5 L139.5 337.8 L140.2 337.1 L140.9 336.4 L141.5 335.6 L142.1 334.8 L142.7 334.0 L143.1 333.1 L143.6 332.2 L143.9 331.2 L144.2 330.2 L144.4 329.2 L144.5 328.1 L144.6 327.0 L144.6 325.9 L144.5 324.8 L144.1 323.0 L143.7 321.3 L143.1 319.7 L142.4 318.1 L141.6 316.6 L140.7 315.2 L139.7 313.9 L138.6 312.7 L137.4 311.5 L136.1 310.4 L134.8 309.5 L133.4 308.6 L132.0 307.8 L130.5 307.1 L128.9 306.6 L127.3 306.1 L125.7 305.7 L124.1 305.4 L122.4 305.3 L120.7 305.2 L119.0 305.3 L117.3 305.4 L115.6 305.8 L113.3 306.5 L111.2 307.3 L109.2 308.3 L107.2 309.5 L105.4 310.7 L103.6 312.1 L101.9 313.6 L100.2 315.2 L98.7 316.8 L97.2 318.6 L95.9 320.4 L94.6 322.4 L93.3 324.3 L92.2 326.3 L91.2 328.4 L90.2 330.5 L89.4 332.7 L88.6 334.8 L87.9 337.0 L87.3 339.2 L86.8 341.4 L86.4 343.6 L86.1 345.7 Z" fill="#a4ec92" opacity="0.55"/>
<path d="M82.1 335.3 L82.5 336.7 L82.9 338.2 L83.4 339.6 L84.0 341.0 L84.7 342.4 L85.5 343.6 L86.3 344.9 L87.2 346.0 L88.2 347.1 L89.2 348.2 L90.3 349.1 L91.5 350.1 L92.7 350.9 L93.9 351.7 L95.2 352.5 L96.5 353.2 L97.8 353.8 L99.2 354.5 L100.7 355.1 L102.2 355.6 L103.7 356.2 L105.3 356.8 L106.8 357.3 L108.0 357.8 L109.3 358.3 L110.6 358.8 L112.0 359.4 L113.4 360.0 L114.8 360.6 L116.2 361.2 L117.7 361.9 L119.1 362.6 L120.6 363.3 L122.1 364.1 L123.7 364.9 L125.2 365.8 L126.8 366.7 L128.4 367.7 L130.0 368.7 L131.6 369.8 L133.2 370.9 L134.8 372.1 L136.5 373.4 L138.1 374.8 L139.8 376.2 L141.5 377.7 L144.5 374.3 L142.8 372.7 L141.1 371.2 L139.5 369.8 L137.8 368.4 L136.2 367.0 L134.5 365.7 L132.9 364.5 L131.3 363.3 L129.7 362.2 L128.2 361.1 L126.6 360.0 L125.1 359.0 L123.6 358.1 L122.1 357.1 L120.6 356.3 L119.1 355.4 L117.7 354.6 L116.2 353.9 L114.8 353.2 L113.4 352.5 L112.0 351.9 L110.6 351.3 L109.2 350.7 L107.7 350.2 L106.3 349.6 L105.0 349.0 L103.9 348.4 L102.8 347.7 L101.8 347.0 L100.8 346.3 L100.0 345.6 L99.2 344.8 L98.5 344.1 L97.9 343.3 L97.3 342.5 L96.8 341.7 L96.4 340.9 L96.0 340.1 L95.7 339.3 L95.4 338.5 L95.1 337.6 L94.8 336.7 L94.6 335.8 L94.3 334.9 L94.1 333.9 L93.9 332.7 Z" fill="#84d272" stroke="#3a8a30" stroke-width="1.1" stroke-linejoin="round"/><path d="M86.2 334.4 L86.5 335.7 L86.9 337.0 L87.3 338.3 L87.8 339.5 L88.3 340.7 L88.9 341.8 L89.6 342.9 L90.3 344.0 L91.1 345.0 L91.9 345.9 L92.8 346.8 L93.7 347.7 L94.7 348.5 L95.8 349.3 L96.9 350.0 L98.0 350.8 L99.2 351.4 L100.5 352.1 L101.8 352.7 L103.2 353.3 L104.6 353.9 L106.1 354.5 L107.6 355.0 L108.9 355.5 L110.2 356.1 L111.6 356.6 L113.0 357.2 L114.4 357.8 L115.8 358.5 L117.2 359.2 L118.7 359.9 L120.2 360.7 L121.7 361.5 L123.2 362.3 L124.7 363.2 L126.2 364.1 L127.8 365.1 L129.4 366.1 L131.0 367.2 L132.6 368.4 L134.2 369.6 L135.9 370.8 L137.5 372.1 L139.2 373.5 L140.9 375.0 L142.5 376.5 L143.5 375.5 L141.8 374.0 L140.1 372.5 L138.4 371.1 L136.8 369.7 L135.1 368.4 L133.5 367.2 L131.9 366.0 L130.3 364.8 L128.7 363.8 L127.1 362.7 L125.6 361.7 L124.1 360.8 L122.5 359.9 L121.0 359.0 L119.6 358.2 L118.1 357.5 L116.6 356.7 L115.2 356.0 L113.8 355.4 L112.4 354.7 L111.1 354.1 L109.7 353.6 L108.4 353.0 L106.8 352.5 L105.4 351.9 L104.0 351.3 L102.8 350.7 L101.5 350.1 L100.4 349.4 L99.3 348.7 L98.3 348.0 L97.3 347.2 L96.5 346.5 L95.6 345.7 L94.9 344.8 L94.2 344.0 L93.5 343.1 L92.9 342.2 L92.4 341.2 L91.9 340.3 L91.4 339.3 L91.0 338.2 L90.7 337.1 L90.3 336.0 L90.0 334.9 L89.8 333.6 Z" fill="#a4ec92" opacity="0.55"/>
<circle cx="131" cy="364" r="2.6" fill="#1a3a18"/>
<path d="M92.5 349.7 L92.2 351.6 L91.9 353.5 L91.6 355.4 L91.2 357.3 L90.8 359.1 L90.5 360.9 L90.1 362.7 L89.7 364.5 L89.3 366.2 L88.9 367.9 L88.6 369.7 L88.2 371.3 L87.9 373.0 L87.7 374.7 L87.4 376.3 L87.3 377.9 L87.2 379.5 L87.2 381.1 L87.2 382.7 L87.3 384.3 L87.5 385.9 L87.9 387.4 L88.6 389.6 L90.1 391.7 L91.2 392.9 L92.5 393.9 L93.8 394.7 L95.2 395.4 L96.7 396.0 L98.1 396.4 L99.6 396.8 L101.1 397.1 L102.7 397.3 L104.2 397.4 L105.8 397.5 L107.3 397.5 L108.9 397.4 L110.4 397.3 L111.9 397.1 L113.5 396.8 L115.0 396.5 L116.4 396.1 L117.9 395.7 L119.3 395.2 L120.7 394.6 L122.6 393.7 L124.1 391.9 L124.6 391.1 L124.9 390.3 L125.2 389.5 L125.5 388.6 L125.6 387.8 L125.8 387.0 L125.8 386.1 L125.8 385.3 L125.8 384.5 L125.8 383.7 L125.7 382.9 L125.6 382.2 L125.4 381.4 L125.3 380.7 L125.1 380.0 L125.0 379.3 L124.8 378.6 L124.6 378.0 L124.4 377.3 L124.3 376.7 L124.1 376.1 L123.9 375.5 L120.1 376.5 L120.2 377.0 L120.2 377.5 L120.2 378.0 L120.2 378.5 L120.2 379.1 L120.1 379.6 L120.0 380.2 L119.9 380.8 L119.7 381.3 L119.6 381.9 L119.4 382.4 L119.2 382.9 L118.9 383.4 L118.7 383.9 L118.4 384.4 L118.2 384.8 L117.9 385.3 L117.6 385.6 L117.4 386.0 L117.1 386.4 L116.9 386.7 L116.6 387.0 L117.4 386.3 L117.2 386.3 L116.3 386.7 L115.3 386.9 L114.3 387.1 L113.2 387.3 L112.1 387.4 L111.0 387.5 L109.9 387.4 L108.8 387.4 L107.7 387.3 L106.6 387.1 L105.5 386.9 L104.5 386.7 L103.5 386.4 L102.6 386.1 L101.8 385.7 L101.1 385.4 L100.5 385.0 L100.0 384.7 L99.6 384.3 L99.3 384.0 L99.1 383.8 L99.4 384.4 L99.4 384.2 L99.1 383.3 L98.8 382.3 L98.5 381.2 L98.2 380.0 L98.0 378.8 L97.7 377.5 L97.5 376.2 L97.3 374.8 L97.1 373.3 L96.9 371.8 L96.8 370.2 L96.7 368.6 L96.6 366.9 L96.6 365.2 L96.6 363.5 L96.6 361.7 L96.6 359.8 L96.7 358.0 L96.9 356.1 L97.0 354.2 L97.2 352.3 L97.5 350.3 Z" fill="#84d272" stroke="#3a8a30" stroke-width="1.1" stroke-linejoin="round"/><path d="M94.3 349.9 L94.0 351.8 L93.7 353.8 L93.4 355.7 L93.2 357.5 L92.9 359.4 L92.6 361.2 L92.3 363.0 L92.1 364.7 L91.9 366.5 L91.6 368.2 L91.4 369.8 L91.3 371.5 L91.1 373.1 L91.0 374.7 L91.0 376.3 L90.9 377.8 L91.0 379.3 L91.0 380.8 L91.2 382.2 L91.3 383.6 L91.6 385.0 L91.9 386.3 L92.4 387.8 L93.2 388.9 L94.1 389.8 L95.0 390.5 L96.0 391.2 L97.1 391.8 L98.2 392.3 L99.4 392.7 L100.7 393.1 L102.0 393.4 L103.3 393.6 L104.7 393.8 L106.0 393.9 L107.4 393.9 L108.8 393.9 L110.2 393.8 L111.6 393.7 L113.0 393.5 L114.4 393.3 L115.7 393.0 L117.0 392.6 L118.2 392.2 L119.4 391.7 L120.8 391.1 L121.5 390.2 L121.9 389.6 L122.2 388.9 L122.5 388.3 L122.7 387.6 L122.9 386.9 L123.1 386.2 L123.2 385.5 L123.3 384.8 L123.4 384.1 L123.5 383.4 L123.5 382.8 L123.5 382.1 L123.4 381.4 L123.4 380.7 L123.3 380.1 L123.3 379.4 L123.2 378.8 L123.1 378.2 L123.0 377.6 L122.8 377.0 L122.7 376.4 L122.6 375.9 L121.4 376.1 L121.5 376.7 L121.6 377.2 L121.7 377.8 L121.8 378.3 L121.8 378.9 L121.8 379.5 L121.8 380.1 L121.8 380.7 L121.7 381.4 L121.7 382.0 L121.6 382.6 L121.5 383.2 L121.3 383.8 L121.2 384.4 L121.0 385.0 L120.8 385.6 L120.6 386.1 L120.4 386.7 L120.1 387.2 L119.9 387.7 L119.6 388.2 L119.3 388.7 L119.2 388.9 L118.4 389.2 L117.3 389.6 L116.2 390.0 L115.0 390.3 L113.8 390.5 L112.6 390.7 L111.3 390.8 L110.1 390.9 L108.8 390.9 L107.5 390.9 L106.3 390.8 L105.0 390.6 L103.8 390.4 L102.7 390.1 L101.6 389.8 L100.5 389.5 L99.6 389.1 L98.6 388.6 L97.8 388.2 L97.1 387.7 L96.5 387.1 L95.9 386.6 L95.6 386.2 L95.4 385.3 L95.1 384.2 L94.8 383.0 L94.6 381.7 L94.4 380.4 L94.2 379.1 L94.1 377.7 L94.0 376.2 L93.9 374.7 L93.9 373.2 L93.9 371.6 L93.9 370.0 L94.0 368.4 L94.1 366.7 L94.2 365.0 L94.3 363.2 L94.4 361.4 L94.6 359.6 L94.8 357.7 L95.0 355.9 L95.2 354.0 L95.5 352.0 L95.7 350.1 Z" fill="#a4ec92" opacity="0.55"/>
<path d="M114.0 368.2 L114.2 369.6 L114.3 370.9 L114.5 372.3 L114.7 373.6 L114.9 374.9 L115.2 376.3 L115.5 377.6 L115.9 378.9 L116.3 380.2 L116.8 381.5 L117.4 382.8 L118.1 384.1 L118.8 385.4 L119.6 386.6 L120.5 387.8 L121.6 388.9 L122.7 390.0 L123.8 391.1 L125.1 392.0 L126.5 393.0 L128.0 393.8 L129.5 394.5 L131.5 395.3 L133.3 395.6 L134.4 395.6 L135.5 395.7 L136.6 395.6 L137.6 395.6 L138.6 395.4 L139.7 395.2 L140.7 395.0 L141.6 394.7 L142.6 394.4 L143.5 394.1 L144.4 393.7 L145.2 393.3 L146.1 392.8 L146.9 392.3 L147.7 391.8 L148.4 391.3 L149.1 390.7 L149.8 390.1 L150.4 389.5 L151.1 388.8 L151.6 388.1 L152.1 387.5 L145.9 382.5 L145.5 382.9 L145.2 383.2 L144.9 383.5 L144.6 383.7 L144.2 383.9 L143.8 384.1 L143.3 384.3 L142.8 384.5 L142.4 384.6 L141.9 384.7 L141.3 384.8 L140.8 384.9 L140.2 384.9 L139.6 385.0 L139.1 385.0 L138.5 385.0 L137.8 385.0 L137.2 384.9 L136.5 384.9 L135.9 384.8 L135.2 384.7 L134.5 384.7 L134.5 384.7 L133.7 384.4 L132.6 384.0 L131.5 383.5 L130.5 383.1 L129.5 382.6 L128.5 382.1 L127.6 381.7 L126.7 381.1 L125.8 380.6 L125.0 380.0 L124.2 379.4 L123.4 378.7 L122.6 378.0 L121.9 377.2 L121.3 376.3 L120.6 375.4 L120.1 374.5 L119.6 373.5 L119.1 372.4 L118.7 371.3 L118.4 370.2 L118.2 369.0 L118.0 367.8 Z" fill="#84d272" stroke="#3a8a30" stroke-width="1.1" stroke-linejoin="round"/><path d="M115.4 368.1 L115.6 369.4 L115.7 370.7 L116.0 371.9 L116.2 373.2 L116.5 374.4 L116.9 375.6 L117.3 376.8 L117.8 378.0 L118.3 379.2 L118.9 380.3 L119.5 381.4 L120.2 382.4 L121.0 383.5 L121.8 384.5 L122.7 385.5 L123.7 386.4 L124.7 387.3 L125.8 388.1 L127.0 388.9 L128.2 389.7 L129.6 390.3 L131.0 391.0 L132.5 391.6 L133.7 391.8 L134.7 391.8 L135.6 391.9 L136.6 391.9 L137.5 391.8 L138.4 391.8 L139.2 391.6 L140.1 391.5 L140.9 391.3 L141.8 391.1 L142.5 390.9 L143.3 390.6 L144.1 390.3 L144.8 389.9 L145.5 389.6 L146.1 389.2 L146.8 388.8 L147.4 388.3 L148.0 387.9 L148.5 387.4 L149.0 386.8 L149.5 386.3 L149.9 385.7 L148.1 384.3 L147.7 384.7 L147.3 385.2 L146.8 385.6 L146.4 385.9 L145.9 386.3 L145.4 386.6 L144.8 386.9 L144.3 387.2 L143.7 387.5 L143.0 387.7 L142.4 387.9 L141.7 388.1 L141.0 388.3 L140.3 388.4 L139.6 388.5 L138.9 388.6 L138.1 388.6 L137.3 388.6 L136.5 388.6 L135.7 388.6 L134.9 388.6 L134.1 388.5 L133.5 388.4 L132.2 387.9 L131.0 387.4 L129.7 386.8 L128.6 386.2 L127.5 385.6 L126.5 384.9 L125.5 384.2 L124.5 383.5 L123.7 382.7 L122.8 381.9 L122.0 381.0 L121.3 380.1 L120.6 379.2 L120.0 378.2 L119.4 377.2 L118.8 376.2 L118.4 375.1 L117.9 374.0 L117.6 372.8 L117.2 371.7 L117.0 370.5 L116.8 369.2 L116.6 367.9 Z" fill="#a4ec92" opacity="0.55"/>
<path d="M151 360 C156 356 163 359 165 366 L165 378 C160 370 155 366 151 360Z" fill="#111"/>
<path d="M153.4 388.0 L152.9 385.9 L152.5 383.8 L152.1 381.8 L151.7 379.8 L151.4 377.8 L151.2 376.0 L151.0 374.2 L150.8 372.4 L150.8 370.7 L150.8 369.1 L150.8 367.6 L150.9 366.2 L151.1 364.9 L151.3 363.7 L151.6 362.6 L151.9 361.6 L152.3 360.8 L152.7 360.0 L153.2 359.4 L153.7 358.9 L154.3 358.5 L154.9 358.2 L155.5 358.0 L155.9 358.0 L156.4 358.0 L156.8 358.2 L157.3 358.4 L157.7 358.7 L158.2 359.2 L158.6 359.8 L159.1 360.5 L159.5 361.4 L160.0 362.4 L160.3 363.5 L160.7 364.7 L161.0 366.0 L161.2 367.4 L161.4 369.0 L161.5 370.6 L161.6 372.2 L161.6 374.0 L161.5 375.7 L161.4 377.6 L161.2 379.5 L160.9 381.4 L160.5 383.4 L167.5 384.6 L167.8 382.5 L168.1 380.3 L168.3 378.1 L168.4 376.1 L168.4 374.0 L168.4 372.0 L168.3 370.1 L168.1 368.2 L167.8 366.4 L167.4 364.6 L167.0 363.0 L166.5 361.4 L165.9 359.9 L165.2 358.5 L164.4 357.2 L163.6 356.0 L162.6 354.9 L161.5 354.0 L160.3 353.1 L159.0 352.5 L157.6 352.1 L156.1 352.0 L154.5 352.0 L152.8 352.5 L151.4 353.1 L150.0 354.0 L148.8 354.9 L147.7 356.1 L146.8 357.3 L145.9 358.6 L145.2 360.1 L144.6 361.6 L144.0 363.3 L143.6 365.0 L143.2 366.7 L143.0 368.6 L142.8 370.5 L142.7 372.5 L142.7 374.5 L142.7 376.6 L142.8 378.8 L143.0 381.0 L143.3 383.2 L143.7 385.4 L144.1 387.7 L144.6 390.0 Z" fill="#84d272" stroke="#3a8a30" stroke-width="1.1" stroke-linejoin="round"/><path d="M150.3 388.7 L149.8 386.5 L149.4 384.4 L149.0 382.3 L148.7 380.2 L148.4 378.2 L148.2 376.2 L148.1 374.3 L148.0 372.4 L148.0 370.7 L148.0 368.9 L148.2 367.3 L148.3 365.8 L148.6 364.3 L148.9 363.0 L149.3 361.7 L149.8 360.6 L150.4 359.5 L151.0 358.6 L151.7 357.8 L152.4 357.2 L153.3 356.6 L154.2 356.2 L155.2 355.9 L156.0 355.9 L156.8 356.0 L157.6 356.2 L158.3 356.6 L159.0 357.1 L159.7 357.7 L160.4 358.5 L161.0 359.3 L161.5 360.4 L162.0 361.5 L162.5 362.7 L162.9 364.1 L163.2 365.5 L163.5 367.1 L163.7 368.7 L163.9 370.4 L163.9 372.1 L164.0 374.0 L163.9 375.9 L163.8 377.8 L163.6 379.8 L163.3 381.8 L163.0 383.8 L165.0 384.2 L165.4 382.1 L165.7 380.0 L165.9 378.0 L166.0 375.9 L166.0 374.0 L166.0 372.1 L165.9 370.2 L165.7 368.5 L165.5 366.8 L165.2 365.1 L164.8 363.6 L164.3 362.1 L163.8 360.8 L163.2 359.5 L162.6 358.4 L161.8 357.3 L161.1 356.4 L160.2 355.6 L159.3 355.0 L158.2 354.5 L157.2 354.2 L156.1 354.1 L154.8 354.1 L153.6 354.5 L152.4 355.0 L151.3 355.7 L150.4 356.5 L149.5 357.4 L148.7 358.5 L148.0 359.7 L147.4 361.0 L146.9 362.4 L146.5 363.8 L146.2 365.4 L145.9 367.1 L145.7 368.8 L145.6 370.6 L145.5 372.5 L145.6 374.4 L145.7 376.4 L145.8 378.4 L146.1 380.5 L146.4 382.7 L146.8 384.9 L147.2 387.1 L147.7 389.3 Z" fill="#a4ec92" opacity="0.55"/>
<path d="M161.3 387.5 L162.3 388.1 L163.3 388.8 L164.3 389.4 L165.3 389.9 L166.4 390.4 L167.4 390.9 L168.4 391.3 L169.5 391.6 L170.6 391.9 L171.6 392.1 L172.7 392.3 L173.8 392.4 L174.9 392.5 L176.0 392.4 L177.0 392.4 L178.1 392.2 L179.2 392.0 L180.2 391.7 L181.3 391.3 L182.3 390.9 L183.3 390.5 L184.3 389.9 L185.1 389.4 L180.9 382.6 L180.2 383.1 L179.5 383.4 L178.9 383.8 L178.3 384.1 L177.7 384.4 L177.1 384.6 L176.4 384.8 L175.8 385.0 L175.2 385.2 L174.5 385.3 L173.8 385.4 L173.2 385.4 L172.5 385.4 L171.8 385.3 L171.0 385.3 L170.3 385.1 L169.5 384.9 L168.7 384.7 L168.0 384.4 L167.2 384.0 L166.4 383.6 L165.6 383.1 L164.7 382.5 Z" fill="#84d272" stroke="#3a8a30" stroke-width="1.1" stroke-linejoin="round"/><path d="M162.5 385.7 L163.4 386.4 L164.4 387.0 L165.3 387.5 L166.3 388.0 L167.2 388.4 L168.1 388.8 L169.1 389.1 L170.0 389.4 L171.0 389.6 L171.9 389.8 L172.9 389.9 L173.8 389.9 L174.7 389.9 L175.7 389.9 L176.6 389.8 L177.5 389.6 L178.4 389.4 L179.3 389.1 L180.2 388.8 L181.1 388.4 L182.0 388.0 L182.8 387.5 L183.6 387.0 L182.4 385.0 L181.6 385.5 L180.9 385.9 L180.1 386.3 L179.3 386.6 L178.6 386.9 L177.8 387.2 L177.0 387.4 L176.2 387.6 L175.4 387.7 L174.6 387.8 L173.8 387.8 L173.0 387.8 L172.2 387.8 L171.3 387.6 L170.5 387.5 L169.6 387.3 L168.8 387.0 L167.9 386.7 L167.0 386.3 L166.2 385.9 L165.3 385.4 L164.4 384.9 L163.5 384.3 Z" fill="#a4ec92" opacity="0.55"/>
<path d="M186 360 C191 356 198 359 200 366 L200 378 C195 370 190 366 186 360Z" fill="#111"/>
<path d="M187.4 387.3 L187.1 385.0 L186.8 382.8 L186.5 380.7 L186.3 378.6 L186.1 376.6 L186.0 374.7 L185.9 372.8 L185.8 371.0 L185.9 369.3 L186.0 367.6 L186.1 366.1 L186.3 364.7 L186.5 363.4 L186.8 362.2 L187.2 361.1 L187.6 360.2 L188.0 359.4 L188.4 358.7 L188.9 358.1 L189.4 357.7 L190.0 357.4 L190.6 357.1 L191.2 357.0 L191.6 357.1 L192.2 357.2 L192.7 357.4 L193.1 357.7 L193.5 358.2 L193.9 358.7 L194.3 359.4 L194.7 360.2 L195.0 361.2 L195.2 362.3 L195.4 363.5 L195.6 364.8 L195.7 366.2 L195.7 367.7 L195.6 369.3 L195.5 370.9 L195.3 372.5 L195.0 374.2 L194.7 375.9 L194.3 377.7 L193.8 379.4 L193.3 381.1 L192.7 382.9 L199.3 385.1 L200.0 383.2 L200.5 381.2 L201.0 379.3 L201.4 377.3 L201.8 375.3 L202.0 373.4 L202.2 371.5 L202.3 369.6 L202.3 367.7 L202.2 365.9 L202.1 364.2 L201.8 362.5 L201.5 360.9 L201.0 359.3 L200.5 357.9 L199.8 356.5 L199.0 355.2 L198.0 354.0 L196.9 353.0 L195.6 352.1 L194.2 351.5 L192.6 351.1 L190.8 351.0 L189.1 351.3 L187.6 351.8 L186.2 352.5 L184.9 353.3 L183.8 354.4 L182.7 355.5 L181.8 356.8 L181.0 358.2 L180.2 359.7 L179.6 361.3 L179.1 363.0 L178.6 364.8 L178.2 366.6 L177.9 368.6 L177.7 370.6 L177.5 372.6 L177.5 374.8 L177.5 377.0 L177.5 379.3 L177.7 381.6 L177.9 383.9 L178.2 386.3 L178.6 388.7 Z" fill="#84d272" stroke="#3a8a30" stroke-width="1.1" stroke-linejoin="round"/><path d="M184.3 387.8 L184.0 385.5 L183.7 383.2 L183.4 381.0 L183.2 378.8 L183.1 376.7 L183.0 374.7 L183.0 372.7 L183.0 370.8 L183.1 369.0 L183.2 367.3 L183.5 365.6 L183.8 364.1 L184.1 362.6 L184.5 361.3 L185.0 360.1 L185.5 359.0 L186.1 358.0 L186.8 357.2 L187.5 356.5 L188.3 355.9 L189.2 355.4 L190.1 355.1 L191.0 354.9 L192.0 355.0 L192.9 355.2 L193.7 355.6 L194.4 356.1 L195.1 356.7 L195.7 357.5 L196.2 358.4 L196.7 359.4 L197.1 360.6 L197.4 361.8 L197.7 363.2 L197.9 364.6 L198.0 366.1 L198.0 367.7 L197.9 369.4 L197.8 371.1 L197.6 372.8 L197.4 374.6 L197.0 376.4 L196.6 378.2 L196.2 380.0 L195.6 381.8 L195.0 383.7 L197.0 384.3 L197.6 382.5 L198.2 380.6 L198.7 378.7 L199.1 376.8 L199.4 374.9 L199.7 373.1 L199.9 371.3 L200.0 369.5 L200.0 367.7 L199.9 366.0 L199.8 364.4 L199.6 362.9 L199.3 361.4 L198.9 360.0 L198.4 358.7 L197.9 357.5 L197.2 356.4 L196.4 355.5 L195.5 354.6 L194.6 354.0 L193.5 353.5 L192.3 353.2 L191.0 353.1 L189.6 353.3 L188.5 353.7 L187.3 354.3 L186.3 355.0 L185.4 355.9 L184.6 356.9 L183.8 358.0 L183.1 359.2 L182.5 360.6 L182.0 362.0 L181.6 363.6 L181.2 365.2 L180.9 367.0 L180.7 368.8 L180.5 370.7 L180.5 372.7 L180.4 374.7 L180.5 376.9 L180.6 379.0 L180.8 381.3 L181.0 383.5 L181.3 385.9 L181.7 388.2 Z" fill="#a4ec92" opacity="0.55"/>
<path d="M196 384 C182 392 168 400 160 417" fill="none" stroke="#3a8a30" stroke-width="5.6" stroke-linecap="round" stroke-linejoin="round"/><path d="M196 384 C182 392 168 400 160 417" fill="none" stroke="#84d272" stroke-width="4" stroke-linecap="round" stroke-linejoin="round"/><path d="M196 384 C182 392 168 400 160 417" fill="none" stroke="#a4ec92" stroke-width="1.4" stroke-linecap="round" stroke-linejoin="round" opacity="0.7"/>
<path d="M121 402 L129 405 L137 400 L142 394" fill="none" stroke="#a87410" stroke-width="5.0" stroke-linecap="round" stroke-linejoin="round"/><path d="M121 402 L129 405 L137 400 L142 394" fill="none" stroke="#f2b322" stroke-width="3.8" stroke-linecap="round" stroke-linejoin="round"/>
<path d="M121 402 L116 399" stroke="#444" stroke-width="4.4" stroke-linecap="round"/><path d="M121 402 L116 399" stroke="#1010e0" stroke-width="3.5" stroke-linecap="round"/>
<path d="M116 399 L112 401" stroke="#999" stroke-width="3.9" stroke-linecap="round"/><path d="M116 399 L112 401" stroke="#f4f4f4" stroke-width="3.0" stroke-linecap="round"/>
<path d="M116 399 L117 395" stroke="#999" stroke-width="3.9" stroke-linecap="round"/><path d="M116 399 L117 395" stroke="#f4f4f4" stroke-width="3.0" stroke-linecap="round"/>
<path d="M129 405 L127 410" stroke="#444" stroke-width="4.65" stroke-linecap="round"/><path d="M129 405 L127 410" stroke="#e80000" stroke-width="3.75" stroke-linecap="round"/>
<path d="M137 400 L142 403" stroke="#999" stroke-width="3.9" stroke-linecap="round"/><path d="M137 400 L142 403" stroke="#f4f4f4" stroke-width="3.0" stroke-linecap="round"/>
<path d="M137 400 L136 394" stroke="#999" stroke-width="3.9" stroke-linecap="round"/><path d="M137 400 L136 394" stroke="#f4f4f4" stroke-width="3.0" stroke-linecap="round"/>
<path d="M142 394 L147 390" stroke="#444" stroke-width="4.15" stroke-linecap="round"/><path d="M142 394 L147 390" stroke="#222" stroke-width="3.25" stroke-linecap="round"/>
<path d="M149 388 L156 386" stroke="#444" stroke-width="4.65" stroke-linecap="round"/><path d="M149 388 L156 386" stroke="#e80000" stroke-width="3.75" stroke-linecap="round"/>
<path d="M188 384 L191 392 L195 402 L202 398 L206 394" fill="none" stroke="#a87410" stroke-width="5.0" stroke-linecap="round" stroke-linejoin="round"/><path d="M188 384 L191 392 L195 402 L202 398 L206 394" fill="none" stroke="#f2b322" stroke-width="3.8" stroke-linecap="round" stroke-linejoin="round"/>
<path d="M206 394 L209 392" stroke="#444" stroke-width="4.4" stroke-linecap="round"/><path d="M206 394 L209 392" stroke="#1010e0" stroke-width="3.5" stroke-linecap="round"/>
<path d="M209 392 L213 391" stroke="#999" stroke-width="3.9" stroke-linecap="round"/><path d="M209 392 L213 391" stroke="#f4f4f4" stroke-width="3.0" stroke-linecap="round"/>
<path d="M209 392 L209 387" stroke="#999" stroke-width="3.9" stroke-linecap="round"/><path d="M209 392 L209 387" stroke="#f4f4f4" stroke-width="3.0" stroke-linecap="round"/>
<path d="M195 402 L192 407" stroke="#999" stroke-width="3.9" stroke-linecap="round"/><path d="M195 402 L192 407" stroke="#f4f4f4" stroke-width="3.0" stroke-linecap="round"/>
<path d="M202 398 L204 404" stroke="#999" stroke-width="3.9" stroke-linecap="round"/><path d="M202 398 L204 404" stroke="#f4f4f4" stroke-width="3.0" stroke-linecap="round"/>
<path d="M191 392 L186 395" stroke="#999" stroke-width="3.9" stroke-linecap="round"/><path d="M191 392 L186 395" stroke="#f4f4f4" stroke-width="3.0" stroke-linecap="round"/>
<path d="M188 384 L192 380 L196 377" fill="none" stroke="#a87410" stroke-width="4.6" stroke-linecap="round" stroke-linejoin="round"/><path d="M188 384 L192 380 L196 377" fill="none" stroke="#f2b322" stroke-width="3.4" stroke-linecap="round" stroke-linejoin="round"/>
<path d="M196 377 L200 375" stroke="#444" stroke-width="4.65" stroke-linecap="round"/><path d="M196 377 L200 375" stroke="#e80000" stroke-width="3.75" stroke-linecap="round"/>
<path d="M140 420 L147 424 L160 424 L166 428 L173 423 L187 423 L196 428 L187 433 L173 433 L166 428" fill="none" stroke="#a87410" stroke-width="5.4" stroke-linecap="round" stroke-linejoin="round"/><path d="M140 420 L147 424 L160 424 L166 428 L173 423 L187 423 L196 428 L187 433 L173 433 L166 428" fill="none" stroke="#f2b322" stroke-width="4.2" stroke-linecap="round" stroke-linejoin="round"/>
<path d="M140 420 L135 418" stroke="#444" stroke-width="4.65" stroke-linecap="round"/><path d="M140 420 L135 418" stroke="#e80000" stroke-width="3.75" stroke-linecap="round"/>
<path d="M147 424 L144 430" stroke="#999" stroke-width="3.9" stroke-linecap="round"/><path d="M147 424 L144 430" stroke="#f4f4f4" stroke-width="3.0" stroke-linecap="round"/>
<path d="M194 428 L200 428" stroke="#999" stroke-width="3.9" stroke-linecap="round"/><path d="M194 428 L200 428" stroke="#f4f4f4" stroke-width="3.0" stroke-linecap="round"/>
<path d="M186 432 L190 436" stroke="#999" stroke-width="3.65" stroke-linecap="round"/><path d="M186 432 L190 436" stroke="#f4f4f4" stroke-width="2.75" stroke-linecap="round"/>
<path d="M172 432 L170 437" stroke="#999" stroke-width="3.65" stroke-linecap="round"/><path d="M172 432 L170 437" stroke="#f4f4f4" stroke-width="2.75" stroke-linecap="round"/>
<path d="M160 424 L161 417" stroke="#999" stroke-width="3.9" stroke-linecap="round"/><path d="M160 424 L161 417" stroke="#f4f4f4" stroke-width="3.0" stroke-linecap="round"/>
</g>
<g clip-path="url(#cp2)" filter="url(#bl05)">
<path d="M374 314 C360 313 345 315 328 322" fill="none" stroke="#3a8a30" stroke-width="6.0" stroke-linecap="round" stroke-linejoin="round"/><path d="M374 314 C360 313 345 315 328 322" fill="none" stroke="#84d272" stroke-width="4.4" stroke-linecap="round" stroke-linejoin="round"/><path d="M374 314 C360 313 345 315 328 322" fill="none" stroke="#a4ec92" stroke-width="1.5" stroke-linecap="round" stroke-linejoin="round" opacity="0.7"/>
<path d="M328.4 319.0 L326.9 320.3 L325.3 321.6 L323.8 322.9 L322.3 324.3 L320.9 325.8 L319.6 327.3 L318.3 328.8 L317.1 330.4 L316.0 332.1 L315.0 333.8 L314.1 335.6 L313.3 337.4 L312.6 339.3 L312.0 341.2 L311.5 343.2 L311.2 345.2 L311.1 347.2 L311.1 349.3 L311.3 351.3 L311.6 353.4 L312.2 355.4 L312.9 357.4 L314.3 360.1 L316.8 362.4 L318.7 363.5 L320.7 364.3 L322.6 364.8 L324.5 365.1 L326.4 365.3 L328.3 365.3 L330.2 365.2 L332.1 365.1 L334.0 364.9 L335.9 364.6 L337.7 364.3 L339.6 364.0 L341.5 363.6 L343.3 363.3 L345.1 362.9 L346.9 362.6 L348.6 362.3 L350.3 362.0 L351.9 361.8 L353.4 361.6 L354.7 361.5 L354.8 361.4 L353.9 361.1 L354.1 361.2 L354.2 361.2 L354.3 361.2 L354.4 361.2 L354.5 361.2 L354.6 361.4 L354.8 361.7 L354.8 362.1 L354.8 362.6 L354.7 363.2 L354.5 363.9 L354.1 364.7 L353.6 365.5 L353.0 366.3 L352.3 367.1 L351.4 367.8 L350.4 368.6 L349.2 369.2 L348.0 369.8 L346.6 370.3 L345.2 370.7 L343.5 371.0 L341.7 371.3 L339.8 371.7 L338.0 372.0 L336.2 372.5 L334.5 372.9 L332.9 373.5 L331.3 374.1 L329.7 374.7 L328.2 375.5 L326.8 376.3 L325.4 377.3 L324.1 378.3 L322.9 379.5 L321.8 380.8 L320.9 382.2 L320.1 383.8 L319.4 385.4 L319.0 387.2 L318.8 389.0 L318.7 390.9 L318.9 392.7 L319.3 394.6 L320.2 397.0 L321.9 399.4 L323.6 401.1 L325.5 402.5 L327.5 403.6 L329.6 404.4 L331.8 405.0 L333.9 405.4 L336.1 405.6 L338.3 405.7 L340.5 405.7 L342.8 405.6 L345.1 405.4 L347.4 405.2 L349.8 404.9 L352.2 404.7 L354.6 404.4 L357.0 404.1 L359.5 403.8 L362.0 403.5 L364.5 403.3 L367.0 403.1 L369.5 403.0 L372.1 403.0 L371.9 393.0 L369.3 393.0 L366.6 393.1 L363.9 393.2 L361.3 393.3 L358.7 393.5 L356.2 393.6 L353.7 393.7 L351.3 393.9 L349.0 393.9 L346.7 394.0 L344.6 394.0 L342.6 394.0 L340.7 393.9 L339.0 393.7 L337.4 393.5 L336.0 393.2 L334.9 392.9 L333.9 392.5 L333.1 392.2 L332.6 391.8 L332.2 391.4 L331.9 391.1 L331.8 391.0 L331.7 390.8 L331.5 390.2 L331.3 389.5 L331.2 389.0 L331.1 388.4 L331.0 387.9 L331.0 387.3 L331.0 386.7 L331.1 386.1 L331.3 385.4 L331.5 384.6 L331.9 383.8 L332.5 383.1 L333.1 382.3 L333.9 381.5 L334.8 380.7 L335.9 380.0 L337.0 379.3 L338.3 378.7 L339.7 378.1 L341.2 377.6 L342.8 377.3 L344.5 377.0 L346.4 376.6 L348.3 376.2 L350.1 375.7 L351.9 375.1 L353.5 374.4 L355.1 373.6 L356.5 372.7 L357.9 371.8 L359.2 370.8 L360.3 369.7 L361.4 368.6 L362.3 367.3 L363.2 366.0 L363.8 364.5 L364.3 363.0 L364.5 361.3 L364.5 359.6 L364.2 357.9 L363.6 356.2 L362.7 354.6 L361.5 353.2 L360.1 352.0 L357.2 350.6 L354.3 350.5 L352.6 350.6 L350.8 350.7 L349.0 350.9 L347.2 351.0 L345.3 351.2 L343.5 351.4 L341.7 351.6 L339.9 351.7 L338.1 351.9 L336.3 352.0 L334.6 352.1 L333.0 352.1 L331.4 352.1 L330.0 352.1 L328.7 352.0 L327.6 351.8 L326.6 351.7 L325.8 351.4 L325.3 351.2 L325.0 351.1 L324.9 351.0 L325.7 351.9 L325.6 351.7 L325.1 350.7 L324.7 349.6 L324.3 348.6 L323.9 347.5 L323.5 346.3 L323.2 345.1 L323.0 343.8 L322.9 342.5 L322.8 341.1 L322.8 339.7 L322.9 338.3 L323.1 336.8 L323.4 335.4 L323.8 333.9 L324.3 332.4 L325.0 330.9 L325.8 329.5 L326.7 328.0 L327.7 326.7 L328.8 325.4 L330.1 324.1 L331.6 323.0 Z" fill="#84d272" stroke="#3a8a30" stroke-width="1.1" stroke-linejoin="round"/><path d="M329.5 320.4 L328.0 321.6 L326.5 322.9 L325.1 324.2 L323.8 325.6 L322.6 327.1 L321.5 328.5 L320.4 330.1 L319.5 331.6 L318.6 333.2 L317.8 334.9 L317.2 336.5 L316.6 338.2 L316.2 339.9 L315.8 341.7 L315.6 343.4 L315.4 345.1 L315.4 346.9 L315.6 348.6 L315.8 350.4 L316.2 352.1 L316.7 353.8 L317.4 355.4 L318.3 357.2 L319.6 358.4 L320.9 359.2 L322.3 359.7 L323.7 360.1 L325.2 360.4 L326.8 360.6 L328.4 360.7 L330.1 360.6 L331.9 360.6 L333.6 360.4 L335.4 360.2 L337.2 360.0 L339.1 359.7 L340.9 359.5 L342.8 359.2 L344.6 358.9 L346.4 358.6 L348.1 358.4 L349.8 358.1 L351.5 357.9 L353.1 357.8 L354.6 357.7 L355.6 357.6 L356.0 357.9 L356.7 358.4 L357.2 358.9 L357.5 359.5 L357.8 360.0 L358.0 360.7 L358.1 361.4 L358.1 362.1 L358.0 362.9 L357.7 363.8 L357.4 364.6 L356.9 365.5 L356.3 366.4 L355.6 367.3 L354.7 368.2 L353.8 369.0 L352.7 369.8 L351.5 370.6 L350.2 371.3 L348.7 371.9 L347.2 372.4 L345.6 372.8 L343.8 373.1 L342.0 373.4 L340.3 373.8 L338.6 374.2 L337.0 374.6 L335.4 375.2 L333.9 375.7 L332.5 376.4 L331.2 377.1 L329.9 377.8 L328.8 378.7 L327.7 379.6 L326.7 380.5 L325.8 381.5 L325.1 382.6 L324.4 383.8 L323.9 385.0 L323.5 386.3 L323.2 387.6 L323.1 389.0 L323.1 390.4 L323.3 391.8 L323.7 393.3 L324.3 394.9 L325.4 396.5 L326.6 397.7 L328.0 398.8 L329.5 399.6 L331.1 400.3 L332.8 400.8 L334.7 401.1 L336.6 401.4 L338.5 401.5 L340.6 401.5 L342.7 401.5 L344.9 401.4 L347.2 401.3 L349.5 401.1 L351.9 400.9 L354.3 400.6 L356.7 400.4 L359.2 400.2 L361.7 400.0 L364.3 399.8 L366.9 399.6 L369.4 399.5 L372.0 399.5 L372.0 396.5 L369.4 396.5 L366.7 396.6 L364.1 396.7 L361.5 396.9 L359.0 397.1 L356.5 397.3 L354.0 397.5 L351.6 397.6 L349.2 397.8 L347.0 397.9 L344.8 398.0 L342.7 398.0 L340.6 398.0 L338.7 397.9 L337.0 397.7 L335.3 397.5 L333.8 397.1 L332.4 396.7 L331.2 396.2 L330.1 395.5 L329.2 394.8 L328.4 394.0 L327.7 393.1 L327.4 392.1 L327.1 391.1 L326.9 390.0 L326.8 389.0 L326.8 388.0 L326.9 387.0 L327.1 386.1 L327.4 385.1 L327.8 384.2 L328.3 383.3 L329.0 382.4 L329.7 381.5 L330.5 380.7 L331.4 379.9 L332.5 379.1 L333.6 378.4 L334.8 377.7 L336.2 377.1 L337.6 376.5 L339.1 376.0 L340.7 375.6 L342.4 375.2 L344.2 374.9 L346.0 374.6 L347.7 374.1 L349.4 373.6 L350.9 373.0 L352.4 372.3 L353.8 371.6 L355.0 370.8 L356.2 369.9 L357.2 368.9 L358.2 368.0 L359.0 366.9 L359.7 365.9 L360.2 364.8 L360.7 363.7 L360.9 362.5 L361.1 361.4 L361.0 360.2 L360.8 359.1 L360.3 358.0 L359.7 356.9 L358.9 356.0 L357.9 355.2 L356.4 354.4 L354.5 354.4 L352.8 354.5 L351.2 354.6 L349.5 354.8 L347.7 355.0 L345.9 355.2 L344.1 355.4 L342.3 355.7 L340.4 355.9 L338.6 356.1 L336.8 356.3 L335.0 356.5 L333.3 356.6 L331.7 356.7 L330.1 356.7 L328.6 356.7 L327.2 356.5 L325.9 356.4 L324.7 356.1 L323.7 355.8 L322.8 355.4 L322.1 355.0 L321.7 354.8 L321.2 353.7 L320.6 352.3 L320.1 350.9 L319.7 349.5 L319.4 348.1 L319.2 346.6 L319.0 345.1 L319.0 343.6 L319.1 342.0 L319.2 340.5 L319.5 338.9 L319.8 337.3 L320.3 335.8 L320.8 334.2 L321.5 332.7 L322.2 331.1 L323.1 329.6 L324.1 328.2 L325.1 326.7 L326.3 325.4 L327.6 324.0 L329.0 322.8 L330.5 321.6 Z" fill="#a4ec92" opacity="0.55"/>
<path d="M334 357 C338 355 342 355 344 358 C341 361 338 362 335 361 Z" fill="#1a3a16"/>
<path d="M362 366 C358 372 350 374 344 374" fill="none" stroke="#3a8a30" stroke-width="11.6" stroke-linecap="round" stroke-linejoin="round"/><path d="M362 366 C358 372 350 374 344 374" fill="none" stroke="#6cbc5c" stroke-width="10" stroke-linecap="round" stroke-linejoin="round"/><path d="M362 366 C358 372 350 374 344 374" fill="none" stroke="#a4ec92" stroke-width="3.5" stroke-linecap="round" stroke-linejoin="round" opacity="0.7"/>
<path d="M420 320 C432 320 444 322 449 330 C451 338 448 346 453 354" fill="none" stroke="#3a8a30" stroke-width="6.0" stroke-linecap="round" stroke-linejoin="round"/><path d="M420 320 C432 320 444 322 449 330 C451 338 448 346 453 354" fill="none" stroke="#84d272" stroke-width="4.4" stroke-linecap="round" stroke-linejoin="round"/><path d="M420 320 C432 320 444 322 449 330 C451 338 448 346 453 354" fill="none" stroke="#a4ec92" stroke-width="1.5" stroke-linecap="round" stroke-linejoin="round" opacity="0.7"/>
<path d="M369.1 311.5 L370.0 313.3 L371.2 315.2 L372.4 316.9 L373.8 318.6 L375.3 320.1 L376.9 321.4 L378.5 322.7 L380.3 323.8 L382.0 324.8 L383.8 325.6 L385.7 326.4 L387.6 327.0 L389.5 327.5 L391.5 327.9 L393.4 328.2 L395.4 328.4 L397.3 328.5 L399.3 328.6 L401.3 328.5 L403.2 328.3 L405.2 328.1 L407.1 327.8 L409.0 327.4 L410.1 327.1 L411.0 326.8 L411.8 326.5 L412.6 326.2 L413.4 325.9 L414.2 325.6 L414.9 325.3 L415.7 325.0 L416.4 324.7 L417.2 324.4 L417.9 324.0 L418.6 323.7 L419.3 323.4 L420.1 323.1 L420.8 322.8 L421.5 322.4 L422.2 322.1 L423.0 321.8 L423.7 321.5 L424.5 321.2 L425.2 320.9 L426.0 320.6 L426.8 320.4 L425.2 315.6 L424.4 315.9 L423.7 316.1 L422.9 316.3 L422.2 316.4 L421.4 316.5 L420.7 316.7 L419.9 316.8 L419.2 316.9 L418.4 316.9 L417.6 317.0 L416.9 317.1 L416.1 317.1 L415.3 317.2 L414.5 317.3 L413.7 317.4 L412.9 317.5 L412.1 317.6 L411.2 317.7 L410.4 317.8 L409.5 318.0 L408.6 318.2 L407.7 318.4 L407.0 318.6 L405.5 318.9 L404.0 319.1 L402.4 319.3 L400.9 319.3 L399.4 319.3 L397.9 319.2 L396.4 319.0 L394.9 318.8 L393.5 318.5 L392.1 318.1 L390.8 317.6 L389.5 317.0 L388.2 316.4 L387.0 315.7 L385.9 315.0 L384.8 314.2 L383.8 313.3 L382.8 312.4 L381.9 311.4 L381.1 310.3 L380.3 309.2 L379.6 308.0 L378.9 306.5 Z" fill="#84d272" stroke="#3a8a30" stroke-width="1.1" stroke-linejoin="round"/><path d="M372.5 309.7 L373.4 311.4 L374.4 313.1 L375.5 314.6 L376.7 316.1 L377.9 317.4 L379.3 318.6 L380.7 319.7 L382.2 320.7 L383.8 321.6 L385.4 322.4 L387.0 323.1 L388.7 323.7 L390.4 324.2 L392.2 324.6 L393.9 324.9 L395.7 325.1 L397.5 325.3 L399.3 325.3 L401.1 325.3 L403.0 325.2 L404.7 325.0 L406.5 324.7 L408.3 324.3 L409.3 324.0 L410.1 323.8 L411.0 323.5 L411.8 323.3 L412.6 323.1 L413.4 322.8 L414.2 322.6 L415.0 322.3 L415.8 322.1 L416.5 321.9 L417.3 321.6 L418.0 321.4 L418.7 321.2 L419.5 320.9 L420.2 320.7 L421.0 320.5 L421.7 320.2 L422.4 320.0 L423.2 319.7 L423.9 319.5 L424.7 319.2 L425.5 319.0 L426.2 318.7 L425.8 317.3 L425.0 317.5 L424.2 317.8 L423.5 318.0 L422.7 318.2 L422.0 318.4 L421.2 318.6 L420.5 318.8 L419.7 318.9 L419.0 319.1 L418.2 319.2 L417.5 319.4 L416.7 319.6 L416.0 319.7 L415.2 319.9 L414.4 320.0 L413.6 320.2 L412.8 320.4 L412.0 320.6 L411.1 320.8 L410.3 321.0 L409.4 321.2 L408.5 321.4 L407.7 321.7 L406.1 322.0 L404.4 322.3 L402.7 322.5 L401.0 322.5 L399.4 322.6 L397.7 322.5 L396.0 322.3 L394.4 322.1 L392.8 321.8 L391.2 321.4 L389.7 320.9 L388.1 320.3 L386.7 319.6 L385.3 318.9 L383.9 318.1 L382.6 317.2 L381.4 316.2 L380.2 315.1 L379.1 313.9 L378.1 312.6 L377.1 311.3 L376.3 309.8 L375.5 308.3 Z" fill="#a4ec92" opacity="0.55"/>
<path d="M386 288 C390 288 393 294 392 304 C390 300 386 296 384 292 Z" fill="#111"/>
<path d="M378.0 308.4 L377.3 306.9 L376.7 305.5 L376.2 304.1 L375.7 302.7 L375.3 301.3 L374.9 299.9 L374.6 298.6 L374.4 297.3 L374.2 296.0 L374.1 294.8 L374.1 293.7 L374.2 292.6 L374.3 291.5 L374.5 290.6 L374.7 289.7 L375.1 288.9 L375.5 288.1 L376.0 287.5 L376.6 286.9 L377.3 286.4 L378.2 286.0 L379.2 285.7 L380.4 285.5 L381.3 285.4 L382.2 285.4 L382.9 285.5 L383.6 285.6 L384.2 285.8 L384.7 286.0 L385.2 286.3 L385.7 286.6 L386.1 287.0 L386.6 287.5 L386.9 288.0 L387.3 288.7 L387.6 289.5 L387.9 290.3 L388.2 291.3 L388.3 292.3 L388.4 293.4 L388.5 294.6 L388.4 295.8 L388.3 297.2 L388.2 298.5 L387.9 299.9 L387.6 301.4 L392.4 302.6 L392.8 301.0 L393.1 299.4 L393.4 297.8 L393.6 296.3 L393.7 294.8 L393.8 293.3 L393.8 291.9 L393.7 290.5 L393.5 289.1 L393.2 287.8 L392.8 286.5 L392.4 285.3 L391.8 284.1 L391.0 283.0 L390.2 282.0 L389.2 281.1 L388.1 280.3 L386.9 279.6 L385.6 279.1 L384.2 278.7 L382.7 278.5 L381.2 278.4 L379.6 278.5 L377.8 278.8 L376.0 279.2 L374.3 279.8 L372.7 280.5 L371.1 281.5 L369.7 282.6 L368.4 283.8 L367.3 285.2 L366.3 286.7 L365.4 288.3 L364.7 290.0 L364.1 291.8 L363.6 293.6 L363.3 295.5 L363.1 297.5 L363.0 299.5 L363.0 301.5 L363.2 303.5 L363.5 305.6 L364.0 307.6 L364.5 309.7 L365.3 311.7 L366.0 313.6 Z" fill="#84d272" stroke="#3a8a30" stroke-width="1.1" stroke-linejoin="round"/><path d="M373.8 310.2 L373.1 308.6 L372.4 306.9 L371.9 305.3 L371.4 303.7 L371.1 302.1 L370.8 300.5 L370.5 298.9 L370.4 297.4 L370.4 295.9 L370.5 294.4 L370.6 293.0 L370.8 291.7 L371.2 290.4 L371.6 289.2 L372.1 288.1 L372.8 287.1 L373.5 286.2 L374.3 285.4 L375.2 284.7 L376.3 284.1 L377.4 283.6 L378.7 283.2 L380.1 283.0 L381.3 283.0 L382.4 283.0 L383.4 283.1 L384.3 283.3 L385.1 283.6 L385.9 284.0 L386.6 284.5 L387.3 285.0 L387.8 285.6 L388.4 286.3 L388.8 287.1 L389.2 287.9 L389.6 288.9 L389.9 289.9 L390.1 291.0 L390.2 292.1 L390.3 293.4 L390.3 294.6 L390.2 296.0 L390.1 297.4 L389.9 298.8 L389.6 300.3 L389.3 301.8 L390.7 302.2 L391.1 300.6 L391.4 299.1 L391.6 297.6 L391.8 296.1 L391.9 294.7 L391.9 293.3 L391.9 292.0 L391.7 290.7 L391.5 289.5 L391.3 288.4 L390.9 287.3 L390.5 286.2 L389.9 285.3 L389.3 284.4 L388.6 283.6 L387.8 282.9 L386.9 282.3 L385.9 281.8 L384.9 281.4 L383.7 281.1 L382.5 280.9 L381.2 280.9 L379.9 281.0 L378.3 281.2 L376.8 281.5 L375.4 282.1 L374.0 282.8 L372.8 283.6 L371.7 284.5 L370.8 285.6 L369.9 286.8 L369.2 288.1 L368.5 289.4 L368.0 290.9 L367.6 292.4 L367.3 294.0 L367.1 295.7 L367.0 297.4 L367.1 299.2 L367.2 300.9 L367.4 302.7 L367.8 304.6 L368.2 306.4 L368.8 308.2 L369.5 310.0 L370.2 311.8 Z" fill="#a4ec92" opacity="0.55"/>
<path d="M420 289 C426 290 430 300 428 310 C426 316 422 318 420 315 C419 305 419 296 420 289 Z" fill="#111"/>
<path d="M413.3 317.3 L412.7 315.2 L412.2 313.3 L411.7 311.4 L411.3 309.6 L411.0 307.8 L410.8 306.1 L410.6 304.5 L410.4 302.9 L410.4 301.4 L410.4 300.0 L410.4 298.7 L410.6 297.5 L410.7 296.3 L411.0 295.3 L411.3 294.3 L411.6 293.4 L412.0 292.7 L412.5 292.0 L413.0 291.4 L413.6 290.9 L414.2 290.5 L415.0 290.1 L415.7 289.9 L416.8 289.8 L417.9 289.9 L418.9 290.0 L419.8 290.3 L420.6 290.7 L421.4 291.1 L422.1 291.7 L422.8 292.4 L423.5 293.2 L424.0 294.0 L424.5 295.0 L425.0 296.0 L425.3 297.2 L425.6 298.3 L425.8 299.6 L425.9 300.8 L425.9 302.2 L425.8 303.5 L425.7 304.8 L425.4 306.1 L425.0 307.4 L424.5 308.7 L423.9 310.1 L423.7 310.5 L423.5 310.9 L423.3 311.4 L423.2 311.9 L423.0 312.3 L422.8 312.8 L422.7 313.2 L422.6 313.7 L422.4 314.1 L422.3 314.5 L422.1 314.9 L422.0 315.4 L421.9 315.7 L421.7 316.1 L421.5 316.5 L421.4 316.9 L421.2 317.2 L421.0 317.5 L420.7 317.9 L420.5 318.2 L420.2 318.4 L419.9 318.7 L419.6 318.9 L422.4 323.1 L422.8 322.8 L423.3 322.5 L423.8 322.2 L424.2 321.9 L424.7 321.6 L425.2 321.2 L425.6 320.9 L426.1 320.6 L426.5 320.3 L427.0 319.9 L427.5 319.5 L427.9 319.2 L428.3 318.8 L428.8 318.4 L429.2 317.9 L429.6 317.5 L430.0 317.1 L430.4 316.6 L430.7 316.1 L431.1 315.6 L431.4 315.1 L431.7 314.6 L432.1 313.9 L432.9 312.1 L433.6 310.1 L434.1 308.2 L434.5 306.2 L434.7 304.2 L434.8 302.2 L434.7 300.3 L434.4 298.3 L434.1 296.5 L433.5 294.6 L432.9 292.9 L432.1 291.2 L431.1 289.6 L430.0 288.0 L428.8 286.7 L427.4 285.4 L425.9 284.3 L424.2 283.4 L422.4 282.7 L420.5 282.1 L418.6 281.9 L416.5 281.8 L414.3 282.1 L412.5 282.5 L410.9 283.1 L409.3 283.9 L407.8 284.8 L406.5 285.8 L405.2 287.0 L404.1 288.4 L403.0 289.8 L402.1 291.4 L401.3 293.0 L400.6 294.8 L400.0 296.6 L399.5 298.5 L399.1 300.5 L398.8 302.5 L398.7 304.7 L398.6 306.8 L398.7 309.1 L398.9 311.3 L399.2 313.7 L399.6 316.0 L400.1 318.4 L400.7 320.7 Z" fill="#84d272" stroke="#3a8a30" stroke-width="1.1" stroke-linejoin="round"/><path d="M408.9 318.5 L408.3 316.3 L407.8 314.2 L407.3 312.2 L407.0 310.2 L406.7 308.2 L406.5 306.4 L406.4 304.5 L406.4 302.8 L406.4 301.1 L406.6 299.5 L406.8 298.0 L407.1 296.5 L407.4 295.2 L407.9 293.9 L408.4 292.7 L409.0 291.7 L409.6 290.7 L410.4 289.8 L411.2 289.1 L412.1 288.4 L413.1 287.9 L414.1 287.5 L415.2 287.2 L416.7 287.0 L418.1 287.1 L419.5 287.3 L420.7 287.6 L421.9 288.1 L423.0 288.7 L424.0 289.5 L424.9 290.4 L425.8 291.4 L426.5 292.5 L427.2 293.6 L427.7 294.9 L428.2 296.3 L428.6 297.7 L428.8 299.1 L429.0 300.6 L429.0 302.2 L428.9 303.7 L428.7 305.3 L428.4 306.8 L428.0 308.4 L427.5 309.9 L426.8 311.4 L426.5 311.9 L426.3 312.4 L426.1 312.9 L425.8 313.4 L425.6 313.8 L425.3 314.3 L425.1 314.7 L424.9 315.2 L424.6 315.6 L424.4 316.0 L424.2 316.4 L423.9 316.8 L423.7 317.2 L423.4 317.6 L423.1 317.9 L422.9 318.3 L422.6 318.6 L422.3 319.0 L422.0 319.3 L421.6 319.6 L421.3 319.9 L420.9 320.1 L420.6 320.4 L421.4 321.6 L421.8 321.3 L422.2 321.1 L422.6 320.8 L423.0 320.5 L423.4 320.2 L423.8 319.8 L424.1 319.5 L424.5 319.2 L424.8 318.8 L425.2 318.4 L425.5 318.1 L425.9 317.7 L426.2 317.3 L426.5 316.9 L426.9 316.4 L427.2 316.0 L427.5 315.6 L427.8 315.1 L428.1 314.6 L428.4 314.1 L428.7 313.6 L428.9 313.1 L429.2 312.6 L430.0 310.9 L430.6 309.2 L431.1 307.5 L431.4 305.7 L431.6 303.9 L431.7 302.2 L431.6 300.5 L431.4 298.8 L431.1 297.1 L430.7 295.5 L430.1 294.0 L429.4 292.5 L428.6 291.1 L427.7 289.8 L426.7 288.7 L425.6 287.6 L424.3 286.7 L423.0 285.9 L421.5 285.3 L420.0 284.9 L418.3 284.7 L416.6 284.6 L414.8 284.8 L413.4 285.2 L412.0 285.7 L410.8 286.3 L409.6 287.1 L408.6 288.0 L407.6 289.0 L406.7 290.1 L405.9 291.4 L405.2 292.7 L404.6 294.2 L404.1 295.7 L403.6 297.3 L403.3 299.0 L403.1 300.8 L402.9 302.7 L402.8 304.6 L402.9 306.6 L403.0 308.6 L403.2 310.7 L403.6 312.9 L404.0 315.1 L404.5 317.3 L405.1 319.5 Z" fill="#a4ec92" opacity="0.55"/>
<path d="M453.3 337.1 L454.6 336.3 L455.8 335.8 L457.0 335.3 L458.3 335.1 L459.6 334.9 L460.9 334.9 L462.2 335.0 L463.5 335.2 L464.8 335.6 L466.1 336.0 L467.3 336.6 L468.5 337.3 L469.6 338.1 L470.7 339.0 L471.8 339.9 L472.8 341.0 L473.7 342.2 L474.6 343.5 L475.5 344.8 L476.2 346.3 L477.0 347.9 L477.6 349.6 L478.2 351.3 L478.3 351.9 L478.3 352.8 L478.4 353.6 L478.4 354.3 L478.3 355.0 L478.2 355.6 L478.0 356.3 L477.8 356.8 L477.6 357.4 L477.3 358.0 L476.9 358.5 L476.5 359.0 L476.0 359.5 L475.5 360.0 L474.9 360.5 L474.2 361.0 L473.4 361.4 L472.6 361.8 L471.7 362.1 L470.8 362.4 L469.8 362.7 L468.7 362.9 L467.5 363.0 L468.5 371.0 L469.9 370.8 L471.3 370.6 L472.7 370.3 L474.1 369.9 L475.5 369.5 L476.8 369.0 L478.1 368.5 L479.3 367.8 L480.5 367.1 L481.7 366.3 L482.7 365.5 L483.8 364.5 L484.7 363.4 L485.5 362.3 L486.3 361.0 L486.9 359.7 L487.5 358.3 L487.9 356.9 L488.1 355.4 L488.3 353.8 L488.3 352.3 L488.2 350.6 L487.8 348.7 L487.0 346.1 L486.0 343.8 L484.8 341.6 L483.5 339.6 L482.1 337.8 L480.6 336.1 L478.9 334.6 L477.2 333.3 L475.5 332.1 L473.6 331.2 L471.8 330.4 L469.9 329.8 L468.0 329.3 L466.1 329.0 L464.3 328.9 L462.4 328.9 L460.6 329.1 L458.8 329.4 L457.0 329.8 L455.3 330.4 L453.7 331.1 L452.1 332.0 L450.7 332.9 Z" fill="#84d272" stroke="#3a8a30" stroke-width="1.1" stroke-linejoin="round"/><path d="M452.4 335.6 L453.7 334.8 L455.0 334.1 L456.4 333.6 L457.9 333.2 L459.3 333.0 L460.8 332.8 L462.3 332.9 L463.8 333.0 L465.3 333.3 L466.8 333.7 L468.2 334.2 L469.6 334.9 L471.0 335.7 L472.4 336.6 L473.7 337.6 L474.9 338.8 L476.1 340.1 L477.2 341.5 L478.3 343.0 L479.2 344.7 L480.1 346.5 L480.9 348.4 L481.6 350.4 L481.7 351.5 L481.8 352.6 L481.9 353.7 L481.8 354.7 L481.7 355.7 L481.4 356.6 L481.2 357.5 L480.8 358.3 L480.4 359.1 L479.9 359.9 L479.3 360.6 L478.7 361.3 L478.0 361.9 L477.2 362.5 L476.4 363.1 L475.5 363.6 L474.6 364.1 L473.6 364.5 L472.6 364.9 L471.5 365.2 L470.3 365.4 L469.1 365.7 L467.9 365.8 L468.1 368.2 L469.5 368.0 L470.8 367.8 L472.0 367.5 L473.3 367.2 L474.5 366.8 L475.6 366.4 L476.7 365.8 L477.8 365.3 L478.8 364.7 L479.7 364.0 L480.6 363.2 L481.4 362.4 L482.1 361.5 L482.8 360.6 L483.3 359.6 L483.8 358.5 L484.2 357.4 L484.5 356.2 L484.7 355.0 L484.8 353.7 L484.8 352.4 L484.7 351.1 L484.4 349.6 L483.7 347.3 L482.8 345.2 L481.8 343.3 L480.7 341.4 L479.5 339.8 L478.2 338.2 L476.8 336.9 L475.3 335.6 L473.8 334.5 L472.2 333.6 L470.6 332.8 L469.0 332.2 L467.3 331.7 L465.7 331.3 L464.0 331.1 L462.3 331.0 L460.7 331.1 L459.1 331.3 L457.5 331.6 L455.9 332.1 L454.4 332.7 L453.0 333.5 L451.6 334.4 Z" fill="#a4ec92" opacity="0.55"/>
<path d="M440 364 C448 358 462 360 466 368 C460 374 448 374 440 370 Z" fill="#5aa84c"/>
<path d="M436.1 366.1 L436.9 365.4 L437.6 364.8 L438.5 364.3 L439.5 363.8 L440.7 363.4 L442.0 363.0 L443.3 362.8 L444.8 362.6 L446.3 362.4 L447.8 362.4 L449.4 362.4 L451.1 362.6 L452.7 362.8 L454.3 363.1 L455.9 363.4 L457.4 363.9 L458.9 364.4 L460.4 365.0 L461.7 365.6 L463.0 366.3 L464.1 367.1 L465.2 367.9 L465.5 367.9 L465.0 367.2 L465.0 367.9 L464.8 368.5 L464.6 369.0 L464.3 369.4 L463.9 369.8 L463.4 370.2 L462.9 370.5 L462.3 370.8 L461.6 371.1 L460.8 371.4 L459.9 371.6 L458.9 371.8 L457.8 372.0 L456.6 372.1 L455.4 372.2 L454.1 372.3 L452.8 372.3 L451.4 372.3 L450.0 372.3 L448.5 372.2 L447.0 372.1 L445.6 372.0 L444.8 371.9 L444.0 371.8 L443.3 371.7 L442.6 371.6 L441.9 371.5 L441.3 371.4 L440.7 371.2 L440.2 371.1 L439.7 370.9 L439.2 370.7 L438.7 370.5 L438.3 370.3 L437.9 370.1 L437.5 369.8 L437.2 369.5 L436.9 369.1 L436.7 368.7 L436.5 368.2 L436.4 367.7 L436.3 367.1 L436.4 366.5 L436.5 365.9 L436.8 365.1 L431.2 362.9 L430.8 363.9 L430.4 365.1 L430.1 366.2 L429.9 367.4 L429.8 368.5 L429.7 369.7 L429.8 370.9 L430.0 372.1 L430.3 373.2 L430.7 374.4 L431.2 375.5 L431.8 376.6 L432.5 377.6 L433.4 378.6 L434.3 379.5 L435.3 380.4 L436.4 381.2 L437.5 381.9 L438.8 382.5 L440.1 383.0 L441.5 383.4 L442.9 383.7 L444.4 384.0 L446.4 384.1 L448.2 384.1 L450.1 384.1 L451.9 384.0 L453.6 383.8 L455.4 383.5 L457.1 383.2 L458.8 382.8 L460.4 382.3 L461.9 381.8 L463.4 381.1 L464.9 380.4 L466.3 379.5 L467.6 378.6 L468.8 377.5 L469.8 376.4 L470.8 375.1 L471.6 373.7 L472.3 372.2 L472.7 370.6 L473.0 369.0 L473.1 367.3 L472.5 364.1 L470.3 361.8 L468.7 360.6 L467.0 359.5 L465.2 358.6 L463.3 357.8 L461.4 357.1 L459.4 356.6 L457.5 356.2 L455.5 355.8 L453.5 355.6 L451.5 355.5 L449.5 355.5 L447.6 355.6 L445.7 355.8 L443.8 356.1 L442.0 356.5 L440.3 356.9 L438.6 357.5 L437.0 358.2 L435.5 359.0 L434.1 359.9 L432.9 360.9 L431.9 361.9 Z" fill="#84d272" stroke="#3a8a30" stroke-width="1.1" stroke-linejoin="round"/><path d="M434.6 364.6 L435.5 363.8 L436.4 363.1 L437.5 362.4 L438.6 361.8 L440.0 361.3 L441.4 360.9 L442.9 360.6 L444.4 360.3 L446.1 360.1 L447.8 360.0 L449.5 360.0 L451.2 360.1 L453.0 360.3 L454.7 360.5 L456.4 360.9 L458.1 361.3 L459.8 361.8 L461.4 362.5 L462.9 363.2 L464.4 364.0 L465.7 364.8 L467.0 365.8 L467.9 366.6 L467.9 367.3 L467.8 368.3 L467.6 369.2 L467.3 370.1 L466.8 370.9 L466.3 371.7 L465.7 372.3 L465.0 373.0 L464.1 373.5 L463.2 374.1 L462.2 374.5 L461.1 374.9 L459.9 375.3 L458.7 375.6 L457.4 375.9 L456.0 376.1 L454.6 376.2 L453.1 376.3 L451.6 376.4 L450.0 376.4 L448.4 376.4 L446.8 376.3 L445.2 376.2 L444.1 376.1 L443.1 375.9 L442.2 375.7 L441.3 375.4 L440.4 375.1 L439.6 374.8 L438.8 374.4 L438.1 374.0 L437.5 373.6 L436.9 373.2 L436.3 372.7 L435.8 372.1 L435.4 371.6 L435.0 371.0 L434.7 370.4 L434.4 369.7 L434.3 369.1 L434.1 368.3 L434.1 367.6 L434.2 366.8 L434.3 366.0 L434.5 365.2 L434.8 364.3 L433.2 363.7 L432.8 364.6 L432.5 365.6 L432.3 366.5 L432.2 367.5 L432.1 368.4 L432.2 369.4 L432.3 370.3 L432.5 371.2 L432.8 372.0 L433.2 372.9 L433.7 373.7 L434.2 374.5 L434.9 375.2 L435.6 375.9 L436.3 376.6 L437.2 377.2 L438.1 377.7 L439.1 378.2 L440.1 378.7 L441.2 379.1 L442.4 379.4 L443.6 379.6 L444.8 379.8 L446.6 379.9 L448.3 380.0 L450.0 380.0 L451.7 379.9 L453.3 379.8 L454.9 379.6 L456.5 379.4 L458.0 379.1 L459.5 378.7 L460.9 378.3 L462.2 377.8 L463.4 377.2 L464.6 376.6 L465.7 375.9 L466.7 375.1 L467.6 374.2 L468.4 373.2 L469.0 372.2 L469.6 371.1 L469.9 369.9 L470.2 368.6 L470.3 367.3 L470.1 365.4 L468.5 364.0 L467.1 362.9 L465.6 361.9 L464.0 361.1 L462.3 360.3 L460.5 359.7 L458.7 359.1 L456.9 358.7 L455.1 358.4 L453.2 358.1 L451.3 358.0 L449.5 357.9 L447.7 358.0 L445.9 358.1 L444.1 358.3 L442.5 358.7 L440.9 359.1 L439.3 359.6 L437.9 360.1 L436.6 360.8 L435.3 361.6 L434.3 362.5 L433.4 363.4 Z" fill="#a4ec92" opacity="0.55"/>
<path d="M421 387 C425 381 434 381 440 386" fill="none" stroke="#3a8a30" stroke-width="9.6" stroke-linecap="round" stroke-linejoin="round"/><path d="M421 387 C425 381 434 381 440 386" fill="none" stroke="#84d272" stroke-width="8" stroke-linecap="round" stroke-linejoin="round"/><path d="M421 387 C425 381 434 381 440 386" fill="none" stroke="#a4ec92" stroke-width="2.8" stroke-linecap="round" stroke-linejoin="round" opacity="0.7"/>
<path d="M421.0 392.1 L421.1 394.2 L421.4 396.3 L421.8 398.3 L422.4 400.3 L423.2 402.1 L424.2 403.9 L425.3 405.5 L426.5 407.1 L427.9 408.5 L429.4 409.8 L431.0 411.1 L432.8 412.2 L434.6 413.2 L436.5 414.0 L438.4 414.8 L440.5 415.4 L442.6 415.9 L444.7 416.3 L446.9 416.6 L449.1 416.8 L451.3 416.8 L453.5 416.7 L456.1 416.4 L458.2 415.7 L459.8 415.0 L461.4 414.1 L462.8 413.2 L464.1 412.1 L465.3 410.9 L466.5 409.7 L467.5 408.4 L468.4 407.0 L469.2 405.5 L469.9 404.0 L470.5 402.4 L471.0 400.8 L471.4 399.1 L471.7 397.5 L471.9 395.8 L472.0 394.0 L472.0 392.3 L472.0 390.5 L471.8 388.7 L471.6 386.8 L471.3 385.0 L470.9 383.2 L463.1 384.8 L463.4 386.4 L463.6 387.9 L463.7 389.3 L463.7 390.7 L463.7 392.0 L463.5 393.3 L463.3 394.5 L463.0 395.7 L462.7 396.8 L462.3 397.9 L461.8 398.8 L461.3 399.8 L460.7 400.6 L460.1 401.4 L459.5 402.1 L458.8 402.7 L458.2 403.3 L457.4 403.8 L456.7 404.3 L455.9 404.7 L455.1 405.1 L454.3 405.4 L453.9 405.6 L452.6 405.7 L450.9 405.9 L449.2 406.0 L447.5 406.0 L445.8 406.0 L444.1 405.9 L442.5 405.7 L441.0 405.5 L439.4 405.2 L438.0 404.8 L436.6 404.4 L435.2 403.9 L433.9 403.2 L432.8 402.6 L431.7 401.8 L430.7 400.9 L429.8 400.0 L429.0 398.9 L428.3 397.8 L427.8 396.5 L427.3 395.1 L427.1 393.6 L427.0 391.9 Z" fill="#84d272" stroke="#3a8a30" stroke-width="1.1" stroke-linejoin="round"/><path d="M423.1 392.0 L423.2 394.0 L423.5 395.9 L423.9 397.7 L424.5 399.4 L425.2 401.0 L426.1 402.5 L427.2 403.9 L428.3 405.2 L429.6 406.4 L431.0 407.5 L432.5 408.5 L434.1 409.4 L435.8 410.2 L437.5 410.9 L439.3 411.5 L441.2 412.0 L443.1 412.4 L445.1 412.7 L447.1 412.9 L449.1 413.0 L451.1 413.0 L453.2 412.9 L455.3 412.6 L456.9 412.1 L458.2 411.5 L459.5 410.8 L460.7 410.1 L461.8 409.2 L462.8 408.3 L463.8 407.3 L464.7 406.2 L465.5 405.0 L466.2 403.8 L466.9 402.5 L467.4 401.2 L467.9 399.8 L468.3 398.3 L468.7 396.8 L468.9 395.3 L469.0 393.8 L469.1 392.2 L469.1 390.5 L469.0 388.9 L468.8 387.2 L468.5 385.5 L468.2 383.8 L465.8 384.2 L466.2 385.9 L466.4 387.5 L466.6 389.1 L466.6 390.6 L466.6 392.1 L466.5 393.6 L466.3 395.0 L466.1 396.3 L465.7 397.6 L465.3 398.9 L464.8 400.1 L464.3 401.2 L463.7 402.3 L463.0 403.3 L462.3 404.3 L461.5 405.2 L460.7 406.0 L459.8 406.7 L458.8 407.4 L457.8 408.0 L456.8 408.6 L455.7 409.0 L454.7 409.4 L452.9 409.6 L451.0 409.7 L449.1 409.8 L447.3 409.7 L445.4 409.6 L443.6 409.4 L441.8 409.1 L440.1 408.8 L438.4 408.3 L436.8 407.7 L435.2 407.1 L433.7 406.4 L432.4 405.6 L431.1 404.6 L429.9 403.6 L428.8 402.5 L427.8 401.3 L427.0 400.0 L426.2 398.6 L425.7 397.1 L425.3 395.5 L425.0 393.8 L424.9 392.0 Z" fill="#a4ec92" opacity="0.55"/>
<path d="M418 360 L451 344" fill="none" stroke="#3a8a30" stroke-width="6.6" stroke-linecap="round" stroke-linejoin="round"/><path d="M418 360 L451 344" fill="none" stroke="#84d272" stroke-width="5" stroke-linecap="round" stroke-linejoin="round"/><path d="M418 360 L451 344" fill="none" stroke="#a4ec92" stroke-width="1.8" stroke-linecap="round" stroke-linejoin="round" opacity="0.7"/>
<path d="M372 398 C374 408 370 418 366 430" fill="none" stroke="#3a8a30" stroke-width="11.6" stroke-linecap="round" stroke-linejoin="round"/><path d="M372 398 C374 408 370 418 366 430" fill="none" stroke="#84d272" stroke-width="10" stroke-linecap="round" stroke-linejoin="round"/><path d="M372 398 C374 408 370 418 366 430" fill="none" stroke="#a4ec92" stroke-width="3.5" stroke-linecap="round" stroke-linejoin="round" opacity="0.7"/>
<path d="M368.8 391.1 L366.4 391.7 L364.0 392.3 L361.6 393.0 L359.3 393.8 L357.1 394.6 L354.9 395.5 L352.9 396.5 L350.8 397.6 L348.9 398.7 L347.0 399.9 L345.3 401.2 L343.6 402.7 L342.1 404.2 L340.6 405.9 L339.4 407.7 L338.2 409.6 L337.3 411.7 L336.5 413.8 L336.0 416.0 L335.7 418.3 L335.6 420.7 L335.8 423.1 L336.2 425.5 L336.8 427.8 L337.7 430.1 L338.7 432.2 L340.0 434.1 L341.5 435.9 L343.1 437.4 L344.8 438.8 L346.6 439.9 L348.5 440.9 L350.5 441.6 L352.5 442.1 L354.5 442.5 L356.5 442.6 L358.5 442.6 L360.5 442.3 L362.5 442.0 L364.4 441.4 L366.3 440.7 L368.1 439.8 L369.9 438.8 L371.6 437.6 L373.2 436.3 L374.7 434.9 L369.3 429.1 L368.1 430.1 L366.9 431.0 L365.8 431.6 L364.6 432.1 L363.4 432.5 L362.2 432.7 L361.0 432.7 L359.9 432.7 L358.8 432.5 L357.7 432.3 L356.8 431.9 L355.8 431.5 L355.0 430.9 L354.2 430.3 L353.5 429.7 L352.8 429.0 L352.3 428.3 L351.7 427.5 L351.3 426.6 L350.8 425.7 L350.5 424.8 L350.1 423.7 L349.8 422.5 L349.6 421.3 L349.5 420.2 L349.5 419.1 L349.5 418.1 L349.6 417.1 L349.8 416.1 L350.1 415.2 L350.5 414.2 L351.0 413.1 L351.6 412.1 L352.4 411.1 L353.3 410.0 L354.3 409.0 L355.4 408.0 L356.7 407.0 L358.1 406.0 L359.6 405.1 L361.3 404.2 L363.1 403.4 L364.9 402.7 L366.9 402.0 L368.9 401.4 L371.2 400.9 Z" fill="#84d272" stroke="#3a8a30" stroke-width="1.1" stroke-linejoin="round"/><path d="M369.6 394.5 L367.3 395.1 L365.0 395.7 L362.8 396.4 L360.6 397.2 L358.6 398.0 L356.6 398.9 L354.7 399.8 L352.9 400.9 L351.2 401.9 L349.6 403.1 L348.1 404.3 L346.7 405.6 L345.4 407.0 L344.3 408.4 L343.3 410.0 L342.4 411.6 L341.7 413.2 L341.1 415.0 L340.7 416.8 L340.5 418.6 L340.5 420.5 L340.6 422.5 L340.9 424.4 L341.5 426.4 L342.1 428.2 L343.0 429.9 L344.0 431.5 L345.1 432.9 L346.3 434.2 L347.6 435.4 L349.0 436.3 L350.5 437.2 L352.0 437.9 L353.6 438.4 L355.3 438.8 L356.9 439.0 L358.6 439.1 L360.3 439.0 L362.0 438.7 L363.6 438.3 L365.3 437.8 L366.9 437.1 L368.4 436.3 L370.0 435.3 L371.4 434.1 L372.8 432.9 L371.2 431.1 L369.9 432.3 L368.6 433.3 L367.2 434.1 L365.8 434.8 L364.4 435.3 L363.0 435.7 L361.5 436.0 L360.1 436.1 L358.7 436.0 L357.3 435.9 L356.0 435.6 L354.7 435.2 L353.4 434.7 L352.2 434.0 L351.1 433.3 L350.0 432.4 L349.0 431.5 L348.1 430.4 L347.3 429.3 L346.6 428.0 L346.0 426.6 L345.5 425.1 L345.1 423.6 L344.8 421.9 L344.6 420.4 L344.6 418.9 L344.8 417.4 L345.0 416.0 L345.4 414.6 L346.0 413.2 L346.6 411.9 L347.4 410.6 L348.3 409.4 L349.3 408.1 L350.5 407.0 L351.8 405.8 L353.1 404.7 L354.7 403.7 L356.3 402.7 L358.0 401.8 L359.8 400.9 L361.8 400.1 L363.8 399.3 L365.9 398.6 L368.1 398.0 L370.4 397.5 Z" fill="#a4ec92" opacity="0.55"/>
<path d="M346 420 C352 414 362 416 366 424 C362 430 354 432 348 428 Z" fill="#4a8a3e"/>
<path d="M292 452 L300 448 L318 448 L328 452 L320 458 L300 458 L292 452" fill="none" stroke="#a87410" stroke-width="4.8" stroke-linecap="round" stroke-linejoin="round"/><path d="M292 452 L300 448 L318 448 L328 452 L320 458 L300 458 L292 452" fill="none" stroke="#f2b322" stroke-width="3.6" stroke-linecap="round" stroke-linejoin="round"/>
<path d="M292 452 L286 450" stroke="#999" stroke-width="4.65" stroke-linecap="round"/><path d="M292 452 L286 450" stroke="#f4f4f4" stroke-width="3.75" stroke-linecap="round"/>
<path d="M300 448 L298 442" stroke="#999" stroke-width="4.65" stroke-linecap="round"/><path d="M300 448 L298 442" stroke="#f4f4f4" stroke-width="3.75" stroke-linecap="round"/>
<path d="M318 448 L320 442" stroke="#999" stroke-width="4.65" stroke-linecap="round"/><path d="M318 448 L320 442" stroke="#f4f4f4" stroke-width="3.75" stroke-linecap="round"/>
<path d="M328 452 L334 454" stroke="#999" stroke-width="4.65" stroke-linecap="round"/><path d="M328 452 L334 454" stroke="#f4f4f4" stroke-width="3.75" stroke-linecap="round"/>
<path d="M320 458 L324 464" stroke="#999" stroke-width="4.65" stroke-linecap="round"/><path d="M320 458 L324 464" stroke="#f4f4f4" stroke-width="3.75" stroke-linecap="round"/>
<path d="M300 458 L296 464" stroke="#999" stroke-width="4.65" stroke-linecap="round"/><path d="M300 458 L296 464" stroke="#f4f4f4" stroke-width="3.75" stroke-linecap="round"/>
<path d="M318 448 L316 440 L312 432 L314 424" fill="none" stroke="#a87410" stroke-width="4.8" stroke-linecap="round" stroke-linejoin="round"/><path d="M318 448 L316 440 L312 432 L314 424" fill="none" stroke="#f2b322" stroke-width="3.6" stroke-linecap="round" stroke-linejoin="round"/>
<path d="M314 424 L318 434" stroke="#444" stroke-width="4.9" stroke-linecap="round"/><path d="M314 424 L318 434" stroke="#e80000" stroke-width="4.0" stroke-linecap="round"/>
<path d="M316 440 L322 444" stroke="#444" stroke-width="4.9" stroke-linecap="round"/><path d="M316 440 L322 444" stroke="#e80000" stroke-width="4.0" stroke-linecap="round"/>
<path d="M304 424 L310 428 L312 436 L318 440" fill="none" stroke="#a87410" stroke-width="4.8" stroke-linecap="round" stroke-linejoin="round"/><path d="M304 424 L310 428 L312 436 L318 440" fill="none" stroke="#f2b322" stroke-width="3.6" stroke-linecap="round" stroke-linejoin="round"/>
<path d="M304 424 L300 420" stroke="#444" stroke-width="4.9" stroke-linecap="round"/><path d="M304 424 L300 420" stroke="#1010e0" stroke-width="4.0" stroke-linecap="round"/>
<path d="M300 420 L296 416" stroke="#999" stroke-width="4.15" stroke-linecap="round"/><path d="M300 420 L296 416" stroke="#f4f4f4" stroke-width="3.25" stroke-linecap="round"/>
<path d="M300 420 L294 424" stroke="#999" stroke-width="4.15" stroke-linecap="round"/><path d="M300 420 L294 424" stroke="#f4f4f4" stroke-width="3.25" stroke-linecap="round"/>
<path d="M304 424 L306 417" stroke="#999" stroke-width="4.15" stroke-linecap="round"/><path d="M304 424 L306 417" stroke="#f4f4f4" stroke-width="3.25" stroke-linecap="round"/>
<path d="M310 428 L316 424" stroke="#999" stroke-width="4.15" stroke-linecap="round"/><path d="M310 428 L316 424" stroke="#f4f4f4" stroke-width="3.25" stroke-linecap="round"/>
<path d="M312 436 L306 438" stroke="#999" stroke-width="4.15" stroke-linecap="round"/><path d="M312 436 L306 438" stroke="#f4f4f4" stroke-width="3.25" stroke-linecap="round"/>
<path d="M322 438 C332 434 346 432 352 434 C356 436 357 440 356 444" fill="none" stroke="#3a8a30" stroke-width="5.1" stroke-linecap="round" stroke-linejoin="round"/><path d="M322 438 C332 434 346 432 352 434 C356 436 357 440 356 444" fill="none" stroke="#84d272" stroke-width="3.5" stroke-linecap="round" stroke-linejoin="round"/><path d="M322 438 C332 434 346 432 352 434 C356 436 357 440 356 444" fill="none" stroke="#a4ec92" stroke-width="1.2" stroke-linecap="round" stroke-linejoin="round" opacity="0.7"/>
<path d="M336 430 L340 438" stroke="#444" stroke-width="4.9" stroke-linecap="round"/><path d="M336 430 L340 438" stroke="#222" stroke-width="4.0" stroke-linecap="round"/>
<path d="M334 426 L336 431" stroke="#444" stroke-width="4.9" stroke-linecap="round"/><path d="M334 426 L336 431" stroke="#e80000" stroke-width="4.0" stroke-linecap="round"/>
<path d="M340 438 L346 442" stroke="#999" stroke-width="4.15" stroke-linecap="round"/><path d="M340 438 L346 442" stroke="#f4f4f4" stroke-width="3.25" stroke-linecap="round"/>
<path d="M351 417 L358 422 L357 434 L362 440" fill="none" stroke="#a87410" stroke-width="4.8" stroke-linecap="round" stroke-linejoin="round"/><path d="M351 417 L358 422 L357 434 L362 440" fill="none" stroke="#f2b322" stroke-width="3.6" stroke-linecap="round" stroke-linejoin="round"/>
<path d="M371 406 L371 420 L381 428 L394 432 L402 428 L412 432 L420 428 L428 430" fill="none" stroke="#a87410" stroke-width="4.8" stroke-linecap="round" stroke-linejoin="round"/><path d="M371 406 L371 420 L381 428 L394 432 L402 428 L412 432 L420 428 L428 430" fill="none" stroke="#f2b322" stroke-width="3.6" stroke-linecap="round" stroke-linejoin="round"/>
<path d="M351 417 L346 414" stroke="#999" stroke-width="4.4" stroke-linecap="round"/><path d="M351 417 L346 414" stroke="#f4f4f4" stroke-width="3.5" stroke-linecap="round"/>
<path d="M358 422 L364 418" stroke="#999" stroke-width="4.4" stroke-linecap="round"/><path d="M358 422 L364 418" stroke="#f4f4f4" stroke-width="3.5" stroke-linecap="round"/>
<path d="M371 406 L366 402" stroke="#999" stroke-width="4.4" stroke-linecap="round"/><path d="M371 406 L366 402" stroke="#f4f4f4" stroke-width="3.5" stroke-linecap="round"/>
<path d="M371 406 L376 402" stroke="#999" stroke-width="4.4" stroke-linecap="round"/><path d="M371 406 L376 402" stroke="#f4f4f4" stroke-width="3.5" stroke-linecap="round"/>
<path d="M371 420 L377 416" stroke="#999" stroke-width="4.15" stroke-linecap="round"/><path d="M371 420 L377 416" stroke="#f4f4f4" stroke-width="3.25" stroke-linecap="round"/>
<path d="M381 428 L378 436" stroke="#999" stroke-width="4.4" stroke-linecap="round"/><path d="M381 428 L378 436" stroke="#f4f4f4" stroke-width="3.5" stroke-linecap="round"/>
<path d="M394 432 L394 424" stroke="#999" stroke-width="4.4" stroke-linecap="round"/><path d="M394 432 L394 424" stroke="#f4f4f4" stroke-width="3.5" stroke-linecap="round"/>
<path d="M402 428 L402 421" stroke="#999" stroke-width="4.15" stroke-linecap="round"/><path d="M402 428 L402 421" stroke="#f4f4f4" stroke-width="3.25" stroke-linecap="round"/>
<path d="M412 432 L412 439" stroke="#999" stroke-width="4.15" stroke-linecap="round"/><path d="M412 432 L412 439" stroke="#f4f4f4" stroke-width="3.25" stroke-linecap="round"/>
<path d="M420 428 L420 421" stroke="#999" stroke-width="4.15" stroke-linecap="round"/><path d="M420 428 L420 421" stroke="#f4f4f4" stroke-width="3.25" stroke-linecap="round"/>
<path d="M428 430 L432 428" stroke="#444" stroke-width="4.9" stroke-linecap="round"/><path d="M428 430 L432 428" stroke="#1010e0" stroke-width="4.0" stroke-linecap="round"/>
<path d="M432 428 L436 426" stroke="#999" stroke-width="4.15" stroke-linecap="round"/><path d="M432 428 L436 426" stroke="#f4f4f4" stroke-width="3.25" stroke-linecap="round"/>
<path d="M432 428 L434 434" stroke="#999" stroke-width="4.15" stroke-linecap="round"/><path d="M432 428 L434 434" stroke="#f4f4f4" stroke-width="3.25" stroke-linecap="round"/>
<path d="M357 434 L360 444 L356 452 L359 460 L366 466" fill="none" stroke="#a87410" stroke-width="4.8" stroke-linecap="round" stroke-linejoin="round"/><path d="M357 434 L360 444 L356 452 L359 460 L366 466" fill="none" stroke="#f2b322" stroke-width="3.6" stroke-linecap="round" stroke-linejoin="round"/>
<path d="M362 440 L368 446 L378 448 L386 450" fill="none" stroke="#a87410" stroke-width="4.8" stroke-linecap="round" stroke-linejoin="round"/><path d="M362 440 L368 446 L378 448 L386 450" fill="none" stroke="#f2b322" stroke-width="3.6" stroke-linecap="round" stroke-linejoin="round"/>
<path d="M356 452 L352 446" stroke="#444" stroke-width="5.15" stroke-linecap="round"/><path d="M356 452 L352 446" stroke="#e80000" stroke-width="4.25" stroke-linecap="round"/>
<path d="M359 460 L353 462" stroke="#444" stroke-width="5.15" stroke-linecap="round"/><path d="M359 460 L353 462" stroke="#e80000" stroke-width="4.25" stroke-linecap="round"/>
<path d="M366 446 L370 452" stroke="#444" stroke-width="5.15" stroke-linecap="round"/><path d="M366 446 L370 452" stroke="#1010e0" stroke-width="4.25" stroke-linecap="round"/>
<path d="M386 450 L392 448" stroke="#444" stroke-width="5.15" stroke-linecap="round"/><path d="M386 450 L392 448" stroke="#e80000" stroke-width="4.25" stroke-linecap="round"/>
<path d="M366 466 L370 472" stroke="#999" stroke-width="4.4" stroke-linecap="round"/><path d="M366 466 L370 472" stroke="#f4f4f4" stroke-width="3.5" stroke-linecap="round"/>
<path d="M360 444 L366 440" stroke="#444" stroke-width="4.9" stroke-linecap="round"/><path d="M360 444 L366 440" stroke="#1010e0" stroke-width="4.0" stroke-linecap="round"/>
<path d="M374 438 L378 432" stroke="#444" stroke-width="5.15" stroke-linecap="round"/><path d="M374 438 L378 432" stroke="#111" stroke-width="4.25" stroke-linecap="round"/>
<path d="M372 436 L388 430 L392 448 L378 456 Z" fill="#84d272" opacity="0.85"/>
</g>
<g clip-path="url(#cp3)" filter="url(#bl05)">
<path d="M589 302 C584 310 576 314 566 320 C558 325 552 330 547 336" fill="none" stroke="#3a8a30" stroke-width="6.4" stroke-linecap="round" stroke-linejoin="round"/><path d="M589 302 C584 310 576 314 566 320 C558 325 552 330 547 336" fill="none" stroke="#84d272" stroke-width="4.8" stroke-linecap="round" stroke-linejoin="round"/><path d="M589 302 C584 310 576 314 566 320 C558 325 552 330 547 336" fill="none" stroke="#a4ec92" stroke-width="1.7" stroke-linecap="round" stroke-linejoin="round" opacity="0.7"/>
<path d="M546.7 331.1 L545.9 332.0 L545.0 332.9 L544.1 333.9 L543.2 334.8 L542.3 335.7 L541.3 336.6 L540.4 337.5 L539.5 338.5 L538.5 339.5 L537.6 340.5 L536.7 341.6 L535.9 342.7 L535.1 343.9 L534.4 345.1 L533.7 346.4 L533.1 347.8 L532.6 349.2 L532.2 350.7 L532.0 352.2 L531.8 353.8 L531.8 355.3 L532.0 356.9 L532.1 357.6 L532.2 358.6 L532.5 360.1 L532.9 361.6 L533.3 363.1 L533.8 364.6 L534.4 366.0 L535.0 367.4 L535.7 368.7 L536.4 370.1 L537.2 371.3 L538.0 372.5 L538.9 373.7 L539.8 374.8 L540.8 375.9 L541.8 376.9 L542.8 377.9 L543.9 378.9 L545.0 379.8 L546.1 380.6 L547.2 381.4 L548.4 382.2 L549.6 382.9 L550.6 383.6 L557.4 372.4 L556.6 372.0 L556.1 371.5 L555.6 371.0 L555.1 370.5 L554.7 369.9 L554.4 369.3 L554.0 368.7 L553.8 368.0 L553.5 367.3 L553.3 366.5 L553.1 365.8 L553.0 365.0 L552.8 364.2 L552.7 363.3 L552.6 362.5 L552.5 361.6 L552.4 360.8 L552.4 359.9 L552.3 358.9 L552.2 358.0 L552.1 357.0 L552.0 356.0 L551.9 354.4 L551.5 353.0 L551.3 352.5 L551.1 352.0 L550.8 351.4 L550.5 350.9 L550.2 350.3 L549.9 349.6 L549.6 348.9 L549.3 348.2 L549.0 347.4 L548.8 346.6 L548.6 345.7 L548.5 344.7 L548.4 343.8 L548.4 342.8 L548.4 341.8 L548.6 340.8 L548.8 339.7 L549.1 338.7 L549.5 337.7 L550.0 336.8 L550.6 335.8 L551.3 334.9 Z" fill="#84d272" stroke="#3a8a30" stroke-width="1.1" stroke-linejoin="round"/><path d="M548.3 332.4 L547.5 333.3 L546.8 334.3 L546.0 335.2 L545.3 336.1 L544.6 337.1 L543.9 338.0 L543.2 339.0 L542.6 340.0 L542.0 341.0 L541.4 342.0 L540.9 343.0 L540.4 344.1 L540.0 345.1 L539.6 346.2 L539.3 347.3 L539.0 348.5 L538.8 349.6 L538.6 350.8 L538.6 351.9 L538.6 353.1 L538.7 354.3 L538.8 355.5 L539.0 356.5 L539.2 357.7 L539.4 359.0 L539.6 360.4 L539.9 361.7 L540.3 362.9 L540.7 364.2 L541.1 365.4 L541.6 366.6 L542.1 367.7 L542.7 368.8 L543.3 369.9 L543.9 370.9 L544.6 371.9 L545.3 372.9 L546.0 373.8 L546.8 374.7 L547.6 375.5 L548.4 376.3 L549.3 377.1 L550.2 377.8 L551.1 378.5 L552.0 379.1 L553.0 379.7 L555.0 376.3 L554.2 375.8 L553.4 375.3 L552.7 374.7 L552.0 374.0 L551.3 373.4 L550.7 372.7 L550.1 371.9 L549.6 371.1 L549.1 370.3 L548.6 369.4 L548.1 368.5 L547.7 367.6 L547.3 366.7 L547.0 365.7 L546.7 364.7 L546.4 363.7 L546.1 362.6 L545.9 361.5 L545.6 360.4 L545.4 359.3 L545.3 358.1 L545.1 356.9 L545.0 355.5 L544.7 354.4 L544.5 353.5 L544.4 352.6 L544.2 351.7 L544.1 350.8 L544.1 349.9 L544.0 349.0 L544.0 348.1 L544.1 347.1 L544.2 346.2 L544.3 345.2 L544.4 344.2 L544.7 343.3 L544.9 342.3 L545.2 341.3 L545.6 340.3 L546.0 339.3 L546.5 338.3 L547.0 337.3 L547.6 336.4 L548.3 335.4 L548.9 334.5 L549.7 333.6 Z" fill="#a4ec92" opacity="0.55"/>
<path d="M552.8 382.9 L554.1 382.7 L555.5 382.3 L556.9 381.9 L558.2 381.3 L559.5 380.7 L560.9 379.9 L562.2 379.1 L563.5 378.3 L564.8 377.4 L566.1 376.4 L567.4 375.4 L568.7 374.3 L570.1 373.2 L571.5 372.1 L572.9 370.9 L574.3 369.7 L575.7 368.5 L577.2 367.2 L578.7 365.9 L580.3 364.7 L581.9 363.4 L583.5 362.1 L585.1 360.8 L580.9 355.2 L579.2 356.5 L577.5 357.8 L575.9 359.0 L574.2 360.2 L572.7 361.4 L571.1 362.5 L569.6 363.6 L568.1 364.7 L566.6 365.7 L565.2 366.6 L563.8 367.5 L562.5 368.3 L561.2 369.1 L560.0 369.8 L558.8 370.4 L557.6 371.0 L556.5 371.5 L555.5 371.9 L554.5 372.3 L553.6 372.6 L552.8 372.8 L552.1 372.9 L551.2 373.1 Z" fill="#a0ec8e" stroke="#3a8a30" stroke-width="1.1" stroke-linejoin="round"/><path d="M552.2 379.5 L553.4 379.3 L554.5 379.0 L555.7 378.6 L556.9 378.1 L558.1 377.6 L559.3 377.0 L560.6 376.3 L561.8 375.5 L563.1 374.7 L564.4 373.8 L565.7 372.9 L567.0 371.9 L568.4 370.9 L569.8 369.8 L571.2 368.7 L572.6 367.6 L574.1 366.4 L575.6 365.2 L577.2 363.9 L578.7 362.7 L580.3 361.4 L582.0 360.1 L583.6 358.8 L582.4 357.2 L580.7 358.5 L579.0 359.7 L577.4 361.0 L575.8 362.2 L574.3 363.4 L572.7 364.6 L571.2 365.7 L569.8 366.8 L568.3 367.9 L566.9 368.9 L565.6 369.9 L564.2 370.8 L562.9 371.6 L561.6 372.4 L560.4 373.2 L559.2 373.8 L558.0 374.4 L556.9 375.0 L555.8 375.4 L554.7 375.8 L553.7 376.1 L552.8 376.4 L551.8 376.5 Z" fill="#a4ec92" opacity="0.55"/>
<path d="M553 374 L558 371 L556 378 Z" fill="#111"/>
<path d="M580.1 359.9 L581.0 360.6 L581.7 361.2 L582.4 361.9 L583.0 362.7 L583.5 363.6 L583.9 364.4 L584.3 365.3 L584.5 366.2 L584.7 367.1 L584.7 367.9 L584.7 368.8 L584.7 369.6 L584.6 370.4 L584.4 371.2 L584.1 371.9 L583.9 372.7 L583.6 373.4 L583.2 374.1 L582.9 374.8 L582.5 375.5 L582.1 376.3 L581.6 377.0 L581.1 377.9 L580.5 378.8 L579.9 379.7 L579.2 380.6 L578.5 381.4 L577.7 382.1 L576.9 382.9 L576.1 383.6 L575.2 384.3 L574.4 384.9 L573.4 385.6 L572.5 386.2 L571.6 386.8 L570.6 387.4 L569.6 388.0 L568.6 388.6 L567.5 389.2 L566.5 389.8 L565.5 390.4 L564.4 391.1 L563.4 391.8 L562.3 392.5 L561.3 393.3 L560.4 394.0 L571.6 408.0 L572.3 407.4 L573.0 406.9 L573.7 406.4 L574.5 405.8 L575.3 405.2 L576.2 404.5 L577.2 403.9 L578.2 403.1 L579.2 402.4 L580.3 401.6 L581.4 400.7 L582.5 399.8 L583.7 398.9 L584.8 397.9 L586.0 396.8 L587.2 395.7 L588.3 394.6 L589.5 393.3 L590.6 392.0 L591.7 390.7 L592.8 389.2 L593.9 387.7 L594.9 386.1 L595.8 384.3 L596.6 382.5 L597.2 380.7 L597.6 378.8 L597.9 377.0 L597.9 375.2 L597.9 373.4 L597.6 371.6 L597.3 369.9 L596.7 368.3 L596.1 366.8 L595.4 365.3 L594.6 364.0 L593.7 362.7 L592.8 361.5 L591.8 360.3 L590.7 359.3 L589.7 358.3 L588.5 357.3 L587.4 356.5 L586.2 355.6 L585.1 354.8 L583.9 354.1 Z" fill="#84d272" stroke="#3a8a30" stroke-width="1.1" stroke-linejoin="round"/><path d="M581.4 357.9 L582.4 358.5 L583.3 359.3 L584.2 360.0 L585.0 360.8 L585.7 361.7 L586.3 362.6 L586.9 363.6 L587.4 364.5 L587.8 365.5 L588.2 366.5 L588.5 367.6 L588.7 368.6 L588.8 369.7 L588.9 370.7 L588.9 371.8 L588.8 372.9 L588.6 374.0 L588.4 375.1 L588.0 376.2 L587.6 377.3 L587.2 378.5 L586.6 379.6 L585.9 380.8 L585.2 381.9 L584.4 383.1 L583.6 384.1 L582.7 385.1 L581.8 386.1 L580.9 387.0 L580.0 387.8 L579.0 388.7 L578.0 389.5 L577.0 390.2 L576.0 390.9 L575.0 391.7 L574.0 392.3 L573.0 393.0 L571.9 393.7 L570.9 394.3 L569.9 395.0 L568.9 395.6 L567.9 396.2 L567.0 396.9 L566.1 397.5 L565.1 398.2 L564.3 398.9 L567.7 403.1 L568.5 402.5 L569.2 401.9 L570.1 401.3 L571.0 400.7 L571.9 400.0 L572.8 399.4 L573.8 398.7 L574.8 398.0 L575.8 397.3 L576.9 396.6 L578.0 395.8 L579.0 395.0 L580.1 394.2 L581.2 393.3 L582.2 392.4 L583.3 391.5 L584.3 390.5 L585.4 389.4 L586.4 388.3 L587.3 387.1 L588.3 385.9 L589.2 384.6 L590.1 383.2 L590.9 381.8 L591.5 380.3 L592.1 378.9 L592.5 377.4 L592.8 376.0 L592.9 374.5 L593.0 373.1 L592.9 371.7 L592.7 370.4 L592.5 369.1 L592.1 367.8 L591.7 366.5 L591.2 365.4 L590.6 364.2 L589.9 363.1 L589.1 362.1 L588.4 361.1 L587.5 360.1 L586.6 359.2 L585.7 358.4 L584.7 357.6 L583.6 356.8 L582.6 356.1 Z" fill="#a4ec92" opacity="0.55"/>
<path d="M560.7 404.6 L562.0 406.1 L563.7 407.6 L565.4 408.9 L567.3 410.1 L569.2 411.1 L571.2 411.9 L573.2 412.5 L575.3 412.9 L577.4 413.2 L579.6 413.3 L581.7 413.3 L583.8 413.2 L585.9 412.9 L588.1 412.4 L590.2 411.9 L592.3 411.2 L594.4 410.5 L596.4 409.6 L598.5 408.6 L600.6 407.5 L602.6 406.3 L604.6 405.0 L606.6 403.7 L607.5 403.0 L608.3 402.5 L609.1 402.1 L609.9 401.8 L610.6 401.5 L611.3 401.3 L612.0 401.2 L612.6 401.2 L613.2 401.2 L613.7 401.2 L614.3 401.3 L614.8 401.5 L615.2 401.7 L615.7 401.9 L616.1 402.1 L616.6 402.5 L617.0 402.8 L617.5 403.2 L617.9 403.7 L618.3 404.2 L618.7 404.8 L619.1 405.5 L619.6 406.4 L628.4 401.6 L627.8 400.5 L627.0 399.3 L626.2 398.1 L625.3 397.1 L624.3 396.1 L623.2 395.2 L622.1 394.4 L620.9 393.7 L619.7 393.1 L618.5 392.6 L617.2 392.2 L615.8 392.0 L614.5 391.9 L613.1 391.8 L611.8 391.9 L610.4 392.1 L609.1 392.5 L607.7 392.9 L606.4 393.4 L605.1 394.0 L603.8 394.7 L602.6 395.5 L601.4 396.3 L599.7 397.5 L598.0 398.4 L596.3 399.3 L594.6 400.0 L592.9 400.6 L591.3 401.1 L589.6 401.5 L588.0 401.7 L586.4 401.9 L584.9 401.9 L583.5 401.8 L582.1 401.7 L580.7 401.4 L579.5 401.1 L578.3 400.7 L577.3 400.2 L576.2 399.7 L575.3 399.1 L574.4 398.5 L573.6 397.9 L572.9 397.2 L572.2 396.4 L571.3 395.4 Z" fill="#84d272" stroke="#3a8a30" stroke-width="1.1" stroke-linejoin="round"/><path d="M564.4 401.4 L565.6 402.7 L566.9 403.9 L568.3 405.1 L569.8 406.0 L571.3 406.9 L573.0 407.6 L574.6 408.2 L576.4 408.6 L578.2 409.0 L580.0 409.2 L581.8 409.2 L583.7 409.2 L585.6 409.0 L587.5 408.7 L589.4 408.3 L591.3 407.8 L593.3 407.2 L595.2 406.4 L597.1 405.6 L599.1 404.6 L601.0 403.6 L602.9 402.4 L604.8 401.1 L605.8 400.4 L606.8 399.8 L607.7 399.3 L608.7 398.8 L609.6 398.5 L610.5 398.2 L611.4 398.1 L612.3 397.9 L613.2 397.9 L614.0 398.0 L614.8 398.1 L615.6 398.2 L616.4 398.5 L617.1 398.8 L617.8 399.2 L618.5 399.6 L619.2 400.1 L619.8 400.7 L620.5 401.4 L621.1 402.1 L621.6 402.9 L622.2 403.7 L622.7 404.7 L625.3 403.3 L624.8 402.2 L624.1 401.2 L623.4 400.3 L622.7 399.4 L621.9 398.6 L621.1 397.9 L620.2 397.2 L619.3 396.6 L618.3 396.2 L617.3 395.8 L616.3 395.5 L615.3 395.3 L614.2 395.1 L613.1 395.1 L612.1 395.2 L611.0 395.3 L609.9 395.6 L608.7 395.9 L607.6 396.3 L606.5 396.8 L605.4 397.4 L604.3 398.1 L603.2 398.9 L601.4 400.1 L599.6 401.2 L597.8 402.2 L596.0 403.0 L594.2 403.8 L592.3 404.4 L590.5 404.9 L588.8 405.3 L587.0 405.6 L585.3 405.7 L583.6 405.8 L581.9 405.7 L580.3 405.6 L578.8 405.3 L577.3 405.0 L575.8 404.5 L574.5 404.0 L573.2 403.3 L571.9 402.6 L570.8 401.7 L569.6 400.8 L568.6 399.8 L567.6 398.6 Z" fill="#a4ec92" opacity="0.55"/>
<path d="M574.4 285.9 L574.9 287.2 L575.6 288.5 L576.3 289.9 L577.1 291.3 L577.9 292.6 L578.8 294.0 L579.7 295.4 L580.7 296.8 L581.8 298.1 L582.8 299.5 L584.0 300.8 L585.2 302.1 L586.4 303.4 L587.7 304.7 L589.0 305.9 L590.4 307.1 L591.9 308.3 L593.4 309.4 L594.9 310.5 L596.5 311.5 L598.2 312.5 L599.9 313.4 L601.3 314.1 L601.6 314.3 L602.3 314.6 L603.0 314.9 L603.7 315.2 L604.4 315.5 L605.2 315.7 L605.9 315.9 L606.6 316.1 L607.3 316.3 L608.1 316.4 L608.8 316.5 L609.5 316.6 L610.2 316.7 L610.9 316.8 L611.6 316.8 L612.3 316.9 L613.0 316.9 L613.7 316.9 L614.3 317.0 L615.0 317.0 L615.7 317.0 L616.3 317.0 L616.9 317.0 L617.1 307.0 L616.9 307.0 L616.7 306.9 L616.6 306.8 L616.4 306.7 L616.1 306.5 L615.9 306.3 L615.7 306.1 L615.4 305.8 L615.1 305.5 L614.8 305.2 L614.5 304.8 L614.2 304.5 L613.8 304.1 L613.5 303.7 L613.1 303.3 L612.7 302.9 L612.3 302.5 L611.8 302.1 L611.3 301.7 L610.8 301.3 L610.3 300.9 L609.7 300.5 L608.7 299.9 L607.3 299.2 L606.2 298.6 L605.3 298.0 L604.3 297.3 L603.4 296.5 L602.5 295.7 L601.7 294.8 L600.8 293.9 L600.0 293.0 L599.3 292.0 L598.5 291.0 L597.8 290.0 L597.2 288.9 L596.5 287.9 L595.9 286.8 L595.3 285.7 L594.7 284.6 L594.2 283.5 L593.6 282.4 L593.1 281.3 L592.6 280.2 L592.1 279.2 L591.6 278.1 Z" fill="#84d272" stroke="#3a8a30" stroke-width="1.1" stroke-linejoin="round"/><path d="M580.4 283.2 L581.0 284.4 L581.6 285.6 L582.2 286.9 L582.9 288.2 L583.6 289.4 L584.4 290.7 L585.2 292.0 L586.0 293.3 L586.9 294.5 L587.9 295.8 L588.8 297.0 L589.8 298.3 L590.9 299.4 L592.0 300.6 L593.2 301.7 L594.4 302.8 L595.6 303.9 L596.9 304.9 L598.2 305.9 L599.6 306.8 L601.0 307.6 L602.5 308.4 L603.9 309.1 L604.4 309.4 L605.1 309.8 L605.7 310.2 L606.4 310.5 L607.0 310.8 L607.6 311.1 L608.3 311.4 L608.9 311.6 L609.5 311.9 L610.1 312.1 L610.7 312.3 L611.3 312.5 L611.8 312.7 L612.4 312.8 L612.9 313.0 L613.5 313.1 L614.0 313.2 L614.5 313.3 L615.0 313.4 L615.5 313.4 L616.0 313.5 L616.5 313.5 L617.0 313.5 L617.0 310.5 L616.7 310.5 L616.4 310.4 L616.0 310.4 L615.7 310.3 L615.3 310.2 L614.9 310.0 L614.5 309.8 L614.1 309.7 L613.7 309.4 L613.2 309.2 L612.8 309.0 L612.3 308.7 L611.8 308.4 L611.3 308.1 L610.8 307.8 L610.3 307.5 L609.8 307.1 L609.2 306.8 L608.7 306.4 L608.1 306.1 L607.5 305.7 L606.9 305.3 L606.1 304.9 L604.7 304.2 L603.4 303.5 L602.2 302.7 L601.0 301.9 L599.9 301.0 L598.8 300.1 L597.7 299.1 L596.7 298.1 L595.7 297.1 L594.8 296.0 L593.9 294.9 L593.0 293.8 L592.1 292.6 L591.3 291.5 L590.6 290.3 L589.8 289.1 L589.1 287.9 L588.5 286.7 L587.8 285.5 L587.2 284.3 L586.7 283.1 L586.1 282.0 L585.6 280.8 Z" fill="#a4ec92" opacity="0.55"/>
<path d="M573 281 L592 279.5" fill="none" stroke="#3a8a30" stroke-width="5.1" stroke-linecap="round" stroke-linejoin="round"/><path d="M573 281 L592 279.5" fill="none" stroke="#84d272" stroke-width="3.5" stroke-linecap="round" stroke-linejoin="round"/><path d="M573 281 L592 279.5" fill="none" stroke="#a4ec92" stroke-width="1.2" stroke-linecap="round" stroke-linejoin="round" opacity="0.7"/>
<path d="M615.8 316.1 L617.3 315.5 L618.8 314.7 L620.2 313.7 L621.5 312.7 L622.8 311.6 L623.9 310.4 L625.0 309.2 L626.0 307.9 L626.9 306.5 L627.8 305.1 L628.5 303.6 L629.2 302.1 L629.8 300.5 L630.3 299.0 L630.8 297.4 L631.2 295.8 L631.6 294.1 L631.9 292.4 L632.1 290.8 L632.3 289.1 L632.4 287.4 L632.5 285.7 L632.5 284.0 L632.5 283.0 L632.4 282.0 L632.3 281.0 L632.1 280.1 L631.9 279.1 L631.6 278.2 L631.3 277.4 L631.0 276.5 L630.6 275.7 L630.2 275.0 L629.7 274.2 L629.3 273.5 L628.8 272.9 L628.2 272.2 L627.7 271.7 L627.1 271.1 L626.6 270.6 L626.0 270.1 L625.4 269.7 L624.8 269.3 L624.2 268.9 L623.5 268.5 L623.0 268.2 L621.0 271.8 L621.5 272.0 L621.8 272.3 L622.1 272.6 L622.4 272.9 L622.7 273.3 L622.9 273.7 L623.0 274.2 L623.2 274.6 L623.3 275.1 L623.4 275.6 L623.5 276.1 L623.5 276.7 L623.6 277.2 L623.6 277.8 L623.6 278.4 L623.6 279.0 L623.6 279.7 L623.6 280.3 L623.5 281.0 L623.5 281.7 L623.5 282.5 L623.5 283.2 L623.5 284.0 L623.5 285.4 L623.4 286.9 L623.3 288.3 L623.2 289.7 L623.0 291.0 L622.7 292.4 L622.4 293.7 L622.1 295.0 L621.8 296.2 L621.3 297.4 L620.9 298.6 L620.4 299.7 L619.9 300.7 L619.3 301.7 L618.7 302.7 L618.0 303.5 L617.3 304.3 L616.6 305.1 L615.8 305.7 L615.0 306.4 L614.2 306.9 L613.3 307.4 L612.2 307.9 Z" fill="#9ae888" stroke="#3a8a30" stroke-width="1.1" stroke-linejoin="round"/><path d="M614.5 313.2 L615.9 312.6 L617.2 311.9 L618.4 311.1 L619.5 310.3 L620.6 309.3 L621.6 308.3 L622.6 307.2 L623.4 306.0 L624.2 304.8 L625.0 303.6 L625.7 302.2 L626.3 300.9 L626.8 299.5 L627.3 298.0 L627.8 296.5 L628.1 295.0 L628.5 293.5 L628.7 292.0 L629.0 290.4 L629.1 288.8 L629.3 287.2 L629.3 285.6 L629.3 284.0 L629.3 283.1 L629.3 282.2 L629.2 281.3 L629.1 280.4 L629.0 279.6 L628.8 278.7 L628.6 277.9 L628.4 277.2 L628.1 276.4 L627.9 275.7 L627.6 275.1 L627.2 274.4 L626.9 273.8 L626.5 273.2 L626.1 272.7 L625.7 272.2 L625.3 271.7 L624.8 271.2 L624.4 270.8 L623.9 270.4 L623.3 270.1 L622.8 269.8 L622.3 269.5 L621.7 270.5 L622.2 270.8 L622.6 271.1 L623.1 271.4 L623.5 271.8 L623.8 272.2 L624.2 272.6 L624.5 273.1 L624.8 273.6 L625.0 274.1 L625.3 274.6 L625.5 275.2 L625.7 275.8 L625.9 276.4 L626.0 277.1 L626.2 277.7 L626.3 278.4 L626.4 279.2 L626.5 279.9 L626.5 280.7 L626.6 281.5 L626.6 282.3 L626.6 283.1 L626.7 284.0 L626.6 285.5 L626.6 287.0 L626.4 288.6 L626.3 290.1 L626.1 291.5 L625.8 293.0 L625.5 294.4 L625.2 295.8 L624.8 297.2 L624.3 298.5 L623.8 299.8 L623.2 301.1 L622.6 302.3 L622.0 303.4 L621.2 304.5 L620.5 305.5 L619.6 306.5 L618.8 307.4 L617.8 308.2 L616.8 308.9 L615.8 309.6 L614.7 310.2 L613.5 310.8 Z" fill="#a4ec92" opacity="0.55"/>
<path d="M619 296 C621 302 620 307 617 310" stroke="#111" stroke-width="1.6" fill="none"/>
<path d="M620.8 268.5 L621.4 270.6 L622.2 272.7 L623.0 274.7 L623.8 276.7 L624.8 278.6 L625.8 280.5 L626.9 282.3 L628.1 284.1 L629.4 285.8 L630.7 287.4 L632.0 288.9 L633.4 290.4 L634.9 291.8 L636.4 293.2 L637.9 294.4 L639.5 295.6 L641.1 296.7 L642.7 297.8 L644.3 298.8 L646.0 299.7 L647.7 300.6 L649.5 301.4 L651.2 302.1 L654.8 293.9 L653.4 293.2 L652.2 292.5 L651.1 291.7 L650.0 290.8 L649.0 289.8 L648.1 288.7 L647.3 287.6 L646.5 286.4 L645.8 285.1 L645.2 283.8 L644.6 282.5 L644.0 281.1 L643.5 279.7 L643.0 278.2 L642.6 276.7 L642.1 275.2 L641.7 273.6 L641.3 272.0 L640.9 270.4 L640.5 268.7 L640.1 267.0 L639.6 265.3 L639.2 263.5 Z" fill="#84d272" stroke="#3a8a30" stroke-width="1.1" stroke-linejoin="round"/><path d="M627.3 266.8 L627.8 268.7 L628.4 270.7 L629.1 272.6 L629.8 274.5 L630.6 276.3 L631.4 278.1 L632.3 279.8 L633.2 281.5 L634.1 283.1 L635.2 284.7 L636.2 286.2 L637.3 287.7 L638.5 289.0 L639.7 290.4 L640.9 291.6 L642.2 292.8 L643.5 293.9 L644.9 295.0 L646.3 296.0 L647.8 296.9 L649.3 297.7 L650.9 298.5 L652.4 299.2 L653.6 296.8 L652.1 296.1 L650.7 295.3 L649.3 294.5 L648.0 293.6 L646.8 292.6 L645.7 291.5 L644.5 290.4 L643.5 289.2 L642.5 287.9 L641.6 286.6 L640.7 285.3 L639.8 283.8 L639.0 282.4 L638.2 280.9 L637.5 279.3 L636.8 277.7 L636.2 276.0 L635.5 274.3 L634.9 272.6 L634.4 270.8 L633.8 269.0 L633.3 267.1 L632.7 265.2 Z" fill="#a4ec92" opacity="0.55"/>
<path d="M619 270 L637 263" fill="none" stroke="#3a8a30" stroke-width="5.1" stroke-linecap="round" stroke-linejoin="round"/><path d="M619 270 L637 263" fill="none" stroke="#84d272" stroke-width="3.5" stroke-linecap="round" stroke-linejoin="round"/><path d="M619 270 L637 263" fill="none" stroke="#a4ec92" stroke-width="1.2" stroke-linecap="round" stroke-linejoin="round" opacity="0.7"/>
<path d="M650 298 C660 296 667 300 671 306 C674 314 673 322 671 330" fill="none" stroke="#3a8a30" stroke-width="6.199999999999999" stroke-linecap="round" stroke-linejoin="round"/><path d="M650 298 C660 296 667 300 671 306 C674 314 673 322 671 330" fill="none" stroke="#84d272" stroke-width="4.6" stroke-linecap="round" stroke-linejoin="round"/><path d="M650 298 C660 296 667 300 671 306 C674 314 673 322 671 330" fill="none" stroke="#a4ec92" stroke-width="1.6" stroke-linecap="round" stroke-linejoin="round" opacity="0.7"/>
<path d="M686 296 C692 294 696 298 698 306 C694 306 690 302 686 296 Z" fill="#222"/>
<path d="M680.2 295.8 L681.8 295.1 L683.3 294.7 L684.9 294.4 L686.5 294.2 L688.0 294.2 L689.6 294.4 L691.1 294.6 L692.6 295.0 L694.0 295.5 L695.4 296.2 L696.7 296.9 L698.0 297.7 L699.2 298.6 L700.4 299.5 L701.5 300.5 L702.6 301.6 L703.6 302.8 L704.5 304.0 L705.5 305.3 L706.3 306.6 L707.1 308.0 L707.9 309.4 L708.3 310.1 L708.2 310.3 L708.3 311.7 L708.3 312.9 L708.3 314.1 L708.1 315.3 L707.9 316.4 L707.7 317.5 L707.4 318.6 L707.0 319.6 L706.5 320.6 L706.0 321.6 L705.4 322.5 L704.8 323.3 L704.0 324.1 L703.2 324.9 L702.4 325.6 L701.5 326.3 L700.5 326.8 L699.4 327.3 L698.3 327.8 L697.1 328.1 L695.9 328.4 L694.7 328.5 L693.8 328.5 L692.6 328.5 L691.4 328.5 L690.1 328.5 L688.9 328.5 L687.7 328.5 L686.5 328.5 L685.3 328.5 L684.1 328.5 L682.9 328.5 L681.7 328.4 L680.5 328.4 L679.4 328.4 L678.3 328.3 L677.2 328.3 L676.1 328.2 L675.1 328.1 L674.1 328.1 L673.1 328.0 L672.2 327.9 L671.3 327.8 L670.4 327.7 L669.6 327.5 L668.4 334.5 L669.2 334.6 L670.1 334.8 L670.9 335.0 L671.8 335.2 L672.8 335.5 L673.8 335.7 L674.8 336.0 L675.9 336.3 L677.0 336.6 L678.1 336.9 L679.3 337.2 L680.5 337.5 L681.7 337.8 L682.9 338.0 L684.2 338.3 L685.5 338.6 L686.8 338.8 L688.1 339.0 L689.5 339.2 L690.8 339.3 L692.2 339.4 L693.6 339.5 L695.3 339.5 L697.5 339.3 L699.5 338.9 L701.4 338.5 L703.4 337.9 L705.2 337.2 L707.0 336.3 L708.7 335.4 L710.4 334.3 L712.0 333.2 L713.5 331.9 L714.9 330.5 L716.2 329.0 L717.4 327.4 L718.5 325.6 L719.4 323.8 L720.3 322.0 L721.0 320.0 L721.5 318.0 L721.9 315.9 L722.2 313.7 L722.2 311.5 L722.2 309.3 L721.7 305.9 L720.2 302.8 L718.8 300.6 L717.3 298.6 L715.7 296.7 L714.0 295.1 L712.2 293.5 L710.3 292.1 L708.3 290.9 L706.3 289.9 L704.3 289.0 L702.2 288.3 L700.1 287.7 L698.0 287.3 L695.8 287.0 L693.7 286.9 L691.7 286.9 L689.6 287.0 L687.5 287.3 L685.5 287.7 L683.5 288.1 L681.6 288.7 L679.7 289.5 L677.8 290.2 Z" fill="#84d272" stroke="#3a8a30" stroke-width="1.1" stroke-linejoin="round"/><path d="M679.3 293.8 L681.0 293.1 L682.7 292.6 L684.4 292.2 L686.1 291.9 L687.9 291.8 L689.6 291.8 L691.3 291.9 L693.0 292.2 L694.6 292.6 L696.3 293.1 L697.9 293.7 L699.5 294.4 L701.0 295.2 L702.5 296.1 L703.9 297.2 L705.3 298.3 L706.6 299.5 L707.9 300.9 L709.1 302.3 L710.2 303.8 L711.2 305.4 L712.2 307.1 L713.0 308.6 L713.1 310.0 L713.2 311.6 L713.2 313.2 L713.0 314.7 L712.8 316.2 L712.5 317.7 L712.1 319.1 L711.6 320.4 L711.0 321.7 L710.3 323.0 L709.6 324.2 L708.7 325.3 L707.8 326.3 L706.8 327.3 L705.7 328.2 L704.6 329.0 L703.4 329.8 L702.1 330.5 L700.8 331.0 L699.4 331.5 L697.9 331.9 L696.4 332.2 L694.9 332.4 L693.7 332.3 L692.4 332.3 L691.2 332.3 L689.9 332.2 L688.6 332.2 L687.4 332.1 L686.1 332.0 L684.9 331.9 L683.7 331.8 L682.5 331.7 L681.3 331.6 L680.1 331.5 L679.0 331.3 L677.8 331.2 L676.7 331.1 L675.7 330.9 L674.6 330.8 L673.6 330.7 L672.7 330.5 L671.7 330.4 L670.8 330.2 L670.0 330.1 L669.2 330.0 L668.8 332.0 L669.6 332.2 L670.5 332.3 L671.4 332.5 L672.3 332.7 L673.2 332.9 L674.3 333.1 L675.3 333.3 L676.4 333.5 L677.4 333.7 L678.6 333.9 L679.7 334.1 L680.9 334.3 L682.1 334.5 L683.3 334.7 L684.6 334.9 L685.8 335.0 L687.1 335.2 L688.4 335.3 L689.7 335.4 L691.0 335.5 L692.3 335.6 L693.7 335.6 L695.1 335.6 L696.9 335.4 L698.7 335.1 L700.3 334.7 L702.0 334.2 L703.6 333.6 L705.1 332.8 L706.5 332.0 L707.9 331.0 L709.2 330.0 L710.4 328.9 L711.6 327.7 L712.6 326.4 L713.6 325.0 L714.4 323.5 L715.2 322.0 L715.9 320.4 L716.4 318.8 L716.8 317.0 L717.1 315.3 L717.3 313.4 L717.4 311.6 L717.3 309.6 L717.0 307.4 L715.9 305.1 L714.7 303.2 L713.5 301.4 L712.1 299.7 L710.7 298.2 L709.2 296.8 L707.6 295.5 L706.0 294.3 L704.3 293.3 L702.5 292.4 L700.7 291.6 L698.9 290.9 L697.1 290.4 L695.2 290.0 L693.3 289.7 L691.5 289.6 L689.6 289.6 L687.7 289.7 L685.9 290.0 L684.0 290.3 L682.2 290.8 L680.4 291.4 L678.7 292.2 Z" fill="#a4ec92" opacity="0.55"/>
<path d="M670.8 335.0 L672.1 334.2 L673.4 333.7 L674.8 333.2 L676.3 332.8 L677.8 332.5 L679.3 332.4 L680.9 332.3 L682.5 332.4 L684.0 332.5 L685.6 332.7 L687.2 333.0 L688.7 333.4 L690.2 333.9 L691.6 334.4 L693.0 335.0 L694.4 335.6 L695.7 336.3 L696.8 337.0 L698.0 337.8 L699.0 338.6 L699.9 339.4 L700.8 340.2 L700.5 339.5 L700.0 337.5 L699.9 337.9 L699.8 338.3 L699.6 338.6 L699.4 339.0 L699.1 339.3 L698.8 339.7 L698.4 340.0 L697.9 340.4 L697.3 340.8 L696.6 341.1 L695.9 341.5 L695.0 341.8 L694.1 342.1 L693.2 342.4 L692.2 342.7 L691.1 342.9 L690.0 343.1 L688.8 343.2 L687.6 343.3 L686.4 343.4 L685.2 343.5 L684.0 343.5 L683.3 343.5 L682.5 343.5 L681.8 343.5 L681.2 343.5 L680.5 343.5 L679.9 343.5 L679.2 343.4 L678.6 343.4 L678.0 343.3 L677.5 343.2 L676.9 343.1 L676.4 343.0 L675.9 342.9 L675.4 342.7 L674.9 342.5 L674.4 342.2 L674.0 341.9 L673.6 341.6 L673.3 341.3 L673.0 340.9 L672.8 340.4 L672.6 339.9 L672.4 339.3 L665.6 340.7 L665.7 341.6 L666.0 342.6 L666.3 343.6 L666.6 344.6 L667.0 345.6 L667.5 346.6 L668.0 347.5 L668.6 348.4 L669.2 349.3 L669.9 350.2 L670.7 351.0 L671.5 351.8 L672.4 352.5 L673.4 353.2 L674.4 353.9 L675.4 354.5 L676.5 355.0 L677.7 355.4 L678.9 355.8 L680.1 356.1 L681.4 356.3 L682.7 356.5 L684.0 356.5 L685.6 356.5 L687.3 356.4 L688.9 356.2 L690.5 356.0 L692.1 355.8 L693.7 355.4 L695.3 355.1 L696.8 354.6 L698.4 354.1 L699.8 353.5 L701.3 352.8 L702.7 352.0 L704.0 351.2 L705.3 350.2 L706.6 349.2 L707.7 348.0 L708.8 346.8 L709.7 345.4 L710.5 343.9 L711.2 342.2 L711.6 340.5 L711.9 338.8 L711.5 334.5 L709.0 331.5 L707.5 330.2 L705.8 329.0 L704.1 327.9 L702.2 327.0 L700.3 326.2 L698.4 325.5 L696.4 324.9 L694.4 324.5 L692.4 324.1 L690.3 323.9 L688.3 323.7 L686.2 323.7 L684.2 323.8 L682.1 324.0 L680.1 324.2 L678.1 324.6 L676.2 325.1 L674.3 325.7 L672.4 326.4 L670.6 327.1 L668.8 328.0 L667.2 329.0 Z" fill="#84d272" stroke="#3a8a30" stroke-width="1.1" stroke-linejoin="round"/><path d="M669.5 332.9 L671.0 332.1 L672.4 331.4 L674.0 330.8 L675.6 330.3 L677.2 329.9 L678.9 329.7 L680.6 329.5 L682.4 329.4 L684.1 329.4 L685.8 329.6 L687.6 329.8 L689.3 330.1 L691.0 330.5 L692.6 330.9 L694.2 331.5 L695.8 332.1 L697.3 332.8 L698.7 333.5 L700.1 334.3 L701.4 335.2 L702.6 336.2 L703.7 337.2 L704.4 337.7 L704.1 338.0 L704.0 338.8 L703.8 339.7 L703.4 340.5 L703.0 341.2 L702.5 341.9 L701.9 342.6 L701.2 343.2 L700.5 343.9 L699.7 344.4 L698.7 345.0 L697.8 345.4 L696.7 345.9 L695.6 346.3 L694.5 346.7 L693.3 347.0 L692.0 347.3 L690.7 347.5 L689.4 347.7 L688.1 347.9 L686.7 348.0 L685.4 348.0 L684.0 348.1 L683.1 348.0 L682.1 348.0 L681.2 347.9 L680.4 347.8 L679.5 347.7 L678.7 347.5 L677.9 347.3 L677.1 347.1 L676.4 346.8 L675.7 346.5 L675.0 346.2 L674.4 345.8 L673.8 345.4 L673.2 345.0 L672.7 344.6 L672.2 344.1 L671.7 343.6 L671.3 343.0 L671.0 342.4 L670.6 341.8 L670.4 341.2 L670.2 340.5 L670.0 339.8 L668.0 340.2 L668.1 341.0 L668.4 341.9 L668.6 342.7 L669.0 343.4 L669.3 344.2 L669.8 344.9 L670.3 345.7 L670.8 346.3 L671.4 347.0 L672.0 347.6 L672.7 348.2 L673.4 348.8 L674.2 349.3 L675.0 349.8 L675.9 350.2 L676.8 350.6 L677.7 350.9 L678.7 351.2 L679.7 351.5 L680.7 351.7 L681.8 351.8 L682.9 351.9 L684.0 351.9 L685.5 351.9 L687.0 351.9 L688.5 351.7 L689.9 351.6 L691.4 351.3 L692.8 351.0 L694.2 350.7 L695.6 350.3 L696.9 349.9 L698.2 349.4 L699.4 348.8 L700.6 348.2 L701.7 347.5 L702.7 346.8 L703.7 346.0 L704.6 345.1 L705.4 344.2 L706.1 343.1 L706.7 342.0 L707.2 340.9 L707.5 339.6 L707.7 338.3 L707.6 336.3 L706.1 334.6 L704.8 333.4 L703.4 332.4 L701.9 331.4 L700.3 330.5 L698.7 329.7 L697.0 329.0 L695.2 328.4 L693.4 327.9 L691.6 327.5 L689.8 327.2 L687.9 327.0 L686.0 326.9 L684.1 326.8 L682.3 326.9 L680.4 327.1 L678.6 327.3 L676.8 327.7 L675.0 328.2 L673.3 328.7 L671.6 329.4 L670.0 330.2 L668.5 331.1 Z" fill="#a4ec92" opacity="0.55"/>
<path d="M654.6 356.1 L654.1 357.9 L653.7 359.7 L653.3 361.6 L653.1 363.5 L653.0 365.4 L653.0 367.3 L653.1 369.1 L653.4 371.0 L653.8 372.9 L654.4 374.7 L655.1 376.5 L656.1 378.3 L657.2 380.0 L658.5 381.6 L660.0 383.1 L661.6 384.5 L663.4 385.8 L665.4 386.9 L667.5 388.0 L669.7 388.8 L672.1 389.5 L674.6 390.1 L677.4 390.5 L679.9 390.6 L682.3 390.6 L684.6 390.4 L686.8 390.2 L689.0 389.8 L691.2 389.3 L693.3 388.7 L695.3 387.9 L697.3 387.1 L699.2 386.1 L701.0 384.9 L702.8 383.7 L704.4 382.3 L705.9 380.7 L707.2 379.1 L708.4 377.3 L709.5 375.4 L710.4 373.4 L711.2 371.3 L711.8 369.1 L712.2 366.8 L712.4 364.4 L712.5 362.1 L712.5 360.7 L712.4 359.4 L712.3 358.2 L712.2 357.1 L712.0 356.0 L711.9 355.0 L711.6 354.0 L711.4 353.0 L711.2 352.2 L710.9 351.3 L710.6 350.5 L710.3 349.8 L709.9 349.1 L709.6 348.4 L709.2 347.8 L708.9 347.2 L708.5 346.7 L708.1 346.1 L707.7 345.6 L707.3 345.2 L706.9 344.7 L706.5 344.3 L706.2 343.9 L701.8 348.1 L702.0 348.3 L702.1 348.4 L702.1 348.6 L702.2 348.9 L702.2 349.1 L702.2 349.4 L702.2 349.8 L702.2 350.2 L702.2 350.6 L702.2 351.0 L702.1 351.6 L702.1 352.1 L702.0 352.7 L701.9 353.4 L701.9 354.1 L701.8 354.9 L701.7 355.7 L701.7 356.6 L701.6 357.5 L701.6 358.5 L701.5 359.6 L701.5 360.8 L701.5 361.9 L701.4 363.6 L701.3 365.1 L701.0 366.5 L700.6 367.8 L700.1 369.0 L699.5 370.0 L698.9 371.0 L698.2 371.9 L697.4 372.7 L696.5 373.4 L695.6 374.1 L694.6 374.7 L693.5 375.3 L692.3 375.8 L691.0 376.3 L689.7 376.6 L688.3 377.0 L686.8 377.2 L685.2 377.4 L683.6 377.5 L681.9 377.6 L680.2 377.6 L678.6 377.5 L676.8 377.3 L675.0 377.0 L673.4 376.6 L671.9 376.2 L670.5 375.8 L669.2 375.3 L668.1 374.8 L667.0 374.2 L666.0 373.6 L665.1 373.0 L664.3 372.2 L663.5 371.4 L662.9 370.6 L662.2 369.7 L661.7 368.6 L661.3 367.5 L660.9 366.4 L660.7 365.1 L660.6 363.8 L660.6 362.4 L660.7 361.0 L661.0 359.5 L661.4 357.9 Z" fill="#84d272" stroke="#3a8a30" stroke-width="1.1" stroke-linejoin="round"/><path d="M657.0 356.7 L656.5 358.4 L656.1 360.2 L655.9 361.9 L655.7 363.6 L655.7 365.3 L655.8 366.9 L656.0 368.6 L656.3 370.2 L656.8 371.7 L657.3 373.3 L658.1 374.7 L659.0 376.2 L660.0 377.5 L661.1 378.8 L662.4 380.0 L663.9 381.1 L665.5 382.1 L667.2 383.0 L669.0 383.9 L671.0 384.6 L673.1 385.1 L675.4 385.6 L677.8 385.9 L680.0 386.0 L682.1 386.0 L684.2 385.9 L686.3 385.7 L688.2 385.4 L690.2 385.0 L692.0 384.5 L693.8 383.8 L695.6 383.1 L697.2 382.3 L698.8 381.4 L700.2 380.3 L701.6 379.2 L702.9 377.9 L704.1 376.5 L705.1 375.1 L706.0 373.5 L706.8 371.8 L707.5 370.1 L708.0 368.2 L708.3 366.2 L708.6 364.2 L708.6 362.0 L708.6 360.7 L708.6 359.5 L708.6 358.3 L708.5 357.2 L708.4 356.2 L708.3 355.2 L708.2 354.3 L708.1 353.4 L707.9 352.6 L707.8 351.8 L707.6 351.1 L707.4 350.4 L707.2 349.8 L707.0 349.2 L706.8 348.6 L706.5 348.1 L706.3 347.6 L706.0 347.2 L705.8 346.8 L705.5 346.4 L705.2 346.0 L704.9 345.7 L704.7 345.4 L703.3 346.6 L703.6 346.9 L703.8 347.1 L704.0 347.4 L704.1 347.7 L704.3 348.1 L704.4 348.5 L704.6 348.9 L704.7 349.3 L704.8 349.8 L704.9 350.4 L705.0 350.9 L705.0 351.6 L705.1 352.2 L705.2 353.0 L705.2 353.7 L705.2 354.6 L705.3 355.4 L705.3 356.4 L705.3 357.4 L705.3 358.4 L705.3 359.6 L705.3 360.7 L705.4 362.0 L705.3 363.9 L705.1 365.7 L704.7 367.4 L704.3 369.0 L703.7 370.5 L703.0 371.9 L702.2 373.2 L701.3 374.4 L700.4 375.5 L699.3 376.5 L698.1 377.5 L696.8 378.3 L695.5 379.1 L694.1 379.8 L692.5 380.3 L691.0 380.9 L689.3 381.3 L687.6 381.6 L685.8 381.9 L683.9 382.0 L682.0 382.1 L680.1 382.1 L678.2 382.1 L676.0 381.8 L674.0 381.4 L672.1 380.9 L670.3 380.3 L668.7 379.7 L667.2 379.0 L665.8 378.2 L664.5 377.3 L663.4 376.4 L662.4 375.4 L661.4 374.3 L660.6 373.2 L659.9 372.0 L659.3 370.8 L658.8 369.5 L658.4 368.1 L658.1 366.7 L658.0 365.2 L658.0 363.7 L658.0 362.1 L658.2 360.5 L658.6 358.9 L659.0 357.3 Z" fill="#a4ec92" opacity="0.55"/>
<path d="M660 320 L680 308" fill="none" stroke="#3a8a30" stroke-width="6.1" stroke-linecap="round" stroke-linejoin="round"/><path d="M660 320 L680 308" fill="none" stroke="#84d272" stroke-width="4.5" stroke-linecap="round" stroke-linejoin="round"/><path d="M660 320 L680 308" fill="none" stroke="#a4ec92" stroke-width="1.6" stroke-linecap="round" stroke-linejoin="round" opacity="0.7"/>
<path d="M574.3 447.2 L580.0 444.0" stroke="#999" stroke-width="4.9" stroke-linecap="round"/><path d="M574.3 447.2 L580.0 444.0" stroke="#f4f4f4" stroke-width="4.0" stroke-linecap="round"/>
<path d="M574.3 459.8 L580.0 463.0" stroke="#999" stroke-width="4.9" stroke-linecap="round"/><path d="M574.3 459.8 L580.0 463.0" stroke="#f4f4f4" stroke-width="4.0" stroke-linecap="round"/>
<path d="M563.5 466.0 L563.5 472.5" stroke="#999" stroke-width="4.9" stroke-linecap="round"/><path d="M563.5 466.0 L563.5 472.5" stroke="#f4f4f4" stroke-width="4.0" stroke-linecap="round"/>
<path d="M552.7 459.8 L547.0 463.0" stroke="#999" stroke-width="4.9" stroke-linecap="round"/><path d="M552.7 459.8 L547.0 463.0" stroke="#f4f4f4" stroke-width="4.0" stroke-linecap="round"/>
<path d="M552.7 447.2 L547.0 444.0" stroke="#999" stroke-width="4.9" stroke-linecap="round"/><path d="M552.7 447.2 L547.0 444.0" stroke="#f4f4f4" stroke-width="4.0" stroke-linecap="round"/>
<path d="M563.5 441.0 L574.3 447.2 L574.3 459.8 L563.5 466.0 L552.7 459.8 L552.7 447.2 L563.5 441.0" fill="none" stroke="#a87410" stroke-width="5.6000000000000005" stroke-linecap="round" stroke-linejoin="round"/><path d="M563.5 441.0 L574.3 447.2 L574.3 459.8 L563.5 466.0 L552.7 459.8 L552.7 447.2 L563.5 441.0" fill="none" stroke="#f2b322" stroke-width="4.4" stroke-linecap="round" stroke-linejoin="round"/>
<path d="M563.5 441 L565 428 L561 418 L562 410" fill="none" stroke="#a87410" stroke-width="5.4" stroke-linecap="round" stroke-linejoin="round"/><path d="M563.5 441 L565 428 L561 418 L562 410" fill="none" stroke="#f2b322" stroke-width="4.2" stroke-linecap="round" stroke-linejoin="round"/>
<path d="M562 410 L562 403" stroke="#444" stroke-width="5.4" stroke-linecap="round"/><path d="M562 410 L562 403" stroke="#e80000" stroke-width="4.5" stroke-linecap="round"/>
<path d="M561 418 L555 413" stroke="#444" stroke-width="5.4" stroke-linecap="round"/><path d="M561 418 L555 413" stroke="#e80000" stroke-width="4.5" stroke-linecap="round"/>
<path d="M565 428 L573 424" stroke="#444" stroke-width="4.9" stroke-linecap="round"/><path d="M565 428 L573 424" stroke="#f2b322" stroke-width="4.0" stroke-linecap="round"/>
<path d="M573 424 L581 422" stroke="#444" stroke-width="5.4" stroke-linecap="round"/><path d="M573 424 L581 422" stroke="#1010e0" stroke-width="4.5" stroke-linecap="round"/>
<path d="M565 428 L557 428" stroke="#999" stroke-width="4.65" stroke-linecap="round"/><path d="M565 428 L557 428" stroke="#f4f4f4" stroke-width="3.75" stroke-linecap="round"/>
<path d="M548 440 L552 432 L548 424" fill="none" stroke="#a87410" stroke-width="5.0" stroke-linecap="round" stroke-linejoin="round"/><path d="M548 440 L552 432 L548 424" fill="none" stroke="#f2b322" stroke-width="3.8" stroke-linecap="round" stroke-linejoin="round"/>
<path d="M548 424 L544 420" stroke="#999" stroke-width="4.65" stroke-linecap="round"/><path d="M548 424 L544 420" stroke="#f4f4f4" stroke-width="3.75" stroke-linecap="round"/>
<path d="M548 440 L544 445" stroke="#999" stroke-width="4.65" stroke-linecap="round"/><path d="M548 440 L544 445" stroke="#f4f4f4" stroke-width="3.75" stroke-linecap="round"/>
<path d="M552 432 L558 434" stroke="#999" stroke-width="4.65" stroke-linecap="round"/><path d="M552 432 L558 434" stroke="#f4f4f4" stroke-width="3.75" stroke-linecap="round"/>
<path d="M574 440 L580 446" stroke="#444" stroke-width="5.4" stroke-linecap="round"/><path d="M574 440 L580 446" stroke="#111" stroke-width="4.5" stroke-linecap="round"/>
<path d="M578 436 L584 434" stroke="#999" stroke-width="4.65" stroke-linecap="round"/><path d="M578 436 L584 434" stroke="#f4f4f4" stroke-width="3.75" stroke-linecap="round"/>
<path d="M581 422 L592 419 L600 424 L606 415 L614 419 L622 411 L628 405" fill="none" stroke="#a87410" stroke-width="5.4" stroke-linecap="round" stroke-linejoin="round"/><path d="M581 422 L592 419 L600 424 L606 415 L614 419 L622 411 L628 405" fill="none" stroke="#f2b322" stroke-width="4.2" stroke-linecap="round" stroke-linejoin="round"/>
<path d="M606 415 L606 407" stroke="#999" stroke-width="4.65" stroke-linecap="round"/><path d="M606 415 L606 407" stroke="#f4f4f4" stroke-width="3.75" stroke-linecap="round"/>
<path d="M614 419 L616 427" stroke="#999" stroke-width="4.65" stroke-linecap="round"/><path d="M614 419 L616 427" stroke="#f4f4f4" stroke-width="3.75" stroke-linecap="round"/>
<path d="M622 411 L620 404" stroke="#999" stroke-width="4.65" stroke-linecap="round"/><path d="M622 411 L620 404" stroke="#f4f4f4" stroke-width="3.75" stroke-linecap="round"/>
<path d="M628 405 L634 402" stroke="#999" stroke-width="4.65" stroke-linecap="round"/><path d="M628 405 L634 402" stroke="#f4f4f4" stroke-width="3.75" stroke-linecap="round"/>
<path d="M600 424 L598 431" stroke="#999" stroke-width="4.65" stroke-linecap="round"/><path d="M600 424 L598 431" stroke="#f4f4f4" stroke-width="3.75" stroke-linecap="round"/>
<path d="M592 419 L590 412" stroke="#999" stroke-width="4.65" stroke-linecap="round"/><path d="M592 419 L590 412" stroke="#f4f4f4" stroke-width="3.75" stroke-linecap="round"/>
<path d="M628 424 L636 416 L644 422 L652 414 L660 420 L668 413 L674 410" fill="none" stroke="#a87410" stroke-width="5.4" stroke-linecap="round" stroke-linejoin="round"/><path d="M628 424 L636 416 L644 422 L652 414 L660 420 L668 413 L674 410" fill="none" stroke="#f2b322" stroke-width="4.2" stroke-linecap="round" stroke-linejoin="round"/>
<path d="M674 410 L678 408" stroke="#444" stroke-width="5.15" stroke-linecap="round"/><path d="M674 410 L678 408" stroke="#1010e0" stroke-width="4.25" stroke-linecap="round"/>
<path d="M678 408 L683 411" stroke="#999" stroke-width="4.65" stroke-linecap="round"/><path d="M678 408 L683 411" stroke="#f4f4f4" stroke-width="3.75" stroke-linecap="round"/>
<path d="M678 408 L677 402" stroke="#999" stroke-width="4.65" stroke-linecap="round"/><path d="M678 408 L677 402" stroke="#f4f4f4" stroke-width="3.75" stroke-linecap="round"/>
<path d="M674 410 L676 416" stroke="#999" stroke-width="4.65" stroke-linecap="round"/><path d="M674 410 L676 416" stroke="#f4f4f4" stroke-width="3.75" stroke-linecap="round"/>
<path d="M636 416 L636 408" stroke="#999" stroke-width="4.65" stroke-linecap="round"/><path d="M636 416 L636 408" stroke="#f4f4f4" stroke-width="3.75" stroke-linecap="round"/>
<path d="M644 422 L644 430" stroke="#999" stroke-width="4.65" stroke-linecap="round"/><path d="M644 422 L644 430" stroke="#f4f4f4" stroke-width="3.75" stroke-linecap="round"/>
<path d="M652 414 L652 406" stroke="#999" stroke-width="4.65" stroke-linecap="round"/><path d="M652 414 L652 406" stroke="#f4f4f4" stroke-width="3.75" stroke-linecap="round"/>
<path d="M660 420 L662 428" stroke="#999" stroke-width="4.65" stroke-linecap="round"/><path d="M660 420 L662 428" stroke="#f4f4f4" stroke-width="3.75" stroke-linecap="round"/>
<path d="M668 413 L668 406" stroke="#999" stroke-width="4.65" stroke-linecap="round"/><path d="M668 413 L668 406" stroke="#f4f4f4" stroke-width="3.75" stroke-linecap="round"/>
<path d="M590 404 L618 396 L626 430 L604 438 L594 424 Z" fill="#8ad878" stroke="#4a9a3e" stroke-width="1"/>
<path d="M622 432 L646 426 L652 448 L630 458 Z" fill="#7ccc6a" stroke="#4a9a3e" stroke-width="1"/>
<path d="M596 440 L614 434 L620 452 L604 458 Z" fill="#78c866" stroke="#4a9a3e" stroke-width="1"/>
<path d="M596 436 L606 440 L612 448 L620 446 L626 454 L634 456 L642 450 L648 456" fill="none" stroke="#a87410" stroke-width="5.2" stroke-linecap="round" stroke-linejoin="round"/><path d="M596 436 L606 440 L612 448 L620 446 L626 454 L634 456 L642 450 L648 456" fill="none" stroke="#f2b322" stroke-width="4" stroke-linecap="round" stroke-linejoin="round"/>
<path d="M616 430 L622 438 L630 436 L636 444" fill="none" stroke="#a87410" stroke-width="5.2" stroke-linecap="round" stroke-linejoin="round"/><path d="M616 430 L622 438 L630 436 L636 444" fill="none" stroke="#f2b322" stroke-width="4" stroke-linecap="round" stroke-linejoin="round"/>
<path d="M612 448 L607 454" stroke="#444" stroke-width="5.4" stroke-linecap="round"/><path d="M612 448 L607 454" stroke="#e80000" stroke-width="4.5" stroke-linecap="round"/>
<path d="M620 446 L618 438" stroke="#444" stroke-width="5.4" stroke-linecap="round"/><path d="M620 446 L618 438" stroke="#1010e0" stroke-width="4.5" stroke-linecap="round"/>
<path d="M636 444 L641 446" stroke="#444" stroke-width="5.4" stroke-linecap="round"/><path d="M636 444 L641 446" stroke="#e80000" stroke-width="4.5" stroke-linecap="round"/>
<path d="M642 450 L646 452" stroke="#444" stroke-width="5.4" stroke-linecap="round"/><path d="M642 450 L646 452" stroke="#e80000" stroke-width="4.5" stroke-linecap="round"/>
<path d="M626 454 L622 462" stroke="#999" stroke-width="4.65" stroke-linecap="round"/><path d="M626 454 L622 462" stroke="#f4f4f4" stroke-width="3.75" stroke-linecap="round"/>
<path d="M634 456 L634 464" stroke="#999" stroke-width="4.65" stroke-linecap="round"/><path d="M634 456 L634 464" stroke="#f4f4f4" stroke-width="3.75" stroke-linecap="round"/>
<path d="M648 456 L652 462" stroke="#999" stroke-width="4.65" stroke-linecap="round"/><path d="M648 456 L652 462" stroke="#f4f4f4" stroke-width="3.75" stroke-linecap="round"/>
<path d="M630 436 L632 428" stroke="#999" stroke-width="4.65" stroke-linecap="round"/><path d="M630 436 L632 428" stroke="#f4f4f4" stroke-width="3.75" stroke-linecap="round"/>
<path d="M590 432 L593 439" stroke="#444" stroke-width="4.65" stroke-linecap="round"/><path d="M590 432 L593 439" stroke="#111" stroke-width="3.75" stroke-linecap="round"/>
<path d="M604 428 L607 423" stroke="#444" stroke-width="4.15" stroke-linecap="round"/><path d="M604 428 L607 423" stroke="#111" stroke-width="3.25" stroke-linecap="round"/>
</g>
<g clip-path="url(#cp1)">
<rect x="70" y="406.5" width="49.5" height="17.0" fill="#fff"/><text class="res" x="71.2" y="420.6" textLength="46.6" lengthAdjust="spacingAndGlyphs">Gln67</text>
<rect x="211" y="386.5" width="51.0" height="17.0" fill="#fff"/><text class="res" x="211.9" y="400.8" textLength="47.5" lengthAdjust="spacingAndGlyphs">Lys71</text>
<rect x="149.1" y="438.9" width="49.4" height="14.7" fill="#fff"/><text class="res" x="150.4" y="451.7" textLength="46.6" lengthAdjust="spacingAndGlyphs">Phe76</text>
</g>
<g clip-path="url(#cp2)">
<text class="res" x="275.2" y="411" textLength="47.2" lengthAdjust="spacingAndGlyphs">Lys71</text>
<rect x="274" y="463.5" width="48.0" height="16.5" fill="#fff"/><text class="res" x="275.2" y="476" textLength="45.2" lengthAdjust="spacingAndGlyphs">Phe76</text>
<rect x="376" y="392.4" width="49.0" height="13.6" fill="#fff"/><text class="res" x="376.8" y="404.4" textLength="47.6" lengthAdjust="spacingAndGlyphs">Leu75</text>
<text class="res" x="435.2" y="433.6" textLength="47.2" lengthAdjust="spacingAndGlyphs">Lys73</text>
<rect x="401" y="447.6" width="47.0" height="13.4" fill="#fff"/><text class="res" x="401.2" y="459.6" textLength="46.2" lengthAdjust="spacingAndGlyphs">Glu72</text>
<rect x="373" y="462.4" width="49.0" height="16.0" fill="#fff"/><text class="res" x="373.6" y="474" textLength="46.8" lengthAdjust="spacingAndGlyphs">Gly74</text>
</g>
<g clip-path="url(#cp3)">
<text class="res" x="511.2" y="406" textLength="48.2" lengthAdjust="spacingAndGlyphs">Phe76</text>
<text class="res" x="502.8" y="436" textLength="46.6" lengthAdjust="spacingAndGlyphs">Lys71</text>
<text class="res" x="629.2" y="403" textLength="49.2" lengthAdjust="spacingAndGlyphs">Leu75</text>
<text class="res" x="681.6" y="418" textLength="47.8" lengthAdjust="spacingAndGlyphs">Lys73</text>
<rect x="651" y="438" width="48.0" height="14.4" fill="#fff"/><text class="res" x="651.2" y="451" textLength="46.8" lengthAdjust="spacingAndGlyphs">Glu72</text>
<rect x="623" y="462" width="48.0" height="17.0" fill="#fff"/><text class="res" x="623.6" y="474" textLength="46.8" lengthAdjust="spacingAndGlyphs">Gly74</text>
</g>

<rect x="24" y="260" width="716.6" height="220.8" fill="none" stroke="#000" stroke-width="2" rx="1"/>
<path d="M263.5 260V481M502 260V481" stroke="#000" stroke-width="1.6"/>
<text class="sub" x="137.2" y="503" text-anchor="middle">4ns</text>
<text class="sub" x="381.4" y="503" text-anchor="middle">26ns</text>
<text class="sub" x="626.4" y="503" text-anchor="middle">200ns</text>

</svg>
</body></html>
